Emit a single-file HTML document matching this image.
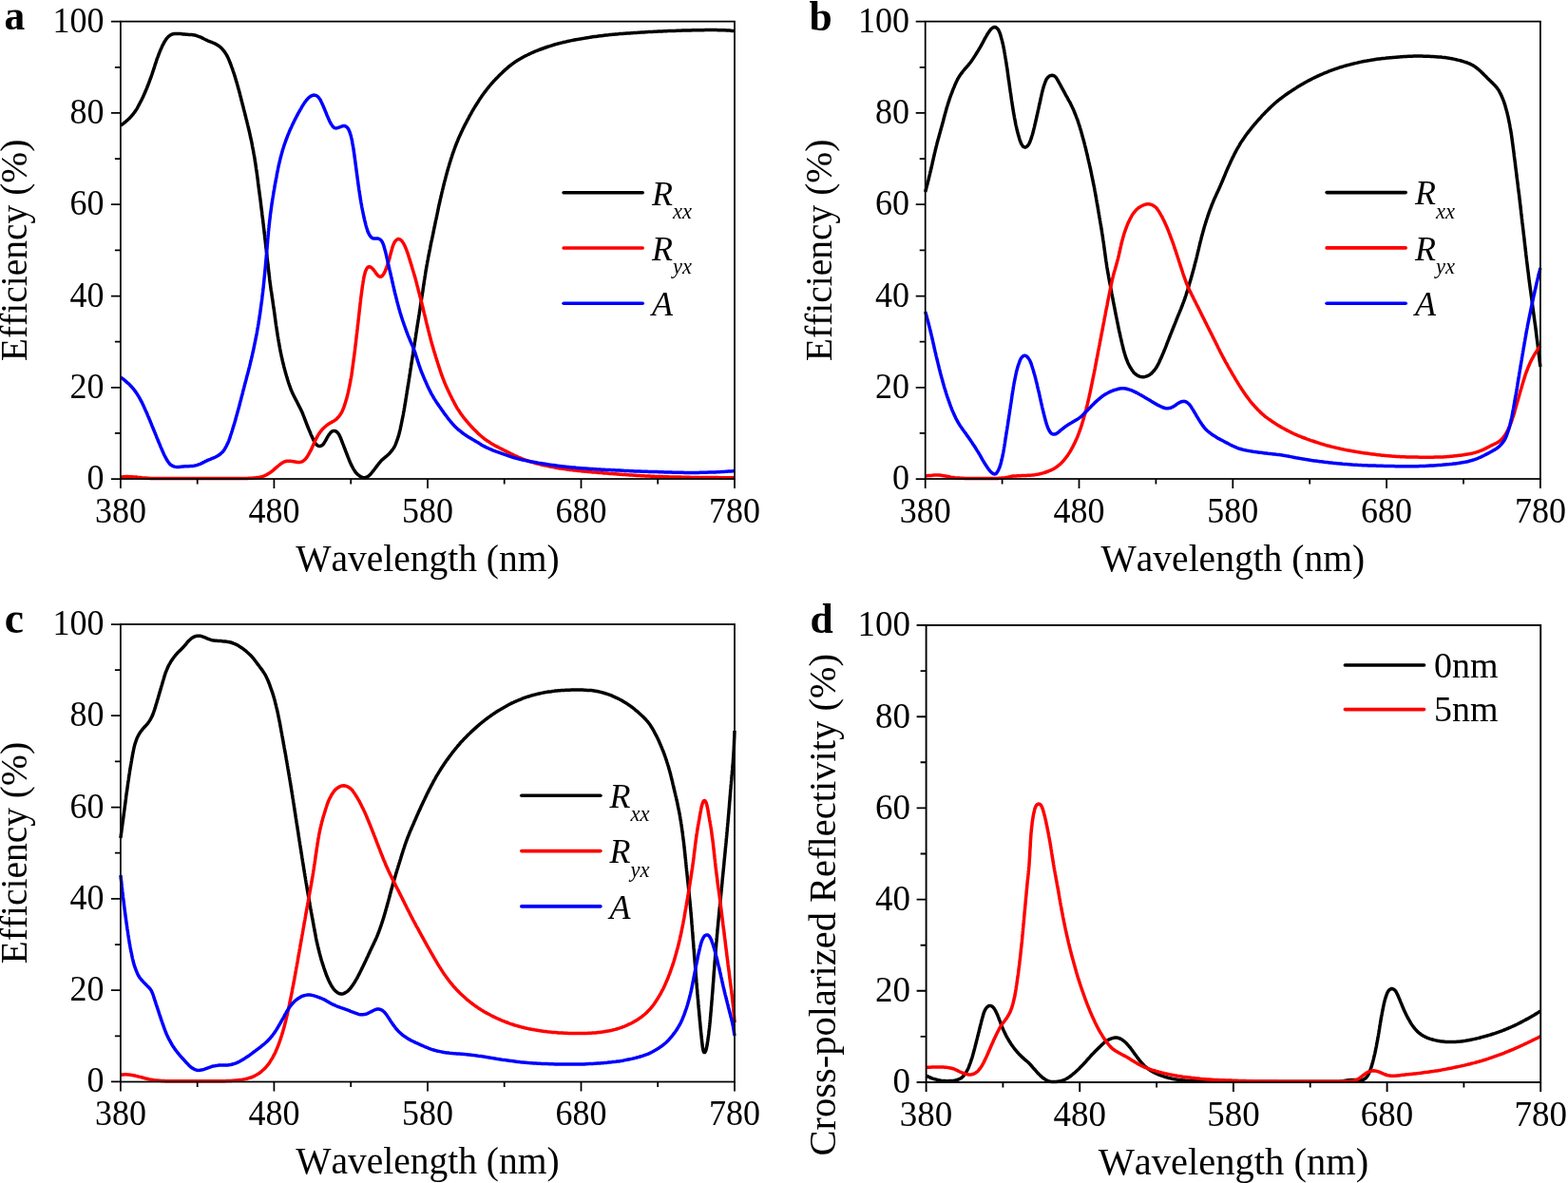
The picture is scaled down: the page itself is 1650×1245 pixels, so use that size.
<!DOCTYPE html>
<html lang="en">
<head>
<meta charset="utf-8">
<title>Efficiency and cross-polarized reflectivity spectra</title>
<style>
html,body{margin:0;padding:0;background:#fff;}
body{width:1650px;height:1245px;overflow:hidden;}
svg{display:block;}
svg text{font-kerning:none;}
</style>
</head>
<body>
<svg width="1650" height="1245" viewBox="0 0 1650 1245">
<rect width="1650" height="1245" fill="#fff"/>
<g class="panel-a">
<path d="M126.9 132.0 L128.2 131.2 L129.4 130.3 L130.6 129.4 L131.8 128.5 L132.9 127.5 L134.0 126.5 L135.1 125.5 L136.2 124.5 L137.2 123.4 L138.3 122.3 L139.2 121.1 L140.2 120.0 L141.1 118.8 L142.0 117.6 L142.8 116.3 L143.6 115.1 L144.4 113.8 L145.1 112.5 L145.8 111.2 L146.5 109.8 L147.2 108.5 L147.9 107.2 L148.6 105.8 L149.3 104.5 L149.9 103.1 L150.6 101.8 L151.2 100.4 L151.8 99.1 L152.4 97.7 L153.0 96.3 L153.6 94.9 L154.2 93.5 L154.7 92.2 L155.3 90.8 L155.8 89.4 L156.4 88.0 L156.9 86.6 L157.4 85.2 L157.9 83.7 L158.5 82.3 L159.0 80.9 L159.5 79.5 L160.0 78.1 L160.4 76.7 L160.9 75.3 L161.4 73.8 L161.9 72.4 L162.3 71.0 L162.8 69.5 L163.2 68.1 L163.7 66.7 L164.2 65.3 L164.6 63.8 L165.1 62.4 L165.6 61.0 L166.2 59.6 L166.7 58.2 L167.2 56.8 L167.8 55.4 L168.3 54.0 L168.9 52.6 L169.5 51.2 L170.1 49.9 L170.7 48.5 L171.4 47.2 L172.1 45.9 L172.8 44.5 L173.6 43.2 L174.4 42.0 L175.2 40.7 L176.2 39.6 L177.2 38.5 L178.4 37.6 L179.6 36.8 L180.9 36.1 L182.3 35.7 L183.8 35.5 L185.3 35.4 L186.8 35.4 L188.3 35.5 L189.8 35.6 L191.3 35.7 L192.8 35.9 L194.3 36.0 L195.8 36.2 L197.2 36.3 L198.7 36.4 L200.2 36.5 L201.7 36.6 L203.2 36.8 L204.7 37.0 L206.2 37.3 L207.6 37.8 L209.0 38.3 L210.4 38.8 L211.8 39.4 L213.1 40.1 L214.4 40.8 L215.8 41.5 L217.1 42.1 L218.5 42.8 L219.9 43.3 L221.2 43.9 L222.6 44.4 L224.0 45.0 L225.4 45.6 L226.8 46.2 L228.1 47.0 L229.3 47.8 L230.6 48.6 L231.8 49.5 L232.9 50.5 L233.9 51.6 L234.9 52.7 L235.8 53.9 L236.7 55.1 L237.5 56.3 L238.3 57.6 L239.0 58.9 L239.7 60.3 L240.3 61.6 L240.9 63.0 L241.5 64.4 L242.0 65.8 L242.6 67.2 L243.1 68.6 L243.6 70.0 L244.1 71.4 L244.7 72.8 L245.1 74.2 L245.6 75.7 L246.1 77.1 L246.6 78.5 L247.0 79.9 L247.5 81.4 L247.9 82.8 L248.3 84.3 L248.7 85.7 L249.2 87.1 L249.6 88.6 L250.0 90.0 L250.4 91.5 L250.8 92.9 L251.2 94.4 L251.6 95.8 L252.0 97.3 L252.4 98.7 L252.7 100.2 L253.1 101.6 L253.5 103.1 L253.8 104.5 L254.2 106.0 L254.6 107.4 L255.0 108.9 L255.3 110.3 L255.7 111.8 L256.1 113.2 L256.4 114.7 L256.8 116.1 L257.2 117.6 L257.6 119.0 L257.9 120.5 L258.3 122.0 L258.7 123.4 L259.0 124.9 L259.4 126.3 L259.8 127.8 L260.1 129.2 L260.5 130.7 L260.8 132.1 L261.2 133.6 L261.5 135.1 L261.9 136.5 L262.2 138.0 L262.6 139.4 L262.9 140.9 L263.2 142.4 L263.5 143.8 L263.8 145.3 L264.2 146.8 L264.5 148.2 L264.8 149.7 L265.1 151.2 L265.4 152.7 L265.6 154.1 L265.9 155.6 L266.2 157.1 L266.5 158.5 L266.8 160.0 L267.0 161.5 L267.3 163.0 L267.6 164.5 L267.8 165.9 L268.1 167.4 L268.3 168.9 L268.5 170.4 L268.8 171.9 L269.0 173.3 L269.2 174.8 L269.4 176.3 L269.6 177.8 L269.9 179.3 L270.1 180.8 L270.3 182.2 L270.5 183.7 L270.7 185.2 L270.9 186.7 L271.1 188.2 L271.3 189.7 L271.5 191.2 L271.6 192.7 L271.8 194.1 L272.0 195.6 L272.2 197.1 L272.4 198.6 L272.6 200.1 L272.8 201.6 L273.0 203.1 L273.2 204.6 L273.4 206.0 L273.6 207.5 L273.8 209.0 L274.0 210.5 L274.2 212.0 L274.4 213.5 L274.5 215.0 L274.7 216.5 L274.9 217.9 L275.1 219.4 L275.3 220.9 L275.5 222.4 L275.7 223.9 L275.8 225.4 L276.0 226.9 L276.2 228.4 L276.4 229.9 L276.6 231.3 L276.7 232.8 L276.9 234.3 L277.1 235.8 L277.3 237.3 L277.4 238.8 L277.6 240.3 L277.8 241.8 L278.0 243.3 L278.1 244.8 L278.3 246.2 L278.5 247.7 L278.6 249.2 L278.8 250.7 L279.0 252.2 L279.2 253.7 L279.3 255.2 L279.5 256.7 L279.7 258.2 L279.8 259.7 L280.0 261.2 L280.2 262.6 L280.3 264.1 L280.5 265.6 L280.7 267.1 L280.8 268.6 L281.0 270.1 L281.2 271.6 L281.3 273.1 L281.5 274.6 L281.7 276.1 L281.9 277.6 L282.0 279.0 L282.2 280.5 L282.4 282.0 L282.5 283.5 L282.7 285.0 L282.9 286.5 L283.0 288.0 L283.2 289.5 L283.4 291.0 L283.6 292.5 L283.7 293.9 L283.9 295.4 L284.1 296.9 L284.3 298.4 L284.5 299.9 L284.7 301.4 L284.9 302.9 L285.1 304.4 L285.3 305.8 L285.6 307.3 L285.8 308.8 L286.0 310.3 L286.2 311.8 L286.4 313.3 L286.6 314.7 L286.9 316.2 L287.1 317.7 L287.3 319.2 L287.5 320.7 L287.7 322.2 L287.9 323.7 L288.2 325.1 L288.4 326.6 L288.6 328.1 L288.8 329.6 L289.0 331.1 L289.2 332.6 L289.4 334.1 L289.6 335.5 L289.8 337.0 L290.0 338.5 L290.2 340.0 L290.4 341.5 L290.6 343.0 L290.9 344.4 L291.1 345.9 L291.3 347.4 L291.5 348.9 L291.8 350.4 L292.0 351.9 L292.2 353.3 L292.5 354.8 L292.7 356.3 L293.0 357.8 L293.2 359.3 L293.5 360.7 L293.7 362.2 L294.0 363.7 L294.3 365.2 L294.5 366.6 L294.8 368.1 L295.1 369.6 L295.4 371.1 L295.7 372.5 L296.0 374.0 L296.3 375.5 L296.7 376.9 L297.0 378.4 L297.3 379.9 L297.7 381.3 L298.0 382.8 L298.4 384.2 L298.7 385.7 L299.1 387.1 L299.5 388.6 L299.9 390.0 L300.3 391.5 L300.7 392.9 L301.1 394.4 L301.5 395.8 L302.0 397.2 L302.4 398.7 L302.8 400.1 L303.3 401.5 L303.7 403.0 L304.2 404.4 L304.7 405.8 L305.2 407.2 L305.7 408.6 L306.2 410.1 L306.8 411.4 L307.4 412.8 L308.0 414.2 L308.7 415.5 L309.3 416.9 L310.0 418.2 L310.7 419.5 L311.4 420.9 L312.1 422.2 L312.8 423.5 L313.4 424.9 L314.1 426.2 L314.8 427.5 L315.5 428.9 L316.2 430.2 L316.8 431.6 L317.5 432.9 L318.1 434.3 L318.7 435.7 L319.2 437.1 L319.8 438.5 L320.3 439.9 L320.8 441.3 L321.4 442.7 L321.9 444.1 L322.4 445.5 L323.0 446.9 L323.5 448.3 L324.1 449.7 L324.6 451.1 L325.2 452.4 L325.8 453.8 L326.4 455.2 L326.9 456.6 L327.5 458.0 L328.2 459.3 L328.8 460.7 L329.4 462.1 L330.0 463.4 L330.7 464.8 L331.5 466.0 L332.4 467.2 L333.4 468.3 L334.6 469.1 L335.9 469.5 L337.2 469.5 L338.5 468.9 L339.6 468.1 L340.6 467.0 L341.4 465.7 L342.2 464.4 L342.9 463.1 L343.6 461.8 L344.3 460.5 L345.1 459.2 L345.9 457.9 L346.8 456.7 L347.7 455.5 L348.7 454.5 L349.9 453.8 L351.3 453.4 L352.6 453.6 L353.9 454.2 L355.0 455.1 L355.9 456.2 L356.8 457.4 L357.4 458.8 L358.1 460.1 L358.6 461.5 L359.2 462.9 L359.7 464.3 L360.3 465.7 L360.8 467.1 L361.4 468.5 L361.9 469.9 L362.4 471.3 L363.0 472.7 L363.5 474.1 L364.0 475.5 L364.6 476.9 L365.1 478.3 L365.7 479.7 L366.2 481.1 L366.8 482.5 L367.3 483.9 L367.9 485.3 L368.5 486.7 L369.1 488.0 L369.7 489.4 L370.4 490.7 L371.1 492.0 L371.8 493.4 L372.6 494.6 L373.4 495.9 L374.3 497.1 L375.3 498.2 L376.4 499.3 L377.5 500.2 L378.7 501.1 L380.0 501.8 L381.4 502.4 L382.8 502.7 L384.2 502.7 L385.6 502.3 L386.9 501.6 L388.1 500.8 L389.2 499.8 L390.2 498.7 L391.2 497.5 L392.1 496.4 L393.1 495.2 L394.0 494.0 L394.9 492.8 L395.8 491.6 L396.7 490.4 L397.6 489.2 L398.5 488.0 L399.5 486.9 L400.4 485.7 L401.5 484.6 L402.5 483.6 L403.7 482.6 L404.8 481.7 L406.0 480.7 L407.1 479.7 L408.2 478.7 L409.3 477.7 L410.3 476.6 L411.3 475.4 L412.2 474.3 L413.2 473.1 L414.0 471.9 L414.8 470.6 L415.5 469.2 L416.1 467.9 L416.7 466.5 L417.2 465.1 L417.7 463.7 L418.2 462.3 L418.7 460.9 L419.2 459.4 L419.6 458.0 L420.0 456.5 L420.4 455.1 L420.7 453.6 L421.1 452.2 L421.4 450.7 L421.7 449.2 L422.0 447.8 L422.3 446.3 L422.6 444.8 L422.9 443.4 L423.2 441.9 L423.5 440.4 L423.8 439.0 L424.1 437.5 L424.4 436.0 L424.6 434.5 L424.9 433.1 L425.2 431.6 L425.4 430.1 L425.7 428.6 L425.9 427.1 L426.2 425.7 L426.4 424.2 L426.7 422.7 L426.9 421.2 L427.1 419.7 L427.4 418.3 L427.6 416.8 L427.8 415.3 L428.1 413.8 L428.3 412.3 L428.5 410.9 L428.8 409.4 L429.0 407.9 L429.3 406.4 L429.5 404.9 L429.7 403.4 L430.0 402.0 L430.2 400.5 L430.4 399.0 L430.7 397.5 L430.9 396.0 L431.1 394.6 L431.4 393.1 L431.6 391.6 L431.8 390.1 L432.0 388.6 L432.3 387.1 L432.5 385.7 L432.7 384.2 L433.0 382.7 L433.2 381.2 L433.4 379.7 L433.7 378.2 L433.9 376.8 L434.1 375.3 L434.3 373.8 L434.6 372.3 L434.8 370.8 L435.0 369.4 L435.3 367.9 L435.5 366.4 L435.7 364.9 L436.0 363.4 L436.2 361.9 L436.4 360.5 L436.7 359.0 L436.9 357.5 L437.1 356.0 L437.4 354.5 L437.6 353.1 L437.8 351.6 L438.0 350.1 L438.3 348.6 L438.5 347.1 L438.7 345.6 L439.0 344.2 L439.2 342.7 L439.4 341.2 L439.7 339.7 L439.9 338.2 L440.1 336.7 L440.4 335.3 L440.6 333.8 L440.8 332.3 L441.1 330.8 L441.3 329.3 L441.5 327.9 L441.8 326.4 L442.0 324.9 L442.2 323.4 L442.4 321.9 L442.7 320.4 L442.9 319.0 L443.1 317.5 L443.4 316.0 L443.6 314.5 L443.8 313.0 L444.1 311.6 L444.3 310.1 L444.5 308.6 L444.8 307.1 L445.0 305.6 L445.2 304.1 L445.4 302.7 L445.6 301.2 L445.9 299.7 L446.1 298.2 L446.3 296.7 L446.5 295.2 L446.8 293.8 L447.0 292.3 L447.2 290.8 L447.5 289.3 L447.7 287.8 L447.9 286.3 L448.2 284.9 L448.4 283.4 L448.7 281.9 L448.9 280.4 L449.2 278.9 L449.5 277.5 L449.7 276.0 L450.0 274.5 L450.3 273.0 L450.5 271.6 L450.8 270.1 L451.1 268.6 L451.4 267.2 L451.7 265.7 L452.0 264.2 L452.3 262.7 L452.6 261.3 L452.8 259.8 L453.1 258.3 L453.4 256.9 L453.7 255.4 L454.0 253.9 L454.4 252.4 L454.7 251.0 L455.0 249.5 L455.3 248.0 L455.6 246.6 L455.9 245.1 L456.2 243.6 L456.5 242.2 L456.8 240.7 L457.1 239.2 L457.4 237.8 L457.7 236.3 L458.0 234.8 L458.3 233.4 L458.6 231.9 L459.0 230.4 L459.3 228.9 L459.6 227.5 L459.9 226.0 L460.2 224.5 L460.5 223.1 L460.8 221.6 L461.1 220.1 L461.4 218.7 L461.7 217.2 L462.0 215.7 L462.4 214.3 L462.7 212.8 L463.0 211.3 L463.3 209.9 L463.7 208.4 L464.0 207.0 L464.4 205.5 L464.7 204.0 L465.0 202.6 L465.4 201.1 L465.7 199.7 L466.1 198.2 L466.4 196.7 L466.8 195.3 L467.2 193.8 L467.5 192.4 L467.9 190.9 L468.3 189.5 L468.7 188.0 L469.0 186.6 L469.4 185.1 L469.8 183.7 L470.2 182.2 L470.6 180.8 L471.0 179.3 L471.4 177.9 L471.8 176.4 L472.3 175.0 L472.7 173.6 L473.1 172.1 L473.5 170.7 L474.0 169.3 L474.4 167.8 L474.9 166.4 L475.4 165.0 L475.8 163.5 L476.3 162.1 L476.8 160.7 L477.3 159.3 L477.8 157.9 L478.3 156.5 L478.8 155.1 L479.3 153.7 L479.9 152.3 L480.4 150.9 L481.0 149.5 L481.6 148.1 L482.1 146.7 L482.7 145.3 L483.3 143.9 L483.9 142.6 L484.6 141.2 L485.2 139.8 L485.8 138.5 L486.5 137.1 L487.1 135.8 L487.8 134.4 L488.4 133.1 L489.1 131.7 L489.8 130.4 L490.5 129.1 L491.2 127.7 L491.9 126.4 L492.6 125.1 L493.3 123.8 L494.0 122.4 L494.7 121.1 L495.5 119.8 L496.2 118.5 L496.9 117.2 L497.7 115.9 L498.4 114.6 L499.2 113.3 L500.0 112.0 L500.8 110.8 L501.6 109.5 L502.4 108.2 L503.2 107.0 L504.0 105.7 L504.8 104.4 L505.6 103.2 L506.5 102.0 L507.3 100.7 L508.2 99.5 L509.1 98.3 L510.0 97.1 L510.9 95.9 L511.8 94.7 L512.7 93.5 L513.7 92.3 L514.6 91.2 L515.6 90.0 L516.5 88.9 L517.5 87.8 L518.5 86.6 L519.5 85.5 L520.5 84.4 L521.6 83.3 L522.6 82.2 L523.7 81.2 L524.7 80.1 L525.8 79.0 L526.8 78.0 L527.9 77.0 L529.0 75.9 L530.1 74.9 L531.2 73.9 L532.3 72.9 L533.5 71.9 L534.6 70.9 L535.7 69.9 L536.9 69.0 L538.1 68.1 L539.3 67.2 L540.5 66.3 L541.7 65.4 L543.0 64.6 L544.2 63.8 L545.5 63.0 L546.8 62.2 L548.1 61.5 L549.4 60.7 L550.7 60.0 L552.0 59.3 L553.4 58.6 L554.7 58.0 L556.1 57.3 L557.4 56.7 L558.8 56.0 L560.1 55.4 L561.5 54.8 L562.9 54.2 L564.3 53.7 L565.7 53.1 L567.1 52.5 L568.5 52.0 L569.9 51.5 L571.3 51.0 L572.7 50.5 L574.1 50.0 L575.5 49.5 L577.0 49.0 L578.4 48.6 L579.8 48.1 L581.3 47.7 L582.7 47.2 L584.1 46.8 L585.6 46.4 L587.0 46.0 L588.5 45.6 L589.9 45.2 L591.4 44.9 L592.8 44.5 L594.3 44.2 L595.8 43.9 L597.2 43.5 L598.7 43.2 L600.2 42.9 L601.6 42.6 L603.1 42.3 L604.6 42.0 L606.0 41.7 L607.5 41.4 L609.0 41.2 L610.5 40.9 L612.0 40.7 L613.4 40.4 L614.9 40.2 L616.4 39.9 L617.9 39.7 L619.4 39.5 L620.8 39.3 L622.3 39.0 L623.8 38.8 L625.3 38.6 L626.8 38.4 L628.3 38.2 L629.8 38.0 L631.2 37.8 L632.7 37.7 L634.2 37.5 L635.7 37.3 L637.2 37.1 L638.7 36.9 L640.2 36.8 L641.7 36.6 L643.2 36.5 L644.7 36.3 L646.1 36.2 L647.6 36.0 L649.1 35.9 L650.6 35.8 L652.1 35.6 L653.6 35.5 L655.1 35.4 L656.6 35.3 L658.1 35.2 L659.6 35.1 L661.1 35.0 L662.6 34.9 L664.1 34.8 L665.6 34.7 L667.1 34.6 L668.6 34.5 L670.1 34.4 L671.6 34.3 L673.1 34.2 L674.6 34.1 L676.1 34.0 L677.6 33.9 L679.1 33.8 L680.6 33.7 L682.1 33.6 L683.6 33.5 L685.1 33.5 L686.6 33.4 L688.1 33.3 L689.6 33.2 L691.1 33.2 L692.5 33.1 L694.0 33.0 L695.5 33.0 L697.0 32.9 L698.5 32.8 L700.0 32.8 L701.5 32.7 L703.0 32.6 L704.5 32.6 L706.0 32.5 L707.5 32.5 L709.0 32.4 L710.5 32.4 L712.0 32.3 L713.5 32.3 L715.0 32.2 L716.5 32.2 L718.0 32.1 L719.5 32.1 L721.0 32.0 L722.5 32.0 L724.0 31.9 L725.5 31.9 L727.0 31.9 L728.5 31.8 L730.0 31.8 L731.5 31.8 L733.0 31.8 L734.5 31.7 L736.0 31.7 L737.5 31.7 L739.0 31.7 L740.5 31.7 L742.0 31.6 L743.5 31.6 L745.0 31.6 L746.5 31.6 L748.0 31.6 L749.5 31.6 L751.0 31.6 L752.5 31.6 L754.0 31.6 L755.5 31.7 L757.0 31.7 L758.5 31.7 L760.0 31.8 L761.5 31.8 L763.0 31.8 L764.5 31.9 L766.0 32.0 L767.5 32.1 L769.0 32.2 L770.5 32.4 L772.0 32.5 L773.0 32.6" fill="none" stroke="#000" stroke-width="3.5" stroke-linejoin="round" stroke-linecap="butt"/>
<path d="M126.9 502.0 L128.4 501.9 L129.9 501.8 L131.4 501.7 L132.9 501.6 L134.4 501.6 L135.9 501.7 L137.4 501.7 L138.9 501.8 L140.4 501.9 L141.9 502.0 L143.4 502.1 L144.9 502.3 L146.4 502.4 L147.8 502.6 L149.3 502.8 L150.8 502.9 L152.3 503.0 L153.8 503.1 L155.3 503.2 L156.8 503.3 L158.3 503.4 L159.8 503.4 L161.3 503.4 L162.8 503.4 L164.3 503.4 L165.8 503.4 L167.3 503.4 L168.8 503.4 L170.3 503.4 L171.8 503.4 L173.3 503.4 L174.8 503.4 L176.3 503.4 L177.8 503.4 L179.3 503.4 L180.8 503.4 L182.3 503.4 L183.8 503.4 L185.3 503.4 L186.8 503.4 L188.3 503.4 L189.8 503.4 L191.3 503.4 L192.8 503.4 L194.3 503.4 L195.8 503.4 L197.3 503.4 L198.8 503.4 L200.3 503.4 L201.8 503.4 L203.3 503.4 L204.8 503.4 L206.3 503.4 L207.8 503.4 L209.3 503.4 L210.8 503.4 L212.3 503.4 L213.8 503.4 L215.3 503.4 L216.8 503.4 L218.3 503.4 L219.8 503.4 L221.3 503.4 L222.8 503.4 L224.3 503.4 L225.8 503.4 L227.3 503.4 L228.8 503.4 L230.3 503.4 L231.8 503.4 L233.3 503.4 L234.8 503.4 L236.3 503.4 L237.8 503.4 L239.3 503.4 L240.8 503.4 L242.3 503.4 L243.8 503.4 L245.3 503.4 L246.8 503.4 L248.3 503.4 L249.8 503.4 L251.3 503.4 L252.8 503.4 L254.3 503.4 L255.8 503.4 L257.3 503.4 L258.8 503.4 L260.3 503.4 L261.8 503.3 L263.3 503.3 L264.8 503.2 L266.3 503.1 L267.8 503.0 L269.3 502.8 L270.8 502.6 L272.3 502.4 L273.7 502.1 L275.2 501.8 L276.6 501.3 L278.0 500.8 L279.4 500.2 L280.7 499.6 L282.0 498.8 L283.3 498.0 L284.5 497.2 L285.7 496.3 L286.9 495.4 L288.1 494.4 L289.2 493.4 L290.3 492.4 L291.5 491.4 L292.6 490.5 L293.8 489.5 L294.9 488.6 L296.1 487.7 L297.4 486.9 L298.7 486.2 L300.1 485.7 L301.5 485.3 L303.0 485.2 L304.5 485.2 L306.0 485.3 L307.4 485.6 L308.9 485.8 L310.4 486.0 L311.9 486.2 L313.4 486.4 L314.9 486.4 L316.3 486.3 L317.7 485.9 L319.0 485.2 L320.1 484.3 L321.2 483.2 L322.2 482.1 L323.1 480.9 L323.9 479.6 L324.6 478.3 L325.4 477.0 L326.1 475.7 L326.8 474.4 L327.5 473.1 L328.1 471.7 L328.7 470.3 L329.3 469.0 L329.9 467.6 L330.5 466.2 L331.1 464.8 L331.8 463.5 L332.4 462.1 L333.1 460.8 L333.9 459.5 L334.6 458.2 L335.4 456.9 L336.2 455.7 L337.1 454.4 L338.0 453.3 L339.0 452.1 L340.0 451.0 L341.1 450.0 L342.2 449.0 L343.4 448.0 L344.5 447.1 L345.7 446.2 L347.0 445.4 L348.3 444.7 L349.6 443.9 L350.9 443.2 L352.2 442.4 L353.4 441.6 L354.5 440.6 L355.5 439.5 L356.5 438.4 L357.4 437.2 L358.3 435.9 L359.1 434.7 L359.8 433.4 L360.5 432.0 L361.0 430.6 L361.6 429.2 L362.1 427.8 L362.6 426.4 L363.0 425.0 L363.5 423.6 L363.9 422.1 L364.4 420.7 L364.8 419.2 L365.2 417.8 L365.6 416.3 L365.9 414.9 L366.3 413.4 L366.6 412.0 L366.9 410.5 L367.2 409.0 L367.5 407.6 L367.8 406.1 L368.1 404.6 L368.4 403.2 L368.7 401.7 L368.9 400.2 L369.2 398.7 L369.5 397.3 L369.7 395.8 L370.0 394.3 L370.2 392.8 L370.4 391.3 L370.6 389.8 L370.8 388.4 L371.0 386.9 L371.2 385.4 L371.4 383.9 L371.6 382.4 L371.8 380.9 L372.0 379.4 L372.2 377.9 L372.4 376.5 L372.6 375.0 L372.8 373.5 L373.0 372.0 L373.2 370.5 L373.4 369.0 L373.6 367.5 L373.7 366.0 L373.9 364.6 L374.1 363.1 L374.3 361.6 L374.5 360.1 L374.6 358.6 L374.8 357.1 L375.0 355.6 L375.1 354.1 L375.3 352.6 L375.5 351.1 L375.7 349.7 L375.8 348.2 L376.0 346.7 L376.2 345.2 L376.3 343.7 L376.5 342.2 L376.7 340.7 L376.9 339.2 L377.0 337.7 L377.2 336.2 L377.4 334.8 L377.5 333.3 L377.7 331.8 L377.9 330.3 L378.0 328.8 L378.2 327.3 L378.4 325.8 L378.5 324.3 L378.7 322.8 L378.9 321.3 L379.0 319.8 L379.2 318.4 L379.4 316.9 L379.5 315.4 L379.7 313.9 L379.9 312.4 L380.1 310.9 L380.3 309.4 L380.5 307.9 L380.7 306.4 L380.9 305.0 L381.1 303.5 L381.3 302.0 L381.5 300.5 L381.8 299.0 L382.0 297.5 L382.2 296.1 L382.5 294.6 L382.7 293.1 L383.0 291.6 L383.3 290.2 L383.7 288.7 L384.1 287.3 L384.5 285.8 L385.1 284.4 L385.7 283.1 L386.4 281.9 L387.4 281.0 L388.5 280.7 L389.8 280.9 L391.0 281.7 L392.0 282.7 L393.0 283.8 L393.9 285.0 L394.8 286.2 L395.6 287.5 L396.6 288.6 L397.5 289.8 L398.6 290.7 L399.7 291.3 L400.9 291.2 L402.0 290.5 L402.9 289.5 L403.8 288.2 L404.5 286.9 L405.2 285.6 L405.7 284.2 L406.3 282.8 L406.8 281.4 L407.3 280.0 L407.8 278.6 L408.3 277.1 L408.7 275.7 L409.1 274.3 L409.6 272.8 L410.0 271.4 L410.3 269.9 L410.7 268.5 L411.1 267.0 L411.5 265.6 L411.9 264.1 L412.3 262.7 L412.7 261.2 L413.1 259.8 L413.6 258.4 L414.2 257.0 L414.8 255.6 L415.5 254.4 L416.4 253.2 L417.5 252.2 L418.7 251.6 L419.9 251.6 L421.2 252.1 L422.3 253.0 L423.3 254.1 L424.1 255.4 L424.9 256.6 L425.6 258.0 L426.2 259.3 L426.8 260.7 L427.4 262.1 L427.9 263.5 L428.4 264.9 L428.9 266.3 L429.4 267.7 L429.9 269.2 L430.3 270.6 L430.8 272.0 L431.2 273.5 L431.6 274.9 L432.1 276.3 L432.5 277.8 L432.9 279.2 L433.4 280.6 L433.8 282.1 L434.2 283.5 L434.7 284.9 L435.1 286.4 L435.5 287.8 L436.0 289.3 L436.4 290.7 L436.8 292.1 L437.2 293.6 L437.6 295.0 L438.0 296.5 L438.4 297.9 L438.7 299.4 L439.1 300.8 L439.5 302.3 L439.9 303.7 L440.2 305.2 L440.6 306.6 L441.0 308.1 L441.4 309.5 L441.7 311.0 L442.1 312.4 L442.5 313.9 L442.9 315.4 L443.2 316.8 L443.6 318.3 L444.0 319.7 L444.3 321.2 L444.7 322.6 L445.0 324.1 L445.4 325.5 L445.7 327.0 L446.1 328.5 L446.4 329.9 L446.8 331.4 L447.2 332.8 L447.5 334.3 L447.9 335.8 L448.2 337.2 L448.6 338.7 L448.9 340.1 L449.3 341.6 L449.6 343.0 L450.0 344.5 L450.4 345.9 L450.7 347.4 L451.1 348.9 L451.5 350.3 L451.8 351.8 L452.2 353.2 L452.6 354.7 L453.0 356.1 L453.3 357.6 L453.7 359.0 L454.1 360.5 L454.5 361.9 L454.9 363.4 L455.4 364.8 L455.8 366.2 L456.2 367.7 L456.6 369.1 L457.1 370.6 L457.5 372.0 L457.9 373.4 L458.4 374.9 L458.8 376.3 L459.3 377.7 L459.7 379.1 L460.2 380.6 L460.6 382.0 L461.1 383.4 L461.5 384.9 L462.0 386.3 L462.5 387.7 L462.9 389.2 L463.4 390.6 L463.9 392.0 L464.3 393.4 L464.8 394.8 L465.4 396.2 L465.9 397.6 L466.4 399.0 L467.0 400.4 L467.5 401.8 L468.1 403.2 L468.7 404.6 L469.3 406.0 L469.9 407.3 L470.5 408.7 L471.2 410.1 L471.8 411.4 L472.4 412.8 L473.1 414.1 L473.7 415.5 L474.4 416.8 L475.1 418.2 L475.7 419.5 L476.4 420.9 L477.1 422.2 L477.8 423.5 L478.5 424.9 L479.2 426.2 L479.9 427.5 L480.7 428.8 L481.4 430.1 L482.2 431.3 L483.1 432.6 L483.9 433.8 L484.7 435.1 L485.6 436.3 L486.5 437.5 L487.4 438.7 L488.3 439.9 L489.3 441.1 L490.2 442.2 L491.2 443.4 L492.1 444.5 L493.1 445.6 L494.1 446.8 L495.1 447.9 L496.1 449.0 L497.2 450.1 L498.2 451.2 L499.3 452.2 L500.3 453.3 L501.4 454.3 L502.5 455.4 L503.5 456.4 L504.6 457.5 L505.8 458.5 L506.9 459.5 L508.0 460.4 L509.2 461.4 L510.4 462.3 L511.6 463.1 L512.8 464.0 L514.1 464.8 L515.4 465.6 L516.6 466.4 L517.9 467.2 L519.2 467.9 L520.5 468.7 L521.8 469.4 L523.2 470.1 L524.5 470.8 L525.8 471.5 L527.2 472.2 L528.5 472.8 L529.8 473.5 L531.2 474.2 L532.5 474.9 L533.8 475.6 L535.2 476.2 L536.5 476.9 L537.9 477.6 L539.2 478.2 L540.6 478.9 L541.9 479.5 L543.3 480.1 L544.7 480.8 L546.0 481.4 L547.4 481.9 L548.8 482.5 L550.2 483.1 L551.6 483.6 L553.0 484.1 L554.4 484.6 L555.8 485.1 L557.3 485.6 L558.7 486.0 L560.1 486.4 L561.6 486.9 L563.0 487.3 L564.5 487.7 L565.9 488.1 L567.4 488.4 L568.8 488.8 L570.3 489.2 L571.7 489.5 L573.2 489.8 L574.7 490.1 L576.1 490.4 L577.6 490.7 L579.1 491.0 L580.5 491.3 L582.0 491.6 L583.5 491.9 L585.0 492.2 L586.4 492.4 L587.9 492.7 L589.4 492.9 L590.9 493.1 L592.4 493.4 L593.9 493.6 L595.3 493.8 L596.8 494.0 L598.3 494.2 L599.8 494.4 L601.3 494.6 L602.8 494.8 L604.3 495.0 L605.8 495.1 L607.2 495.3 L608.7 495.5 L610.2 495.6 L611.7 495.8 L613.2 495.9 L614.7 496.1 L616.2 496.2 L617.7 496.3 L619.2 496.5 L620.7 496.6 L622.2 496.7 L623.7 496.9 L625.2 497.0 L626.7 497.1 L628.2 497.2 L629.7 497.4 L631.1 497.5 L632.6 497.6 L634.1 497.7 L635.6 497.9 L637.1 498.0 L638.6 498.1 L640.1 498.2 L641.6 498.4 L643.1 498.5 L644.6 498.6 L646.1 498.7 L647.6 498.8 L649.1 498.9 L650.6 499.0 L652.1 499.2 L653.6 499.3 L655.1 499.4 L656.6 499.5 L658.1 499.6 L659.6 499.7 L661.1 499.8 L662.6 499.9 L664.1 500.0 L665.5 500.1 L667.0 500.2 L668.5 500.3 L670.0 500.4 L671.5 500.5 L673.0 500.6 L674.5 500.7 L676.0 500.7 L677.5 500.8 L679.0 500.9 L680.5 501.0 L682.0 501.1 L683.5 501.1 L685.0 501.2 L686.5 501.3 L688.0 501.3 L689.5 501.4 L691.0 501.4 L692.5 501.5 L694.0 501.5 L695.5 501.6 L697.0 501.6 L698.5 501.7 L700.0 501.7 L701.5 501.8 L703.0 501.8 L704.5 501.9 L706.0 501.9 L707.5 501.9 L709.0 502.0 L710.5 502.0 L712.0 502.0 L713.5 502.1 L715.0 502.1 L716.5 502.1 L718.0 502.2 L719.5 502.2 L721.0 502.2 L722.5 502.3 L724.0 502.3 L725.5 502.3 L727.0 502.4 L728.5 502.4 L730.0 502.4 L731.5 502.4 L733.0 502.4 L734.5 502.5 L736.0 502.5 L737.5 502.5 L739.0 502.5 L740.5 502.5 L742.0 502.5 L743.5 502.5 L745.0 502.6 L746.5 502.6 L748.0 502.6 L749.5 502.6 L751.0 502.6 L752.5 502.6 L754.0 502.6 L755.5 502.6 L757.0 502.7 L758.5 502.7 L760.0 502.7 L761.5 502.7 L763.0 502.7 L764.5 502.7 L766.0 502.7 L767.5 502.8 L769.0 502.8 L770.5 502.8 L772.0 502.8 L773.0 502.8" fill="none" stroke="#ff0000" stroke-width="3.5" stroke-linejoin="round" stroke-linecap="butt"/>
<path d="M126.9 397.0 L128.1 397.9 L129.3 398.7 L130.5 399.7 L131.7 400.6 L132.8 401.6 L133.9 402.6 L135.1 403.6 L136.1 404.6 L137.2 405.7 L138.2 406.8 L139.2 407.9 L140.2 409.1 L141.1 410.2 L142.0 411.4 L142.9 412.6 L143.8 413.9 L144.6 415.1 L145.3 416.4 L146.1 417.7 L146.9 419.0 L147.6 420.3 L148.3 421.6 L149.0 422.9 L149.7 424.3 L150.3 425.6 L151.0 427.0 L151.6 428.4 L152.2 429.7 L152.8 431.1 L153.4 432.5 L154.1 433.8 L154.7 435.2 L155.2 436.6 L155.8 438.0 L156.4 439.3 L157.0 440.7 L157.6 442.1 L158.1 443.5 L158.7 444.9 L159.3 446.3 L159.8 447.7 L160.4 449.1 L161.0 450.5 L161.5 451.8 L162.1 453.2 L162.7 454.6 L163.2 456.0 L163.8 457.4 L164.4 458.8 L164.9 460.2 L165.5 461.6 L166.1 463.0 L166.6 464.3 L167.2 465.7 L167.8 467.1 L168.4 468.5 L168.9 469.9 L169.5 471.3 L170.1 472.6 L170.7 474.0 L171.3 475.4 L171.9 476.8 L172.5 478.1 L173.2 479.5 L173.9 480.8 L174.6 482.2 L175.3 483.5 L176.1 484.7 L176.9 486.0 L177.8 487.2 L178.7 488.3 L179.9 489.3 L181.1 490.1 L182.4 490.7 L183.9 491.1 L185.3 491.4 L186.8 491.4 L188.3 491.4 L189.8 491.2 L191.3 491.1 L192.7 490.9 L194.2 490.8 L195.7 490.8 L197.2 490.7 L198.7 490.7 L200.2 490.6 L201.7 490.6 L203.2 490.4 L204.7 490.1 L206.1 489.8 L207.6 489.4 L209.0 488.9 L210.4 488.4 L211.8 487.8 L213.1 487.1 L214.5 486.4 L215.8 485.7 L217.1 485.1 L218.5 484.4 L219.9 483.8 L221.3 483.3 L222.7 482.7 L224.1 482.2 L225.4 481.6 L226.8 481.0 L228.1 480.3 L229.4 479.5 L230.6 478.7 L231.9 477.8 L233.0 476.8 L234.1 475.8 L235.0 474.7 L235.9 473.4 L236.7 472.2 L237.4 470.9 L238.2 469.6 L238.8 468.2 L239.5 466.9 L240.1 465.5 L240.7 464.1 L241.2 462.7 L241.7 461.3 L242.2 459.9 L242.6 458.4 L243.1 457.0 L243.6 455.6 L244.0 454.2 L244.5 452.7 L244.9 451.3 L245.3 449.9 L245.8 448.4 L246.2 447.0 L246.7 445.6 L247.1 444.1 L247.5 442.7 L247.9 441.2 L248.3 439.8 L248.7 438.3 L249.1 436.9 L249.5 435.5 L249.9 434.0 L250.3 432.6 L250.7 431.1 L251.1 429.7 L251.5 428.2 L251.9 426.8 L252.3 425.3 L252.6 423.9 L253.0 422.4 L253.4 421.0 L253.8 419.5 L254.1 418.1 L254.5 416.6 L254.9 415.2 L255.3 413.7 L255.6 412.3 L256.0 410.8 L256.4 409.3 L256.8 407.9 L257.1 406.4 L257.5 405.0 L257.9 403.5 L258.3 402.1 L258.7 400.6 L259.1 399.2 L259.4 397.7 L259.8 396.3 L260.2 394.8 L260.6 393.4 L261.0 391.9 L261.4 390.5 L261.7 389.0 L262.1 387.6 L262.5 386.1 L262.8 384.7 L263.2 383.2 L263.5 381.8 L263.9 380.3 L264.2 378.8 L264.6 377.4 L264.9 375.9 L265.3 374.5 L265.6 373.0 L265.9 371.5 L266.3 370.1 L266.6 368.6 L266.9 367.1 L267.2 365.7 L267.5 364.2 L267.8 362.7 L268.1 361.3 L268.4 359.8 L268.7 358.3 L269.0 356.9 L269.3 355.4 L269.6 353.9 L269.9 352.4 L270.2 351.0 L270.4 349.5 L270.7 348.0 L270.9 346.5 L271.2 345.1 L271.5 343.6 L271.7 342.1 L272.0 340.6 L272.2 339.1 L272.4 337.7 L272.7 336.2 L272.9 334.7 L273.1 333.2 L273.4 331.7 L273.6 330.2 L273.8 328.8 L274.0 327.3 L274.2 325.8 L274.4 324.3 L274.6 322.8 L274.8 321.3 L275.0 319.8 L275.2 318.4 L275.4 316.9 L275.6 315.4 L275.8 313.9 L275.9 312.4 L276.1 310.9 L276.3 309.4 L276.5 307.9 L276.7 306.4 L276.8 305.0 L277.0 303.5 L277.2 302.0 L277.3 300.5 L277.5 299.0 L277.6 297.5 L277.8 296.0 L277.9 294.5 L278.1 293.0 L278.2 291.5 L278.4 290.0 L278.5 288.5 L278.7 287.1 L278.8 285.6 L279.0 284.1 L279.1 282.6 L279.3 281.1 L279.4 279.6 L279.5 278.1 L279.7 276.6 L279.8 275.1 L279.9 273.6 L280.1 272.1 L280.2 270.6 L280.3 269.1 L280.5 267.6 L280.6 266.1 L280.7 264.6 L280.8 263.1 L281.0 261.7 L281.1 260.2 L281.2 258.7 L281.3 257.2 L281.5 255.7 L281.6 254.2 L281.7 252.7 L281.8 251.2 L282.0 249.7 L282.1 248.2 L282.3 246.7 L282.4 245.2 L282.5 243.7 L282.7 242.2 L282.8 240.7 L283.0 239.2 L283.1 237.8 L283.3 236.3 L283.5 234.8 L283.6 233.3 L283.8 231.8 L284.0 230.3 L284.2 228.8 L284.3 227.3 L284.5 225.8 L284.7 224.3 L284.9 222.9 L285.1 221.4 L285.3 219.9 L285.5 218.4 L285.7 216.9 L285.9 215.4 L286.2 213.9 L286.4 212.5 L286.6 211.0 L286.8 209.5 L287.1 208.0 L287.3 206.5 L287.6 205.1 L287.8 203.6 L288.0 202.1 L288.3 200.6 L288.6 199.1 L288.8 197.7 L289.1 196.2 L289.3 194.7 L289.6 193.2 L289.9 191.7 L290.1 190.3 L290.4 188.8 L290.7 187.3 L291.0 185.8 L291.2 184.4 L291.5 182.9 L291.8 181.4 L292.1 180.0 L292.4 178.5 L292.7 177.0 L293.0 175.5 L293.3 174.1 L293.6 172.6 L294.0 171.2 L294.3 169.7 L294.7 168.2 L295.0 166.8 L295.4 165.3 L295.8 163.9 L296.2 162.4 L296.6 161.0 L297.0 159.5 L297.4 158.1 L297.8 156.7 L298.3 155.2 L298.7 153.8 L299.2 152.4 L299.7 151.0 L300.2 149.6 L300.7 148.1 L301.2 146.7 L301.8 145.3 L302.3 143.9 L302.8 142.5 L303.4 141.1 L304.0 139.7 L304.5 138.4 L305.1 137.0 L305.7 135.6 L306.4 134.2 L307.0 132.9 L307.6 131.5 L308.3 130.2 L308.9 128.8 L309.6 127.5 L310.2 126.1 L310.9 124.8 L311.6 123.5 L312.3 122.1 L313.0 120.8 L313.7 119.5 L314.5 118.2 L315.2 116.9 L315.9 115.6 L316.7 114.3 L317.4 113.0 L318.2 111.7 L319.0 110.4 L319.8 109.1 L320.6 107.9 L321.5 106.7 L322.4 105.5 L323.4 104.4 L324.4 103.3 L325.5 102.3 L326.7 101.4 L328.0 100.7 L329.4 100.3 L330.8 100.1 L332.2 100.4 L333.5 101.0 L334.6 101.9 L335.6 103.0 L336.5 104.2 L337.3 105.5 L337.9 106.8 L338.6 108.2 L339.2 109.5 L339.8 110.9 L340.4 112.3 L341.0 113.7 L341.6 115.1 L342.1 116.5 L342.7 117.8 L343.3 119.2 L343.8 120.6 L344.4 122.0 L345.0 123.4 L345.6 124.8 L346.2 126.1 L346.8 127.5 L347.5 128.8 L348.2 130.2 L349.0 131.4 L349.8 132.6 L350.8 133.7 L351.9 134.6 L353.2 134.9 L354.5 134.8 L355.9 134.4 L357.3 133.8 L358.7 133.3 L360.1 132.8 L361.5 132.5 L362.9 132.6 L364.1 133.1 L365.2 134.0 L366.2 135.1 L366.9 136.4 L367.5 137.8 L368.1 139.2 L368.5 140.6 L369.0 142.0 L369.4 143.5 L369.7 144.9 L370.1 146.4 L370.4 147.8 L370.7 149.3 L370.9 150.8 L371.2 152.3 L371.4 153.7 L371.7 155.2 L371.9 156.7 L372.2 158.2 L372.4 159.7 L372.6 161.2 L372.8 162.6 L373.0 164.1 L373.2 165.6 L373.4 167.1 L373.6 168.6 L373.8 170.1 L374.0 171.6 L374.2 173.0 L374.4 174.5 L374.6 176.0 L374.8 177.5 L375.0 179.0 L375.2 180.5 L375.4 182.0 L375.6 183.5 L375.8 184.9 L376.0 186.4 L376.2 187.9 L376.4 189.4 L376.6 190.9 L376.8 192.4 L377.0 193.9 L377.2 195.3 L377.4 196.8 L377.6 198.3 L377.8 199.8 L378.1 201.3 L378.3 202.8 L378.5 204.3 L378.7 205.7 L379.0 207.2 L379.2 208.7 L379.4 210.2 L379.7 211.7 L379.9 213.1 L380.2 214.6 L380.5 216.1 L380.7 217.6 L381.0 219.0 L381.3 220.5 L381.6 222.0 L381.9 223.5 L382.2 224.9 L382.5 226.4 L382.8 227.9 L383.1 229.3 L383.5 230.8 L383.8 232.2 L384.2 233.7 L384.6 235.2 L384.9 236.6 L385.3 238.1 L385.7 239.5 L386.2 240.9 L386.6 242.4 L387.1 243.8 L387.7 245.2 L388.4 246.5 L389.1 247.8 L390.0 249.0 L391.0 250.0 L392.2 250.7 L393.6 251.0 L395.1 251.0 L396.5 251.0 L398.0 251.1 L399.3 251.6 L400.5 252.4 L401.4 253.4 L402.2 254.7 L402.9 256.0 L403.4 257.4 L403.9 258.8 L404.3 260.3 L404.7 261.7 L405.1 263.2 L405.5 264.6 L405.9 266.1 L406.2 267.5 L406.6 269.0 L406.9 270.5 L407.2 271.9 L407.6 273.4 L407.9 274.8 L408.2 276.3 L408.5 277.8 L408.9 279.2 L409.2 280.7 L409.6 282.2 L409.9 283.6 L410.3 285.1 L410.6 286.5 L410.9 288.0 L411.3 289.5 L411.6 290.9 L412.0 292.4 L412.3 293.8 L412.6 295.3 L412.9 296.8 L413.3 298.2 L413.6 299.7 L413.9 301.2 L414.3 302.6 L414.6 304.1 L414.9 305.5 L415.3 307.0 L415.6 308.5 L416.0 309.9 L416.4 311.4 L416.7 312.8 L417.1 314.3 L417.5 315.7 L417.8 317.2 L418.2 318.6 L418.6 320.1 L419.0 321.5 L419.4 323.0 L419.8 324.4 L420.2 325.9 L420.6 327.3 L421.0 328.8 L421.5 330.2 L421.9 331.6 L422.3 333.1 L422.8 334.5 L423.3 335.9 L423.7 337.3 L424.2 338.8 L424.7 340.2 L425.2 341.6 L425.7 343.0 L426.2 344.4 L426.7 345.8 L427.2 347.2 L427.7 348.7 L428.3 350.1 L428.8 351.5 L429.3 352.9 L429.9 354.3 L430.5 355.6 L431.0 357.0 L431.6 358.4 L432.2 359.8 L432.8 361.2 L433.4 362.5 L434.0 363.9 L434.6 365.3 L435.1 366.7 L435.6 368.1 L436.2 369.5 L436.7 370.9 L437.2 372.3 L437.6 373.8 L438.1 375.2 L438.5 376.6 L439.0 378.1 L439.4 379.5 L439.9 380.9 L440.4 382.3 L440.8 383.8 L441.3 385.2 L441.8 386.6 L442.3 388.0 L442.8 389.4 L443.3 390.8 L443.9 392.2 L444.5 393.6 L445.0 395.0 L445.6 396.4 L446.2 397.8 L446.8 399.2 L447.4 400.5 L448.0 401.9 L448.6 403.3 L449.2 404.6 L449.8 406.0 L450.5 407.4 L451.1 408.7 L451.8 410.1 L452.4 411.4 L453.1 412.7 L453.8 414.1 L454.5 415.4 L455.3 416.7 L456.0 418.0 L456.8 419.3 L457.6 420.6 L458.4 421.8 L459.2 423.1 L460.0 424.3 L460.9 425.6 L461.7 426.8 L462.6 428.0 L463.5 429.2 L464.3 430.5 L465.2 431.7 L466.1 432.9 L466.9 434.2 L467.8 435.4 L468.7 436.6 L469.6 437.8 L470.5 439.0 L471.4 440.2 L472.3 441.4 L473.2 442.5 L474.2 443.7 L475.2 444.8 L476.2 446.0 L477.2 447.1 L478.2 448.2 L479.2 449.2 L480.3 450.3 L481.4 451.3 L482.6 452.3 L483.7 453.2 L484.9 454.2 L486.0 455.1 L487.2 456.0 L488.4 456.9 L489.7 457.8 L490.9 458.6 L492.2 459.4 L493.5 460.2 L494.8 460.9 L496.1 461.7 L497.4 462.5 L498.7 463.2 L499.9 464.0 L501.2 464.8 L502.5 465.5 L503.8 466.3 L505.0 467.1 L506.3 467.9 L507.6 468.7 L508.9 469.4 L510.3 470.1 L511.6 470.8 L513.0 471.4 L514.3 472.0 L515.7 472.6 L517.1 473.2 L518.5 473.8 L519.9 474.3 L521.3 474.9 L522.7 475.4 L524.1 475.9 L525.5 476.4 L526.9 476.9 L528.3 477.4 L529.7 477.9 L531.1 478.4 L532.6 478.9 L534.0 479.4 L535.4 479.9 L536.8 480.4 L538.2 480.8 L539.7 481.3 L541.1 481.7 L542.6 482.1 L544.0 482.5 L545.4 482.9 L546.9 483.3 L548.4 483.6 L549.8 484.0 L551.3 484.3 L552.8 484.6 L554.2 484.9 L555.7 485.2 L557.2 485.5 L558.6 485.8 L560.1 486.1 L561.6 486.3 L563.1 486.6 L564.5 486.8 L566.0 487.1 L567.5 487.4 L569.0 487.6 L570.5 487.8 L571.9 488.1 L573.4 488.3 L574.9 488.5 L576.4 488.8 L577.9 489.0 L579.4 489.2 L580.8 489.4 L582.3 489.6 L583.8 489.8 L585.3 490.0 L586.8 490.2 L588.3 490.4 L589.8 490.6 L591.3 490.7 L592.7 490.9 L594.2 491.1 L595.7 491.2 L597.2 491.4 L598.7 491.6 L600.2 491.7 L601.7 491.9 L603.2 492.0 L604.7 492.1 L606.2 492.3 L607.7 492.4 L609.2 492.5 L610.7 492.7 L612.2 492.8 L613.7 492.9 L615.1 493.0 L616.6 493.1 L618.1 493.2 L619.6 493.3 L621.1 493.4 L622.6 493.5 L624.1 493.6 L625.6 493.7 L627.1 493.8 L628.6 493.9 L630.1 494.0 L631.6 494.1 L633.1 494.2 L634.6 494.2 L636.1 494.3 L637.6 494.4 L639.1 494.5 L640.6 494.5 L642.1 494.6 L643.6 494.7 L645.1 494.8 L646.6 494.8 L648.1 494.9 L649.6 495.0 L651.1 495.1 L652.6 495.1 L654.1 495.2 L655.6 495.3 L657.1 495.4 L658.6 495.5 L660.1 495.5 L661.6 495.6 L663.1 495.7 L664.6 495.8 L666.1 495.8 L667.6 495.9 L669.1 496.0 L670.6 496.0 L672.1 496.1 L673.6 496.1 L675.1 496.2 L676.6 496.2 L678.1 496.3 L679.6 496.3 L681.1 496.3 L682.6 496.4 L684.1 496.4 L685.6 496.5 L687.1 496.5 L688.6 496.6 L690.1 496.6 L691.6 496.6 L693.1 496.7 L694.6 496.7 L696.1 496.8 L697.6 496.8 L699.1 496.9 L700.6 496.9 L702.1 497.0 L703.6 497.0 L705.1 497.1 L706.5 497.1 L708.0 497.2 L709.5 497.2 L711.0 497.2 L712.5 497.2 L714.0 497.3 L715.5 497.3 L717.0 497.3 L718.5 497.3 L720.0 497.4 L721.5 497.4 L723.0 497.4 L724.5 497.4 L726.0 497.4 L727.5 497.4 L729.0 497.4 L730.5 497.4 L732.0 497.4 L733.5 497.4 L735.0 497.4 L736.5 497.3 L738.0 497.3 L739.5 497.3 L741.0 497.2 L742.5 497.2 L744.0 497.2 L745.5 497.1 L747.0 497.1 L748.5 497.0 L750.0 497.0 L751.5 496.9 L753.0 496.9 L754.5 496.8 L756.0 496.7 L757.5 496.7 L759.0 496.6 L760.5 496.5 L762.0 496.4 L763.5 496.3 L765.0 496.2 L766.5 496.1 L768.0 496.0 L769.5 495.9 L771.0 495.8 L772.5 495.6 L773.0 495.6" fill="none" stroke="#0000ff" stroke-width="3.5" stroke-linejoin="round" stroke-linecap="butt"/>
<rect x="126.9" y="22.6" width="646.1" height="481.4" fill="none" stroke="#000" stroke-width="1.75"/>
<path d="M126.9 504.1h-10.0M126.9 455.9h-6.0M126.9 407.8h-10.0M126.9 359.6h-6.0M126.9 311.5h-10.0M126.9 263.4h-6.0M126.9 215.2h-10.0M126.9 167.1h-6.0M126.9 118.9h-10.0M126.9 70.8h-6.0M126.9 22.7h-10.0M126.9 504.1v10.0M207.7 504.1v5.5M288.4 504.1v10.0M369.2 504.1v5.5M450.0 504.1v10.0M530.7 504.1v5.5M611.5 504.1v10.0M692.2 504.1v5.5M773.0 504.1v10.0" stroke="#000" stroke-width="1.75" fill="none"/>
<g font-family="'Liberation Serif', 'Times New Roman', serif" font-size="36" fill="#000">
<text transform="translate(109.5 515.0) scale(1 1.035)" text-anchor="end">0</text>
<text transform="translate(109.5 418.8) scale(1 1.035)" text-anchor="end">20</text>
<text transform="translate(109.5 322.5) scale(1 1.035)" text-anchor="end">40</text>
<text transform="translate(109.5 226.2) scale(1 1.035)" text-anchor="end">60</text>
<text transform="translate(109.5 129.9) scale(1 1.035)" text-anchor="end">80</text>
<text transform="translate(109.5 33.7) scale(1 1.035)" text-anchor="end">100</text>
<text transform="translate(126.9 549.6) scale(1 1.035)" text-anchor="middle">380</text>
<text transform="translate(288.4 549.6) scale(1 1.035)" text-anchor="middle">480</text>
<text transform="translate(450.0 549.6) scale(1 1.035)" text-anchor="middle">580</text>
<text transform="translate(611.5 549.6) scale(1 1.035)" text-anchor="middle">680</text>
<text transform="translate(773.0 549.6) scale(1 1.035)" text-anchor="middle">780</text>
</g>
<g font-family="'Liberation Serif', 'Times New Roman', serif" font-size="39.5" fill="#000">
<text x="449.9" y="600.8" text-anchor="middle">Wavelength (nm)</text>
<text transform="translate(28.3 263.4) rotate(-90)" text-anchor="middle">Efficiency (%)</text>
</g>
<text x="4.5" y="30.7" font-family="'Liberation Serif', 'Times New Roman', serif" font-weight="bold" font-size="43.5" fill="#000">a</text>
<path d="M593.1 202.7H676.2" stroke="#000" stroke-width="3.6" stroke-linecap="round" fill="none"/>
<text x="685.9" y="215.5" font-family="'Liberation Serif', 'Times New Roman', serif" font-style="italic" font-size="36" fill="#000">R<tspan font-size="22.5" dy="14.1">xx</tspan></text>
<path d="M593.1 261.0H676.2" stroke="#ff0000" stroke-width="3.6" stroke-linecap="round" fill="none"/>
<text x="685.9" y="273.8" font-family="'Liberation Serif', 'Times New Roman', serif" font-style="italic" font-size="36" fill="#000">R<tspan font-size="22.5" dy="14.1">yx</tspan></text>
<path d="M593.1 319.3H676.2" stroke="#0000ff" stroke-width="3.6" stroke-linecap="round" fill="none"/>
<text x="685.9" y="332.1" font-family="'Liberation Serif', 'Times New Roman', serif" font-style="italic" font-size="36" fill="#000">A</text>
</g>
<g class="panel-b">
<path d="M973.7 202.0 L974.1 200.5 L974.5 199.1 L974.8 197.6 L975.2 196.2 L975.6 194.7 L976.0 193.3 L976.3 191.8 L976.7 190.4 L977.1 188.9 L977.4 187.5 L977.8 186.0 L978.1 184.6 L978.5 183.1 L978.8 181.6 L979.2 180.2 L979.5 178.7 L979.9 177.3 L980.2 175.8 L980.5 174.3 L980.9 172.9 L981.2 171.4 L981.5 169.9 L981.9 168.5 L982.2 167.0 L982.5 165.5 L982.9 164.1 L983.2 162.6 L983.5 161.2 L983.9 159.7 L984.2 158.2 L984.6 156.8 L984.9 155.3 L985.3 153.9 L985.7 152.4 L986.0 151.0 L986.4 149.5 L986.8 148.1 L987.2 146.6 L987.6 145.2 L988.0 143.7 L988.4 142.3 L988.8 140.8 L989.2 139.4 L989.6 137.9 L990.0 136.5 L990.4 135.1 L990.8 133.6 L991.2 132.2 L991.6 130.7 L992.0 129.3 L992.4 127.8 L992.8 126.4 L993.1 124.9 L993.5 123.5 L993.9 122.0 L994.3 120.6 L994.7 119.1 L995.1 117.7 L995.5 116.2 L995.9 114.8 L996.3 113.3 L996.7 111.9 L997.2 110.5 L997.6 109.0 L998.1 107.6 L998.6 106.2 L999.0 104.8 L999.5 103.3 L1000.0 101.9 L1000.5 100.5 L1001.0 99.1 L1001.6 97.7 L1002.1 96.3 L1002.6 94.9 L1003.2 93.5 L1003.8 92.1 L1004.4 90.7 L1004.9 89.4 L1005.5 88.0 L1006.1 86.6 L1006.8 85.2 L1007.4 83.9 L1008.1 82.6 L1008.9 81.3 L1009.7 80.0 L1010.5 78.8 L1011.4 77.6 L1012.3 76.4 L1013.2 75.2 L1014.2 74.0 L1015.1 72.9 L1016.1 71.7 L1017.1 70.6 L1018.1 69.5 L1019.1 68.3 L1020.0 67.2 L1021.0 66.0 L1021.9 64.8 L1022.7 63.6 L1023.6 62.3 L1024.4 61.1 L1025.2 59.8 L1026.0 58.6 L1026.8 57.3 L1027.6 56.0 L1028.4 54.7 L1029.2 53.5 L1030.0 52.2 L1030.7 50.9 L1031.5 49.6 L1032.2 48.3 L1033.0 47.0 L1033.7 45.7 L1034.4 44.4 L1035.1 43.0 L1035.8 41.7 L1036.5 40.4 L1037.2 39.1 L1038.0 37.8 L1038.7 36.5 L1039.5 35.2 L1040.4 33.9 L1041.2 32.7 L1042.1 31.5 L1043.1 30.4 L1044.2 29.5 L1045.5 28.8 L1046.8 28.5 L1048.0 28.8 L1049.1 29.6 L1050.1 30.7 L1050.9 32.0 L1051.5 33.3 L1052.1 34.7 L1052.6 36.1 L1053.0 37.5 L1053.4 39.0 L1053.8 40.4 L1054.2 41.9 L1054.6 43.3 L1054.9 44.8 L1055.3 46.2 L1055.6 47.7 L1055.9 49.2 L1056.2 50.6 L1056.5 52.1 L1056.8 53.6 L1057.0 55.1 L1057.3 56.5 L1057.5 58.0 L1057.8 59.5 L1058.0 61.0 L1058.3 62.5 L1058.5 63.9 L1058.7 65.4 L1059.0 66.9 L1059.2 68.4 L1059.4 69.9 L1059.7 71.4 L1059.9 72.8 L1060.1 74.3 L1060.3 75.8 L1060.5 77.3 L1060.7 78.8 L1060.9 80.3 L1061.1 81.7 L1061.3 83.2 L1061.5 84.7 L1061.8 86.2 L1062.0 87.7 L1062.2 89.2 L1062.4 90.7 L1062.6 92.2 L1062.8 93.6 L1063.0 95.1 L1063.2 96.6 L1063.5 98.1 L1063.7 99.6 L1063.9 101.1 L1064.1 102.5 L1064.3 104.0 L1064.5 105.5 L1064.8 107.0 L1065.0 108.5 L1065.2 110.0 L1065.4 111.4 L1065.7 112.9 L1065.9 114.4 L1066.1 115.9 L1066.4 117.4 L1066.6 118.9 L1066.9 120.3 L1067.2 121.8 L1067.4 123.3 L1067.7 124.8 L1068.0 126.2 L1068.3 127.7 L1068.5 129.2 L1068.8 130.6 L1069.1 132.1 L1069.5 133.6 L1069.8 135.0 L1070.1 136.5 L1070.5 138.0 L1070.9 139.4 L1071.2 140.9 L1071.7 142.3 L1072.1 143.8 L1072.5 145.2 L1072.9 146.6 L1073.4 148.1 L1073.9 149.5 L1074.5 150.8 L1075.2 152.1 L1076.0 153.4 L1077.0 154.4 L1078.1 154.9 L1079.3 154.9 L1080.5 154.3 L1081.5 153.3 L1082.4 152.1 L1083.1 150.8 L1083.8 149.4 L1084.3 148.0 L1084.8 146.6 L1085.3 145.2 L1085.7 143.8 L1086.2 142.3 L1086.6 140.9 L1087.0 139.5 L1087.4 138.0 L1087.7 136.6 L1088.1 135.1 L1088.5 133.6 L1088.8 132.2 L1089.1 130.7 L1089.5 129.3 L1089.8 127.8 L1090.2 126.3 L1090.5 124.9 L1090.8 123.4 L1091.1 121.9 L1091.5 120.5 L1091.8 119.0 L1092.1 117.6 L1092.4 116.1 L1092.8 114.6 L1093.1 113.2 L1093.4 111.7 L1093.7 110.2 L1094.1 108.8 L1094.4 107.3 L1094.7 105.8 L1095.0 104.4 L1095.3 102.9 L1095.7 101.4 L1096.0 100.0 L1096.3 98.5 L1096.7 97.0 L1097.0 95.6 L1097.4 94.1 L1097.8 92.7 L1098.2 91.3 L1098.7 89.8 L1099.2 88.4 L1099.7 87.0 L1100.2 85.6 L1100.8 84.2 L1101.5 82.9 L1102.4 81.8 L1103.5 80.7 L1104.6 79.9 L1106.0 79.4 L1107.4 79.3 L1108.7 79.6 L1109.9 80.3 L1111.0 81.3 L1111.9 82.5 L1112.7 83.8 L1113.4 85.1 L1114.1 86.4 L1114.8 87.7 L1115.6 89.0 L1116.3 90.3 L1117.0 91.6 L1117.7 93.0 L1118.5 94.3 L1119.2 95.6 L1119.9 96.9 L1120.6 98.2 L1121.3 99.6 L1122.0 100.9 L1122.8 102.2 L1123.5 103.5 L1124.2 104.8 L1124.9 106.1 L1125.7 107.4 L1126.4 108.8 L1127.0 110.1 L1127.7 111.5 L1128.3 112.8 L1129.0 114.2 L1129.6 115.5 L1130.2 116.9 L1130.7 118.3 L1131.3 119.7 L1131.9 121.1 L1132.4 122.5 L1132.9 123.9 L1133.5 125.3 L1134.0 126.7 L1134.5 128.1 L1134.9 129.5 L1135.4 131.0 L1135.9 132.4 L1136.3 133.8 L1136.7 135.3 L1137.2 136.7 L1137.6 138.1 L1138.0 139.6 L1138.4 141.0 L1138.8 142.5 L1139.2 143.9 L1139.6 145.4 L1140.0 146.8 L1140.4 148.3 L1140.8 149.7 L1141.2 151.2 L1141.5 152.6 L1141.9 154.1 L1142.3 155.5 L1142.6 157.0 L1143.0 158.4 L1143.3 159.9 L1143.7 161.4 L1144.0 162.8 L1144.4 164.3 L1144.7 165.7 L1145.0 167.2 L1145.4 168.7 L1145.7 170.1 L1146.1 171.6 L1146.4 173.1 L1146.7 174.5 L1147.0 176.0 L1147.4 177.4 L1147.7 178.9 L1148.0 180.4 L1148.3 181.8 L1148.6 183.3 L1148.9 184.8 L1149.2 186.3 L1149.5 187.7 L1149.8 189.2 L1150.1 190.7 L1150.4 192.1 L1150.7 193.6 L1151.0 195.1 L1151.3 196.5 L1151.6 198.0 L1151.9 199.5 L1152.1 201.0 L1152.4 202.4 L1152.7 203.9 L1152.9 205.4 L1153.2 206.9 L1153.5 208.4 L1153.7 209.8 L1154.0 211.3 L1154.2 212.8 L1154.5 214.3 L1154.7 215.7 L1155.0 217.2 L1155.3 218.7 L1155.5 220.2 L1155.8 221.7 L1156.0 223.1 L1156.3 224.6 L1156.5 226.1 L1156.8 227.6 L1157.0 229.1 L1157.3 230.5 L1157.5 232.0 L1157.8 233.5 L1158.0 235.0 L1158.3 236.4 L1158.5 237.9 L1158.8 239.4 L1159.0 240.9 L1159.3 242.4 L1159.5 243.9 L1159.7 245.3 L1160.0 246.8 L1160.2 248.3 L1160.4 249.8 L1160.6 251.3 L1160.8 252.8 L1161.1 254.2 L1161.3 255.7 L1161.5 257.2 L1161.7 258.7 L1161.9 260.2 L1162.1 261.7 L1162.3 263.2 L1162.5 264.6 L1162.7 266.1 L1162.9 267.6 L1163.1 269.1 L1163.3 270.6 L1163.5 272.1 L1163.7 273.6 L1163.9 275.0 L1164.2 276.5 L1164.4 278.0 L1164.6 279.5 L1164.8 281.0 L1165.1 282.5 L1165.3 283.9 L1165.6 285.4 L1165.8 286.9 L1166.1 288.4 L1166.4 289.8 L1166.6 291.3 L1166.9 292.8 L1167.2 294.3 L1167.4 295.7 L1167.7 297.2 L1168.0 298.7 L1168.3 300.2 L1168.6 301.6 L1168.8 303.1 L1169.1 304.6 L1169.4 306.1 L1169.7 307.5 L1169.9 309.0 L1170.2 310.5 L1170.5 312.0 L1170.8 313.4 L1171.1 314.9 L1171.3 316.4 L1171.6 317.9 L1171.9 319.3 L1172.2 320.8 L1172.5 322.3 L1172.8 323.8 L1173.1 325.2 L1173.3 326.7 L1173.6 328.2 L1173.9 329.6 L1174.2 331.1 L1174.5 332.6 L1174.8 334.1 L1175.1 335.5 L1175.4 337.0 L1175.7 338.5 L1176.0 339.9 L1176.3 341.4 L1176.6 342.9 L1176.9 344.3 L1177.2 345.8 L1177.5 347.3 L1177.8 348.7 L1178.2 350.2 L1178.5 351.7 L1178.8 353.1 L1179.1 354.6 L1179.5 356.1 L1179.8 357.5 L1180.1 359.0 L1180.5 360.5 L1180.8 361.9 L1181.2 363.4 L1181.5 364.8 L1181.9 366.3 L1182.2 367.8 L1182.6 369.2 L1183.0 370.6 L1183.4 372.1 L1183.9 373.5 L1184.3 374.9 L1184.8 376.4 L1185.3 377.8 L1185.9 379.2 L1186.4 380.6 L1187.0 382.0 L1187.6 383.3 L1188.3 384.7 L1189.0 386.0 L1189.8 387.3 L1190.6 388.5 L1191.4 389.8 L1192.3 391.0 L1193.2 392.2 L1194.3 393.2 L1195.4 394.1 L1196.7 394.9 L1198.0 395.7 L1199.3 396.2 L1200.8 396.6 L1202.2 396.8 L1203.7 396.7 L1205.1 396.4 L1206.6 396.0 L1207.9 395.4 L1209.3 394.7 L1210.5 393.9 L1211.7 393.0 L1212.7 391.9 L1213.7 390.8 L1214.7 389.7 L1215.6 388.5 L1216.5 387.2 L1217.3 386.0 L1218.0 384.7 L1218.7 383.4 L1219.4 382.0 L1220.0 380.7 L1220.6 379.3 L1221.3 377.9 L1221.9 376.6 L1222.5 375.2 L1223.1 373.8 L1223.7 372.4 L1224.3 371.0 L1224.8 369.7 L1225.4 368.3 L1226.0 366.9 L1226.5 365.5 L1227.1 364.1 L1227.6 362.7 L1228.1 361.3 L1228.7 359.9 L1229.2 358.5 L1229.8 357.1 L1230.3 355.7 L1230.9 354.3 L1231.4 352.9 L1232.0 351.5 L1232.6 350.1 L1233.1 348.7 L1233.7 347.3 L1234.2 345.9 L1234.8 344.6 L1235.3 343.2 L1235.9 341.8 L1236.5 340.4 L1237.0 339.0 L1237.6 337.6 L1238.1 336.2 L1238.7 334.8 L1239.2 333.4 L1239.8 332.0 L1240.4 330.6 L1241.0 329.2 L1241.5 327.9 L1242.1 326.5 L1242.7 325.1 L1243.2 323.7 L1243.8 322.3 L1244.3 320.9 L1244.8 319.5 L1245.4 318.1 L1245.9 316.7 L1246.4 315.3 L1246.9 313.9 L1247.4 312.4 L1247.9 311.0 L1248.3 309.6 L1248.8 308.2 L1249.2 306.7 L1249.7 305.3 L1250.1 303.9 L1250.5 302.4 L1251.0 301.0 L1251.4 299.6 L1251.8 298.1 L1252.2 296.7 L1252.6 295.2 L1253.1 293.8 L1253.5 292.3 L1253.9 290.9 L1254.3 289.5 L1254.7 288.0 L1255.1 286.6 L1255.5 285.1 L1255.9 283.7 L1256.3 282.2 L1256.7 280.8 L1257.1 279.3 L1257.4 277.9 L1257.8 276.4 L1258.2 275.0 L1258.6 273.5 L1258.9 272.1 L1259.3 270.6 L1259.6 269.2 L1260.0 267.7 L1260.3 266.2 L1260.7 264.8 L1261.0 263.3 L1261.4 261.9 L1261.7 260.4 L1262.1 258.9 L1262.4 257.5 L1262.8 256.0 L1263.1 254.6 L1263.5 253.1 L1263.9 251.7 L1264.2 250.2 L1264.6 248.7 L1265.0 247.3 L1265.4 245.9 L1265.8 244.4 L1266.2 243.0 L1266.6 241.5 L1267.0 240.1 L1267.4 238.6 L1267.8 237.2 L1268.3 235.8 L1268.7 234.3 L1269.2 232.9 L1269.6 231.5 L1270.1 230.0 L1270.6 228.6 L1271.0 227.2 L1271.5 225.8 L1272.0 224.4 L1272.5 222.9 L1273.0 221.5 L1273.5 220.1 L1274.1 218.7 L1274.6 217.3 L1275.1 215.9 L1275.7 214.5 L1276.3 213.1 L1276.8 211.8 L1277.4 210.4 L1278.0 209.0 L1278.6 207.6 L1279.3 206.3 L1279.9 204.9 L1280.5 203.5 L1281.1 202.2 L1281.8 200.8 L1282.4 199.5 L1283.0 198.1 L1283.6 196.7 L1284.2 195.4 L1284.8 194.0 L1285.4 192.6 L1286.0 191.2 L1286.6 189.8 L1287.2 188.5 L1287.7 187.1 L1288.3 185.7 L1288.9 184.3 L1289.5 182.9 L1290.0 181.5 L1290.6 180.1 L1291.2 178.8 L1291.8 177.4 L1292.4 176.0 L1293.0 174.7 L1293.7 173.3 L1294.3 171.9 L1294.9 170.6 L1295.5 169.2 L1296.2 167.8 L1296.8 166.5 L1297.5 165.1 L1298.2 163.8 L1298.8 162.5 L1299.5 161.1 L1300.2 159.8 L1300.9 158.5 L1301.6 157.2 L1302.4 155.9 L1303.1 154.6 L1303.9 153.3 L1304.6 152.0 L1305.4 150.7 L1306.2 149.4 L1307.0 148.2 L1307.9 146.9 L1308.7 145.7 L1309.6 144.5 L1310.4 143.2 L1311.3 142.0 L1312.2 140.8 L1313.1 139.6 L1314.0 138.4 L1314.9 137.3 L1315.9 136.1 L1316.8 134.9 L1317.8 133.7 L1318.7 132.6 L1319.7 131.4 L1320.7 130.3 L1321.6 129.2 L1322.6 128.0 L1323.6 126.9 L1324.6 125.8 L1325.6 124.7 L1326.6 123.6 L1327.6 122.4 L1328.6 121.3 L1329.7 120.3 L1330.7 119.2 L1331.7 118.1 L1332.8 117.0 L1333.9 116.0 L1334.9 114.9 L1336.0 113.9 L1337.1 112.8 L1338.2 111.8 L1339.3 110.8 L1340.4 109.8 L1341.5 108.8 L1342.6 107.8 L1343.7 106.8 L1344.9 105.8 L1346.1 104.9 L1347.3 104.0 L1348.5 103.1 L1349.7 102.2 L1350.9 101.3 L1352.1 100.4 L1353.3 99.5 L1354.5 98.7 L1355.8 97.8 L1357.0 97.0 L1358.3 96.2 L1359.5 95.3 L1360.8 94.5 L1362.0 93.7 L1363.3 92.9 L1364.5 92.1 L1365.8 91.3 L1367.1 90.5 L1368.4 89.7 L1369.7 88.9 L1371.0 88.2 L1372.3 87.4 L1373.6 86.7 L1374.9 86.0 L1376.2 85.3 L1377.5 84.6 L1378.9 83.9 L1380.2 83.2 L1381.5 82.5 L1382.9 81.9 L1384.2 81.2 L1385.6 80.6 L1387.0 79.9 L1388.3 79.3 L1389.7 78.7 L1391.1 78.1 L1392.4 77.5 L1393.8 76.9 L1395.2 76.3 L1396.6 75.8 L1398.0 75.2 L1399.4 74.7 L1400.8 74.1 L1402.2 73.6 L1403.6 73.1 L1405.0 72.6 L1406.4 72.1 L1407.9 71.7 L1409.3 71.2 L1410.7 70.7 L1412.2 70.3 L1413.6 69.9 L1415.0 69.4 L1416.5 69.0 L1417.9 68.6 L1419.4 68.2 L1420.8 67.9 L1422.3 67.5 L1423.7 67.1 L1425.2 66.8 L1426.6 66.4 L1428.1 66.1 L1429.6 65.7 L1431.0 65.4 L1432.5 65.1 L1434.0 64.8 L1435.4 64.5 L1436.9 64.2 L1438.4 64.0 L1439.9 63.7 L1441.4 63.5 L1442.8 63.2 L1444.3 63.0 L1445.8 62.8 L1447.3 62.5 L1448.8 62.3 L1450.3 62.1 L1451.7 62.0 L1453.2 61.8 L1454.7 61.6 L1456.2 61.4 L1457.7 61.3 L1459.2 61.1 L1460.7 61.0 L1462.2 60.8 L1463.7 60.7 L1465.2 60.5 L1466.7 60.4 L1468.2 60.3 L1469.7 60.2 L1471.2 60.0 L1472.6 59.9 L1474.1 59.8 L1475.6 59.7 L1477.1 59.6 L1478.6 59.5 L1480.1 59.4 L1481.6 59.3 L1483.1 59.3 L1484.6 59.2 L1486.1 59.2 L1487.6 59.1 L1489.1 59.1 L1490.6 59.1 L1492.1 59.1 L1493.6 59.1 L1495.1 59.1 L1496.6 59.1 L1498.1 59.2 L1499.6 59.2 L1501.1 59.2 L1502.6 59.3 L1504.1 59.3 L1505.6 59.4 L1507.1 59.5 L1508.6 59.6 L1510.1 59.7 L1511.6 59.8 L1513.1 59.9 L1514.6 60.0 L1516.1 60.1 L1517.6 60.3 L1519.1 60.4 L1520.6 60.6 L1522.1 60.8 L1523.5 61.1 L1525.0 61.3 L1526.5 61.6 L1528.0 61.8 L1529.5 62.1 L1530.9 62.4 L1532.4 62.7 L1533.8 63.1 L1535.3 63.4 L1536.8 63.8 L1538.2 64.2 L1539.6 64.6 L1541.1 65.1 L1542.5 65.5 L1543.9 66.0 L1545.3 66.6 L1546.7 67.2 L1548.0 67.8 L1549.4 68.5 L1550.7 69.3 L1551.9 70.1 L1553.2 70.9 L1554.3 71.8 L1555.5 72.8 L1556.6 73.8 L1557.7 74.8 L1558.8 75.8 L1559.9 76.9 L1561.0 77.9 L1562.0 79.0 L1563.1 80.0 L1564.2 81.1 L1565.2 82.2 L1566.3 83.2 L1567.3 84.3 L1568.4 85.3 L1569.5 86.4 L1570.6 87.4 L1571.6 88.5 L1572.7 89.5 L1573.7 90.6 L1574.7 91.8 L1575.6 92.9 L1576.5 94.2 L1577.3 95.4 L1578.0 96.8 L1578.7 98.1 L1579.3 99.4 L1580.0 100.8 L1580.6 102.2 L1581.2 103.5 L1581.7 104.9 L1582.3 106.3 L1582.8 107.7 L1583.2 109.2 L1583.7 110.6 L1584.1 112.0 L1584.5 113.5 L1584.9 114.9 L1585.3 116.4 L1585.7 117.8 L1586.1 119.3 L1586.4 120.7 L1586.8 122.2 L1587.1 123.7 L1587.4 125.1 L1587.7 126.6 L1588.0 128.1 L1588.3 129.5 L1588.6 131.0 L1588.9 132.5 L1589.1 134.0 L1589.4 135.4 L1589.6 136.9 L1589.9 138.4 L1590.1 139.9 L1590.4 141.4 L1590.6 142.8 L1590.8 144.3 L1591.0 145.8 L1591.2 147.3 L1591.4 148.8 L1591.6 150.3 L1591.8 151.8 L1592.0 153.2 L1592.2 154.7 L1592.4 156.2 L1592.6 157.7 L1592.8 159.2 L1593.0 160.7 L1593.2 162.2 L1593.3 163.7 L1593.5 165.2 L1593.7 166.6 L1593.9 168.1 L1594.1 169.6 L1594.3 171.1 L1594.5 172.6 L1594.6 174.1 L1594.8 175.6 L1595.0 177.1 L1595.2 178.6 L1595.4 180.0 L1595.6 181.5 L1595.8 183.0 L1595.9 184.5 L1596.1 186.0 L1596.3 187.5 L1596.5 189.0 L1596.7 190.5 L1596.9 191.9 L1597.1 193.4 L1597.3 194.9 L1597.4 196.4 L1597.6 197.9 L1597.8 199.4 L1598.0 200.9 L1598.2 202.4 L1598.4 203.9 L1598.6 205.3 L1598.7 206.8 L1598.9 208.3 L1599.1 209.8 L1599.3 211.3 L1599.4 212.8 L1599.6 214.3 L1599.8 215.8 L1600.0 217.3 L1600.1 218.8 L1600.3 220.2 L1600.5 221.7 L1600.6 223.2 L1600.8 224.7 L1601.0 226.2 L1601.2 227.7 L1601.3 229.2 L1601.5 230.7 L1601.7 232.2 L1601.8 233.7 L1602.0 235.2 L1602.2 236.6 L1602.4 238.1 L1602.5 239.6 L1602.7 241.1 L1602.9 242.6 L1603.1 244.1 L1603.2 245.6 L1603.4 247.1 L1603.6 248.6 L1603.8 250.1 L1603.9 251.5 L1604.1 253.0 L1604.3 254.5 L1604.4 256.0 L1604.6 257.5 L1604.8 259.0 L1605.0 260.5 L1605.1 262.0 L1605.3 263.5 L1605.5 265.0 L1605.7 266.4 L1605.8 267.9 L1606.0 269.4 L1606.2 270.9 L1606.4 272.4 L1606.5 273.9 L1606.7 275.4 L1606.9 276.9 L1607.1 278.4 L1607.3 279.9 L1607.4 281.3 L1607.6 282.8 L1607.8 284.3 L1608.0 285.8 L1608.2 287.3 L1608.4 288.8 L1608.5 290.3 L1608.7 291.8 L1608.9 293.3 L1609.1 294.7 L1609.3 296.2 L1609.5 297.7 L1609.7 299.2 L1609.9 300.7 L1610.1 302.2 L1610.3 303.7 L1610.5 305.2 L1610.7 306.6 L1610.9 308.1 L1611.1 309.6 L1611.3 311.1 L1611.5 312.6 L1611.7 314.1 L1611.9 315.6 L1612.1 317.1 L1612.3 318.5 L1612.5 320.0 L1612.7 321.5 L1612.9 323.0 L1613.1 324.5 L1613.3 326.0 L1613.5 327.5 L1613.7 328.9 L1613.9 330.4 L1614.1 331.9 L1614.3 333.4 L1614.5 334.9 L1614.7 336.4 L1614.9 337.9 L1615.1 339.4 L1615.3 340.8 L1615.5 342.3 L1615.7 343.8 L1615.9 345.3 L1616.1 346.8 L1616.3 348.3 L1616.5 349.8 L1616.6 351.3 L1616.8 352.7 L1617.0 354.2 L1617.2 355.7 L1617.4 357.2 L1617.6 358.7 L1617.8 360.2 L1618.0 361.7 L1618.2 363.2 L1618.3 364.6 L1618.5 366.1 L1618.7 367.6 L1618.9 369.1 L1619.1 370.6 L1619.2 372.1 L1619.4 373.6 L1619.6 375.1 L1619.8 376.6 L1620.0 378.1 L1620.1 379.5 L1620.3 381.0 L1620.5 382.5 L1620.7 384.0 L1620.8 385.5 L1620.9 386.0" fill="none" stroke="#000" stroke-width="3.5" stroke-linejoin="round" stroke-linecap="butt"/>
<path d="M973.7 501.0 L975.2 500.8 L976.7 500.6 L978.2 500.5 L979.7 500.4 L981.2 500.2 L982.7 500.1 L984.2 500.1 L985.7 500.0 L987.2 500.1 L988.6 500.1 L990.1 500.3 L991.6 500.5 L993.1 500.7 L994.6 500.9 L996.1 501.2 L997.5 501.5 L999.0 501.8 L1000.5 502.2 L1001.9 502.4 L1003.4 502.6 L1004.9 502.8 L1006.4 502.9 L1007.9 503.0 L1009.4 503.1 L1010.9 503.2 L1012.4 503.3 L1013.9 503.3 L1015.4 503.4 L1016.9 503.4 L1018.4 503.4 L1019.9 503.4 L1021.4 503.4 L1022.9 503.4 L1024.4 503.4 L1025.9 503.4 L1027.4 503.4 L1028.9 503.4 L1030.4 503.4 L1031.9 503.4 L1033.4 503.4 L1034.9 503.4 L1036.4 503.4 L1037.9 503.4 L1039.4 503.4 L1040.9 503.4 L1042.4 503.4 L1043.9 503.4 L1045.4 503.4 L1046.9 503.4 L1048.4 503.4 L1049.9 503.4 L1051.4 503.3 L1052.9 503.3 L1054.4 503.1 L1055.9 502.9 L1057.3 502.7 L1058.8 502.4 L1060.3 502.2 L1061.8 501.9 L1063.2 501.6 L1064.7 501.3 L1066.2 501.1 L1067.7 501.0 L1069.2 500.9 L1070.7 500.8 L1072.2 500.7 L1073.7 500.7 L1075.2 500.6 L1076.7 500.5 L1078.2 500.5 L1079.7 500.4 L1081.2 500.3 L1082.7 500.2 L1084.2 500.2 L1085.7 500.1 L1087.2 499.9 L1088.7 499.8 L1090.1 499.6 L1091.6 499.3 L1093.1 499.0 L1094.5 498.6 L1096.0 498.2 L1097.4 497.9 L1098.9 497.5 L1100.3 497.0 L1101.7 496.5 L1103.1 496.0 L1104.5 495.4 L1105.9 494.8 L1107.3 494.2 L1108.6 493.5 L1109.9 492.8 L1111.1 491.9 L1112.3 491.1 L1113.5 490.1 L1114.7 489.2 L1115.8 488.2 L1116.9 487.2 L1118.0 486.1 L1119.0 485.0 L1119.9 483.9 L1120.9 482.7 L1121.8 481.5 L1122.7 480.3 L1123.6 479.1 L1124.4 477.9 L1125.2 476.6 L1126.0 475.3 L1126.8 474.0 L1127.5 472.7 L1128.2 471.4 L1128.9 470.1 L1129.6 468.7 L1130.3 467.4 L1130.9 466.1 L1131.6 464.7 L1132.2 463.3 L1132.8 462.0 L1133.4 460.6 L1134.0 459.2 L1134.5 457.8 L1135.1 456.4 L1135.6 455.0 L1136.1 453.6 L1136.6 452.2 L1137.1 450.8 L1137.6 449.3 L1138.1 447.9 L1138.5 446.5 L1138.9 445.0 L1139.4 443.6 L1139.8 442.2 L1140.2 440.7 L1140.6 439.3 L1141.0 437.8 L1141.4 436.4 L1141.8 435.0 L1142.2 433.5 L1142.6 432.1 L1143.0 430.6 L1143.3 429.1 L1143.7 427.7 L1144.1 426.2 L1144.4 424.8 L1144.8 423.3 L1145.1 421.9 L1145.4 420.4 L1145.8 418.9 L1146.1 417.5 L1146.4 416.0 L1146.8 414.5 L1147.1 413.1 L1147.4 411.6 L1147.7 410.1 L1148.0 408.7 L1148.3 407.2 L1148.6 405.7 L1148.9 404.3 L1149.2 402.8 L1149.5 401.3 L1149.8 399.9 L1150.1 398.4 L1150.4 396.9 L1150.7 395.4 L1151.0 394.0 L1151.3 392.5 L1151.6 391.0 L1151.9 389.6 L1152.2 388.1 L1152.4 386.6 L1152.7 385.1 L1153.0 383.7 L1153.3 382.2 L1153.6 380.7 L1153.9 379.2 L1154.1 377.8 L1154.4 376.3 L1154.7 374.8 L1155.0 373.4 L1155.3 371.9 L1155.5 370.4 L1155.8 368.9 L1156.1 367.5 L1156.4 366.0 L1156.7 364.5 L1157.0 363.0 L1157.2 361.6 L1157.5 360.1 L1157.8 358.6 L1158.1 357.1 L1158.4 355.7 L1158.7 354.2 L1158.9 352.7 L1159.2 351.3 L1159.5 349.8 L1159.8 348.3 L1160.1 346.8 L1160.4 345.4 L1160.6 343.9 L1160.9 342.4 L1161.2 340.9 L1161.5 339.5 L1161.8 338.0 L1162.0 336.5 L1162.3 335.0 L1162.6 333.6 L1162.9 332.1 L1163.2 330.6 L1163.4 329.2 L1163.7 327.7 L1164.0 326.2 L1164.3 324.7 L1164.6 323.3 L1164.9 321.8 L1165.2 320.3 L1165.4 318.8 L1165.7 317.4 L1166.0 315.9 L1166.3 314.4 L1166.6 313.0 L1166.9 311.5 L1167.2 310.0 L1167.5 308.5 L1167.8 307.1 L1168.1 305.6 L1168.4 304.1 L1168.7 302.7 L1169.0 301.2 L1169.3 299.7 L1169.6 298.3 L1169.9 296.8 L1170.2 295.3 L1170.6 293.9 L1170.9 292.4 L1171.3 290.9 L1171.6 289.5 L1172.0 288.0 L1172.4 286.6 L1172.8 285.2 L1173.3 283.7 L1173.7 282.3 L1174.1 280.8 L1174.5 279.4 L1174.9 278.0 L1175.3 276.5 L1175.7 275.1 L1176.1 273.6 L1176.5 272.1 L1176.8 270.7 L1177.2 269.2 L1177.5 267.8 L1177.8 266.3 L1178.2 264.8 L1178.5 263.4 L1178.8 261.9 L1179.2 260.5 L1179.5 259.0 L1179.8 257.5 L1180.2 256.1 L1180.5 254.6 L1180.9 253.2 L1181.3 251.7 L1181.7 250.3 L1182.1 248.8 L1182.5 247.4 L1182.9 245.9 L1183.4 244.5 L1183.9 243.1 L1184.4 241.7 L1184.9 240.3 L1185.4 238.9 L1186.0 237.5 L1186.5 236.1 L1187.1 234.7 L1187.8 233.4 L1188.4 232.0 L1189.1 230.7 L1189.8 229.3 L1190.5 228.0 L1191.2 226.7 L1192.0 225.4 L1192.9 224.2 L1193.8 223.1 L1194.8 221.9 L1195.8 220.8 L1196.9 219.8 L1198.0 218.8 L1199.3 218.0 L1200.5 217.2 L1201.9 216.5 L1203.3 215.9 L1204.7 215.4 L1206.1 215.0 L1207.6 214.8 L1209.0 214.8 L1210.5 215.1 L1211.9 215.5 L1213.2 216.1 L1214.5 216.9 L1215.7 217.8 L1216.8 218.8 L1217.7 219.9 L1218.6 221.2 L1219.4 222.4 L1220.2 223.7 L1221.0 225.0 L1221.7 226.3 L1222.5 227.6 L1223.2 228.9 L1223.8 230.2 L1224.5 231.6 L1225.1 232.9 L1225.8 234.3 L1226.4 235.7 L1227.0 237.0 L1227.6 238.4 L1228.2 239.8 L1228.8 241.2 L1229.4 242.6 L1229.9 244.0 L1230.4 245.4 L1231.0 246.8 L1231.5 248.2 L1232.0 249.6 L1232.5 251.0 L1233.1 252.4 L1233.6 253.8 L1234.1 255.2 L1234.6 256.6 L1235.1 258.0 L1235.6 259.5 L1236.0 260.9 L1236.5 262.3 L1237.0 263.7 L1237.5 265.1 L1237.9 266.6 L1238.4 268.0 L1238.9 269.4 L1239.3 270.8 L1239.8 272.3 L1240.3 273.7 L1240.7 275.1 L1241.2 276.5 L1241.7 278.0 L1242.1 279.4 L1242.6 280.8 L1243.1 282.3 L1243.5 283.7 L1244.0 285.1 L1244.5 286.5 L1244.9 288.0 L1245.4 289.4 L1245.9 290.8 L1246.4 292.2 L1246.9 293.6 L1247.4 295.0 L1247.9 296.4 L1248.4 297.8 L1249.0 299.2 L1249.6 300.6 L1250.2 302.0 L1250.8 303.3 L1251.4 304.7 L1252.0 306.1 L1252.7 307.4 L1253.4 308.8 L1254.0 310.1 L1254.7 311.4 L1255.4 312.8 L1256.0 314.1 L1256.7 315.5 L1257.4 316.8 L1258.1 318.1 L1258.7 319.5 L1259.4 320.8 L1260.1 322.2 L1260.8 323.5 L1261.4 324.8 L1262.1 326.2 L1262.8 327.5 L1263.4 328.9 L1264.1 330.2 L1264.8 331.6 L1265.4 332.9 L1266.1 334.2 L1266.8 335.6 L1267.5 336.9 L1268.1 338.3 L1268.8 339.6 L1269.5 340.9 L1270.1 342.3 L1270.8 343.6 L1271.5 345.0 L1272.2 346.3 L1272.8 347.7 L1273.5 349.0 L1274.2 350.3 L1274.8 351.7 L1275.5 353.0 L1276.2 354.4 L1276.8 355.7 L1277.5 357.0 L1278.2 358.4 L1278.9 359.7 L1279.5 361.1 L1280.2 362.4 L1280.9 363.8 L1281.5 365.1 L1282.2 366.5 L1282.9 367.8 L1283.5 369.1 L1284.2 370.5 L1284.9 371.8 L1285.6 373.1 L1286.3 374.5 L1287.0 375.8 L1287.7 377.1 L1288.4 378.4 L1289.1 379.8 L1289.8 381.1 L1290.6 382.4 L1291.3 383.7 L1292.0 385.0 L1292.7 386.3 L1293.5 387.6 L1294.2 388.9 L1295.0 390.2 L1295.7 391.5 L1296.5 392.8 L1297.2 394.1 L1298.0 395.4 L1298.8 396.7 L1299.5 398.0 L1300.3 399.3 L1301.1 400.6 L1301.9 401.8 L1302.6 403.1 L1303.4 404.4 L1304.2 405.7 L1305.0 406.9 L1305.8 408.2 L1306.6 409.5 L1307.5 410.7 L1308.3 412.0 L1309.1 413.2 L1310.0 414.5 L1310.8 415.7 L1311.7 416.9 L1312.6 418.1 L1313.5 419.3 L1314.4 420.5 L1315.3 421.7 L1316.2 422.9 L1317.1 424.0 L1318.1 425.2 L1319.1 426.3 L1320.1 427.4 L1321.1 428.6 L1322.1 429.6 L1323.2 430.7 L1324.2 431.8 L1325.3 432.8 L1326.3 433.9 L1327.4 434.9 L1328.5 435.9 L1329.7 436.9 L1330.8 437.8 L1332.0 438.8 L1333.2 439.7 L1334.4 440.6 L1335.6 441.4 L1336.9 442.3 L1338.1 443.1 L1339.3 444.0 L1340.6 444.8 L1341.8 445.6 L1343.1 446.5 L1344.4 447.3 L1345.6 448.0 L1346.9 448.8 L1348.2 449.6 L1349.5 450.3 L1350.9 451.0 L1352.2 451.7 L1353.5 452.4 L1354.8 453.1 L1356.2 453.8 L1357.5 454.5 L1358.8 455.2 L1360.2 455.8 L1361.5 456.5 L1362.9 457.1 L1364.3 457.7 L1365.7 458.3 L1367.0 458.8 L1368.4 459.4 L1369.8 460.0 L1371.2 460.5 L1372.6 461.0 L1374.0 461.5 L1375.5 462.1 L1376.9 462.6 L1378.3 463.1 L1379.7 463.6 L1381.1 464.0 L1382.5 464.5 L1384.0 465.0 L1385.4 465.5 L1386.8 465.9 L1388.2 466.4 L1389.7 466.9 L1391.1 467.3 L1392.5 467.7 L1394.0 468.2 L1395.4 468.6 L1396.9 469.0 L1398.3 469.3 L1399.8 469.7 L1401.2 470.1 L1402.7 470.4 L1404.1 470.8 L1405.6 471.1 L1407.1 471.5 L1408.5 471.8 L1410.0 472.1 L1411.4 472.5 L1412.9 472.8 L1414.4 473.1 L1415.9 473.4 L1417.3 473.7 L1418.8 473.9 L1420.3 474.2 L1421.8 474.5 L1423.2 474.8 L1424.7 475.0 L1426.2 475.3 L1427.7 475.5 L1429.1 475.8 L1430.6 476.0 L1432.1 476.3 L1433.6 476.5 L1435.1 476.7 L1436.5 476.9 L1438.0 477.1 L1439.5 477.3 L1441.0 477.5 L1442.5 477.7 L1444.0 477.9 L1445.5 478.1 L1447.0 478.3 L1448.4 478.5 L1449.9 478.7 L1451.4 478.8 L1452.9 479.0 L1454.4 479.2 L1455.9 479.3 L1457.4 479.4 L1458.9 479.6 L1460.4 479.7 L1461.9 479.8 L1463.4 479.9 L1464.9 480.1 L1466.4 480.2 L1467.9 480.3 L1469.4 480.4 L1470.9 480.5 L1472.4 480.6 L1473.9 480.7 L1475.4 480.7 L1476.8 480.8 L1478.3 480.8 L1479.8 480.9 L1481.3 480.9 L1482.8 481.0 L1484.3 481.0 L1485.8 481.0 L1487.3 481.1 L1488.8 481.1 L1490.3 481.1 L1491.8 481.1 L1493.3 481.2 L1494.8 481.2 L1496.3 481.2 L1497.8 481.2 L1499.3 481.2 L1500.8 481.2 L1502.3 481.2 L1503.8 481.2 L1505.3 481.2 L1506.8 481.2 L1508.3 481.2 L1509.8 481.1 L1511.3 481.1 L1512.8 481.1 L1514.3 481.1 L1515.8 481.0 L1517.3 481.0 L1518.8 480.9 L1520.3 480.8 L1521.8 480.7 L1523.3 480.6 L1524.8 480.5 L1526.3 480.3 L1527.8 480.2 L1529.3 480.0 L1530.8 479.8 L1532.3 479.7 L1533.8 479.5 L1535.3 479.3 L1536.8 479.2 L1538.2 479.0 L1539.7 478.8 L1541.2 478.5 L1542.7 478.3 L1544.2 478.1 L1545.7 477.8 L1547.1 477.6 L1548.6 477.2 L1550.1 476.9 L1551.5 476.5 L1552.9 476.1 L1554.4 475.6 L1555.8 475.2 L1557.2 474.7 L1558.6 474.1 L1560.0 473.6 L1561.4 472.9 L1562.7 472.3 L1564.0 471.6 L1565.4 470.9 L1566.7 470.2 L1568.0 469.5 L1569.4 468.8 L1570.7 468.2 L1572.1 467.5 L1573.4 466.9 L1574.8 466.2 L1576.1 465.5 L1577.3 464.7 L1578.5 463.8 L1579.6 462.8 L1580.7 461.7 L1581.7 460.6 L1582.6 459.4 L1583.5 458.2 L1584.3 457.0 L1585.1 455.7 L1585.8 454.4 L1586.5 453.0 L1587.2 451.7 L1587.8 450.3 L1588.4 449.0 L1589.0 447.6 L1589.5 446.2 L1590.1 444.8 L1590.6 443.4 L1591.1 442.0 L1591.5 440.5 L1592.0 439.1 L1592.5 437.7 L1592.9 436.2 L1593.4 434.8 L1593.8 433.4 L1594.2 431.9 L1594.6 430.5 L1595.0 429.1 L1595.4 427.6 L1595.8 426.2 L1596.2 424.7 L1596.6 423.3 L1597.1 421.8 L1597.5 420.4 L1597.9 418.9 L1598.3 417.5 L1598.7 416.1 L1599.1 414.6 L1599.5 413.2 L1599.9 411.7 L1600.3 410.3 L1600.8 408.8 L1601.2 407.4 L1601.6 406.0 L1602.0 404.5 L1602.5 403.1 L1602.9 401.7 L1603.3 400.2 L1603.8 398.8 L1604.2 397.4 L1604.7 395.9 L1605.1 394.5 L1605.6 393.1 L1606.1 391.7 L1606.7 390.3 L1607.2 388.9 L1607.7 387.5 L1608.3 386.1 L1608.9 384.7 L1609.5 383.3 L1610.1 381.9 L1610.7 380.6 L1611.4 379.2 L1612.1 377.9 L1612.8 376.6 L1613.5 375.3 L1614.2 374.0 L1615.0 372.7 L1615.8 371.4 L1616.6 370.1 L1617.4 368.9 L1618.2 367.6 L1619.1 366.4 L1620.0 365.2 L1620.9 364.0" fill="none" stroke="#ff0000" stroke-width="3.5" stroke-linejoin="round" stroke-linecap="butt"/>
<path d="M973.7 328.0 L974.1 329.4 L974.5 330.9 L974.9 332.3 L975.3 333.8 L975.7 335.2 L976.1 336.7 L976.5 338.1 L976.9 339.6 L977.2 341.0 L977.6 342.5 L978.0 343.9 L978.3 345.4 L978.7 346.8 L979.1 348.3 L979.4 349.8 L979.8 351.2 L980.1 352.7 L980.5 354.1 L980.8 355.6 L981.1 357.1 L981.5 358.5 L981.8 360.0 L982.1 361.5 L982.5 362.9 L982.8 364.4 L983.1 365.8 L983.4 367.3 L983.8 368.8 L984.1 370.2 L984.5 371.7 L984.8 373.2 L985.1 374.6 L985.5 376.1 L985.8 377.5 L986.2 379.0 L986.6 380.4 L986.9 381.9 L987.3 383.4 L987.6 384.8 L988.0 386.3 L988.3 387.7 L988.7 389.2 L989.1 390.6 L989.4 392.1 L989.8 393.5 L990.2 395.0 L990.6 396.4 L991.0 397.9 L991.4 399.3 L991.8 400.8 L992.2 402.2 L992.6 403.7 L993.0 405.1 L993.4 406.6 L993.8 408.0 L994.3 409.4 L994.7 410.9 L995.2 412.3 L995.6 413.7 L996.1 415.2 L996.5 416.6 L997.0 418.0 L997.5 419.4 L998.0 420.8 L998.5 422.3 L999.0 423.7 L999.5 425.1 L1000.0 426.5 L1000.5 427.9 L1001.1 429.3 L1001.6 430.7 L1002.2 432.1 L1002.8 433.5 L1003.4 434.8 L1004.0 436.2 L1004.6 437.6 L1005.3 438.9 L1005.9 440.3 L1006.6 441.6 L1007.3 442.9 L1008.0 444.3 L1008.8 445.5 L1009.6 446.8 L1010.4 448.1 L1011.2 449.3 L1012.1 450.5 L1012.9 451.8 L1013.8 453.0 L1014.7 454.2 L1015.6 455.4 L1016.5 456.6 L1017.3 457.9 L1018.2 459.1 L1019.1 460.3 L1019.9 461.5 L1020.8 462.8 L1021.6 464.0 L1022.5 465.2 L1023.3 466.5 L1024.1 467.7 L1025.0 469.0 L1025.8 470.3 L1026.6 471.5 L1027.4 472.8 L1028.2 474.1 L1029.0 475.3 L1029.8 476.6 L1030.5 477.9 L1031.3 479.2 L1032.0 480.5 L1032.8 481.8 L1033.5 483.1 L1034.2 484.4 L1035.0 485.7 L1035.8 487.0 L1036.6 488.3 L1037.4 489.5 L1038.2 490.8 L1039.1 492.0 L1039.9 493.2 L1040.8 494.4 L1041.8 495.6 L1042.8 496.7 L1043.9 497.7 L1045.1 498.5 L1046.3 498.9 L1047.5 498.8 L1048.6 498.0 L1049.4 496.9 L1050.2 495.6 L1050.8 494.3 L1051.4 492.9 L1052.0 491.5 L1052.4 490.1 L1052.9 488.6 L1053.3 487.2 L1053.6 485.7 L1054.0 484.3 L1054.3 482.8 L1054.7 481.4 L1055.0 479.9 L1055.3 478.4 L1055.6 477.0 L1055.9 475.5 L1056.1 474.0 L1056.4 472.5 L1056.6 471.0 L1056.9 469.6 L1057.1 468.1 L1057.4 466.6 L1057.6 465.1 L1057.8 463.6 L1058.0 462.2 L1058.3 460.7 L1058.5 459.2 L1058.7 457.7 L1059.0 456.2 L1059.2 454.7 L1059.4 453.3 L1059.7 451.8 L1059.9 450.3 L1060.1 448.8 L1060.4 447.3 L1060.6 445.9 L1060.8 444.4 L1061.0 442.9 L1061.3 441.4 L1061.5 439.9 L1061.7 438.4 L1061.9 437.0 L1062.2 435.5 L1062.4 434.0 L1062.6 432.5 L1062.8 431.0 L1063.1 429.5 L1063.3 428.1 L1063.5 426.6 L1063.7 425.1 L1064.0 423.6 L1064.2 422.1 L1064.4 420.6 L1064.6 419.2 L1064.8 417.7 L1065.0 416.2 L1065.3 414.7 L1065.5 413.2 L1065.7 411.7 L1066.0 410.3 L1066.2 408.8 L1066.4 407.3 L1066.7 405.8 L1066.9 404.3 L1067.2 402.9 L1067.5 401.4 L1067.8 399.9 L1068.1 398.4 L1068.4 397.0 L1068.7 395.5 L1069.0 394.0 L1069.3 392.6 L1069.6 391.1 L1070.0 389.7 L1070.4 388.2 L1070.8 386.8 L1071.2 385.3 L1071.7 383.9 L1072.2 382.5 L1072.7 381.1 L1073.2 379.7 L1073.8 378.3 L1074.5 377.0 L1075.4 375.8 L1076.5 374.9 L1077.7 374.3 L1078.9 374.2 L1080.1 374.8 L1081.2 375.7 L1082.1 376.9 L1082.9 378.1 L1083.7 379.4 L1084.3 380.8 L1084.9 382.2 L1085.4 383.6 L1085.8 385.0 L1086.3 386.4 L1086.7 387.8 L1087.2 389.3 L1087.6 390.7 L1088.0 392.2 L1088.4 393.6 L1088.9 395.0 L1089.2 396.5 L1089.6 397.9 L1090.0 399.4 L1090.3 400.9 L1090.7 402.3 L1091.1 403.8 L1091.4 405.2 L1091.7 406.7 L1092.1 408.2 L1092.4 409.6 L1092.8 411.1 L1093.1 412.5 L1093.5 414.0 L1093.8 415.5 L1094.1 416.9 L1094.4 418.4 L1094.8 419.9 L1095.1 421.3 L1095.4 422.8 L1095.7 424.2 L1096.1 425.7 L1096.4 427.2 L1096.7 428.6 L1097.1 430.1 L1097.4 431.6 L1097.8 433.0 L1098.1 434.5 L1098.5 435.9 L1098.9 437.4 L1099.2 438.8 L1099.6 440.3 L1100.0 441.7 L1100.4 443.2 L1100.8 444.6 L1101.2 446.1 L1101.7 447.5 L1102.2 448.9 L1102.7 450.3 L1103.4 451.7 L1104.0 453.0 L1104.8 454.3 L1105.6 455.5 L1106.7 456.4 L1108.0 457.0 L1109.3 457.1 L1110.7 456.8 L1112.0 456.2 L1113.2 455.3 L1114.4 454.4 L1115.5 453.4 L1116.7 452.4 L1117.8 451.5 L1119.0 450.6 L1120.2 449.6 L1121.4 448.8 L1122.7 447.9 L1123.9 447.1 L1125.2 446.3 L1126.5 445.5 L1127.8 444.8 L1129.0 444.0 L1130.3 443.2 L1131.6 442.4 L1132.9 441.7 L1134.2 440.9 L1135.4 440.1 L1136.6 439.2 L1137.8 438.3 L1138.9 437.3 L1140.0 436.2 L1141.1 435.1 L1142.1 434.1 L1143.1 433.0 L1144.2 431.9 L1145.2 430.8 L1146.2 429.7 L1147.3 428.7 L1148.3 427.6 L1149.4 426.5 L1150.5 425.5 L1151.5 424.4 L1152.6 423.4 L1153.7 422.4 L1154.8 421.4 L1156.0 420.4 L1157.1 419.4 L1158.3 418.4 L1159.4 417.5 L1160.6 416.6 L1161.9 415.8 L1163.1 415.0 L1164.4 414.2 L1165.8 413.5 L1167.1 412.8 L1168.4 412.2 L1169.8 411.6 L1171.2 411.0 L1172.6 410.5 L1174.1 410.1 L1175.5 409.7 L1177.0 409.3 L1178.4 409.0 L1179.9 408.8 L1181.4 408.7 L1182.9 408.8 L1184.4 409.0 L1185.8 409.3 L1187.2 409.7 L1188.7 410.2 L1190.1 410.7 L1191.5 411.2 L1192.9 411.8 L1194.2 412.4 L1195.6 413.1 L1196.9 413.8 L1198.2 414.5 L1199.5 415.2 L1200.9 415.9 L1202.2 416.7 L1203.5 417.4 L1204.7 418.2 L1206.0 419.0 L1207.3 419.8 L1208.6 420.5 L1209.9 421.3 L1211.2 422.1 L1212.4 422.9 L1213.7 423.6 L1215.0 424.4 L1216.3 425.1 L1217.6 425.9 L1219.0 426.6 L1220.3 427.2 L1221.7 427.9 L1223.0 428.5 L1224.4 429.0 L1225.8 429.5 L1227.3 429.7 L1228.8 429.8 L1230.2 429.6 L1231.7 429.3 L1233.1 428.7 L1234.4 428.1 L1235.7 427.3 L1236.9 426.5 L1238.1 425.6 L1239.3 424.7 L1240.6 423.9 L1241.9 423.3 L1243.3 422.7 L1244.7 422.4 L1246.2 422.3 L1247.5 422.7 L1248.8 423.3 L1250.0 424.2 L1251.1 425.2 L1252.1 426.4 L1253.0 427.5 L1253.8 428.8 L1254.6 430.1 L1255.4 431.3 L1256.2 432.6 L1256.9 433.9 L1257.7 435.2 L1258.5 436.5 L1259.2 437.8 L1260.0 439.1 L1260.8 440.4 L1261.5 441.6 L1262.3 442.9 L1263.1 444.2 L1264.0 445.4 L1264.8 446.7 L1265.7 447.9 L1266.6 449.1 L1267.5 450.3 L1268.5 451.4 L1269.6 452.5 L1270.6 453.5 L1271.8 454.5 L1273.0 455.4 L1274.2 456.3 L1275.4 457.2 L1276.6 458.0 L1277.9 458.8 L1279.1 459.6 L1280.4 460.4 L1281.7 461.2 L1283.0 461.9 L1284.3 462.6 L1285.7 463.3 L1287.0 464.0 L1288.3 464.7 L1289.6 465.4 L1291.0 466.1 L1292.3 466.8 L1293.6 467.5 L1295.0 468.2 L1296.3 468.9 L1297.7 469.5 L1299.0 470.1 L1300.4 470.7 L1301.8 471.3 L1303.2 471.8 L1304.6 472.3 L1306.1 472.7 L1307.5 473.1 L1309.0 473.5 L1310.4 473.8 L1311.9 474.1 L1313.4 474.4 L1314.8 474.6 L1316.3 474.9 L1317.8 475.1 L1319.3 475.4 L1320.8 475.6 L1322.3 475.8 L1323.7 476.0 L1325.2 476.2 L1326.7 476.3 L1328.2 476.5 L1329.7 476.7 L1331.2 476.9 L1332.7 477.1 L1334.2 477.3 L1335.7 477.4 L1337.1 477.6 L1338.6 477.8 L1340.1 478.0 L1341.6 478.1 L1343.1 478.3 L1344.6 478.4 L1346.1 478.6 L1347.6 478.8 L1349.1 479.0 L1350.5 479.3 L1352.0 479.5 L1353.5 479.8 L1355.0 480.0 L1356.4 480.3 L1357.9 480.6 L1359.4 480.9 L1360.9 481.2 L1362.3 481.5 L1363.8 481.8 L1365.3 482.0 L1366.8 482.3 L1368.2 482.6 L1369.7 482.8 L1371.2 483.1 L1372.7 483.3 L1374.2 483.6 L1375.6 483.8 L1377.1 484.0 L1378.6 484.2 L1380.1 484.5 L1381.6 484.7 L1383.1 484.9 L1384.5 485.1 L1386.0 485.3 L1387.5 485.5 L1389.0 485.7 L1390.5 485.8 L1392.0 486.0 L1393.5 486.2 L1395.0 486.4 L1396.5 486.5 L1397.9 486.7 L1399.4 486.9 L1400.9 487.0 L1402.4 487.2 L1403.9 487.4 L1405.4 487.5 L1406.9 487.7 L1408.4 487.8 L1409.9 488.0 L1411.4 488.1 L1412.9 488.3 L1414.4 488.4 L1415.9 488.5 L1417.4 488.6 L1418.8 488.7 L1420.3 488.8 L1421.8 488.9 L1423.3 489.1 L1424.8 489.2 L1426.3 489.2 L1427.8 489.3 L1429.3 489.4 L1430.8 489.5 L1432.3 489.6 L1433.8 489.7 L1435.3 489.7 L1436.8 489.8 L1438.3 489.8 L1439.8 489.9 L1441.3 490.0 L1442.8 490.0 L1444.3 490.1 L1445.8 490.1 L1447.3 490.1 L1448.8 490.2 L1450.3 490.2 L1451.8 490.3 L1453.3 490.3 L1454.8 490.3 L1456.3 490.4 L1457.8 490.4 L1459.3 490.5 L1460.8 490.5 L1462.3 490.5 L1463.8 490.6 L1465.3 490.6 L1466.8 490.6 L1468.3 490.7 L1469.8 490.7 L1471.3 490.7 L1472.8 490.7 L1474.3 490.8 L1475.8 490.8 L1477.3 490.8 L1478.8 490.8 L1480.3 490.8 L1481.8 490.8 L1483.3 490.8 L1484.8 490.8 L1486.3 490.8 L1487.8 490.8 L1489.3 490.8 L1490.8 490.7 L1492.3 490.7 L1493.8 490.6 L1495.3 490.6 L1496.8 490.5 L1498.3 490.4 L1499.8 490.4 L1501.3 490.3 L1502.8 490.2 L1504.3 490.1 L1505.8 490.1 L1507.3 490.0 L1508.8 489.9 L1510.3 489.8 L1511.8 489.7 L1513.3 489.6 L1514.8 489.5 L1516.3 489.4 L1517.8 489.2 L1519.3 489.1 L1520.8 489.0 L1522.2 488.8 L1523.7 488.7 L1525.2 488.6 L1526.7 488.4 L1528.2 488.3 L1529.7 488.1 L1531.2 487.9 L1532.7 487.7 L1534.2 487.5 L1535.7 487.3 L1537.1 487.0 L1538.6 486.8 L1540.1 486.5 L1541.6 486.3 L1543.0 486.0 L1544.5 485.7 L1546.0 485.3 L1547.4 484.9 L1548.9 484.5 L1550.3 484.0 L1551.7 483.6 L1553.1 483.1 L1554.5 482.6 L1555.9 482.0 L1557.3 481.4 L1558.7 480.8 L1560.0 480.1 L1561.4 479.5 L1562.7 478.8 L1564.0 478.1 L1565.4 477.4 L1566.7 476.7 L1568.0 476.0 L1569.3 475.3 L1570.6 474.6 L1571.9 473.8 L1573.2 473.1 L1574.5 472.3 L1575.7 471.4 L1576.9 470.5 L1578.0 469.5 L1579.0 468.4 L1580.1 467.3 L1581.0 466.1 L1581.9 464.9 L1582.8 463.7 L1583.5 462.4 L1584.2 461.1 L1584.8 459.7 L1585.4 458.3 L1585.9 456.9 L1586.4 455.5 L1586.9 454.1 L1587.4 452.7 L1587.8 451.2 L1588.3 449.8 L1588.6 448.4 L1589.0 446.9 L1589.3 445.4 L1589.7 444.0 L1590.0 442.5 L1590.3 441.1 L1590.7 439.6 L1591.0 438.1 L1591.3 436.6 L1591.6 435.2 L1591.9 433.7 L1592.1 432.2 L1592.4 430.8 L1592.7 429.3 L1592.9 427.8 L1593.2 426.3 L1593.5 424.9 L1593.7 423.4 L1594.0 421.9 L1594.2 420.4 L1594.5 418.9 L1594.7 417.5 L1595.0 416.0 L1595.3 414.5 L1595.5 413.0 L1595.8 411.5 L1596.0 410.1 L1596.3 408.6 L1596.5 407.1 L1596.8 405.6 L1597.0 404.1 L1597.2 402.7 L1597.5 401.2 L1597.7 399.7 L1598.0 398.2 L1598.2 396.7 L1598.5 395.3 L1598.7 393.8 L1598.9 392.3 L1599.2 390.8 L1599.4 389.3 L1599.7 387.9 L1599.9 386.4 L1600.2 384.9 L1600.4 383.4 L1600.7 381.9 L1600.9 380.5 L1601.2 379.0 L1601.4 377.5 L1601.6 376.0 L1601.9 374.5 L1602.1 373.1 L1602.4 371.6 L1602.6 370.1 L1602.9 368.6 L1603.1 367.2 L1603.4 365.7 L1603.7 364.2 L1603.9 362.7 L1604.2 361.2 L1604.4 359.8 L1604.7 358.3 L1604.9 356.8 L1605.2 355.3 L1605.5 353.9 L1605.7 352.4 L1606.0 350.9 L1606.2 349.4 L1606.5 347.9 L1606.8 346.5 L1607.1 345.0 L1607.3 343.5 L1607.6 342.0 L1607.9 340.6 L1608.2 339.1 L1608.5 337.6 L1608.8 336.2 L1609.1 334.7 L1609.4 333.2 L1609.7 331.7 L1610.0 330.3 L1610.3 328.8 L1610.6 327.3 L1610.9 325.9 L1611.2 324.4 L1611.5 322.9 L1611.8 321.5 L1612.1 320.0 L1612.5 318.5 L1612.8 317.1 L1613.1 315.6 L1613.4 314.1 L1613.7 312.7 L1614.0 311.2 L1614.4 309.7 L1614.7 308.3 L1615.0 306.8 L1615.3 305.3 L1615.7 303.9 L1616.0 302.4 L1616.3 301.0 L1616.7 299.5 L1617.0 298.0 L1617.3 296.6 L1617.7 295.1 L1618.0 293.7 L1618.4 292.2 L1618.7 290.7 L1619.1 289.3 L1619.4 287.8 L1619.8 286.4 L1620.2 284.9 L1620.5 283.5 L1620.9 282.0" fill="none" stroke="#0000ff" stroke-width="3.5" stroke-linejoin="round" stroke-linecap="butt"/>
<rect x="973.7" y="22.6" width="647.2" height="481.4" fill="none" stroke="#000" stroke-width="1.75"/>
<path d="M973.7 504.1h-10.0M973.7 455.9h-6.0M973.7 407.8h-10.0M973.7 359.6h-6.0M973.7 311.5h-10.0M973.7 263.4h-6.0M973.7 215.2h-10.0M973.7 167.1h-6.0M973.7 118.9h-10.0M973.7 70.8h-6.0M973.7 22.7h-10.0M973.7 504.1v10.0M1054.6 504.1v5.5M1135.5 504.1v10.0M1216.4 504.1v5.5M1297.3 504.1v10.0M1378.2 504.1v5.5M1459.1 504.1v10.0M1540.0 504.1v5.5M1620.9 504.1v10.0" stroke="#000" stroke-width="1.75" fill="none"/>
<g font-family="'Liberation Serif', 'Times New Roman', serif" font-size="36" fill="#000">
<text transform="translate(956.9 515.0) scale(1 1.035)" text-anchor="end">0</text>
<text transform="translate(956.9 418.8) scale(1 1.035)" text-anchor="end">20</text>
<text transform="translate(956.9 322.5) scale(1 1.035)" text-anchor="end">40</text>
<text transform="translate(956.9 226.2) scale(1 1.035)" text-anchor="end">60</text>
<text transform="translate(956.9 129.9) scale(1 1.035)" text-anchor="end">80</text>
<text transform="translate(956.9 33.7) scale(1 1.035)" text-anchor="end">100</text>
<text transform="translate(973.7 549.6) scale(1 1.035)" text-anchor="middle">380</text>
<text transform="translate(1135.5 549.6) scale(1 1.035)" text-anchor="middle">480</text>
<text transform="translate(1297.3 549.6) scale(1 1.035)" text-anchor="middle">580</text>
<text transform="translate(1459.1 549.6) scale(1 1.035)" text-anchor="middle">680</text>
<text transform="translate(1620.9 549.6) scale(1 1.035)" text-anchor="middle">780</text>
</g>
<g font-family="'Liberation Serif', 'Times New Roman', serif" font-size="39.5" fill="#000">
<text x="1297.3" y="600.8" text-anchor="middle">Wavelength (nm)</text>
<text transform="translate(875.1 263.4) rotate(-90)" text-anchor="middle">Efficiency (%)</text>
</g>
<text x="851.5" y="31.5" font-family="'Liberation Serif', 'Times New Roman', serif" font-weight="bold" font-size="43.5" fill="#000">b</text>
<path d="M1396.1 202.6H1479.2" stroke="#000" stroke-width="3.6" stroke-linecap="round" fill="none"/>
<text x="1488.9" y="215.4" font-family="'Liberation Serif', 'Times New Roman', serif" font-style="italic" font-size="36" fill="#000">R<tspan font-size="22.5" dy="14.1">xx</tspan></text>
<path d="M1396.1 260.9H1479.2" stroke="#ff0000" stroke-width="3.6" stroke-linecap="round" fill="none"/>
<text x="1488.9" y="273.7" font-family="'Liberation Serif', 'Times New Roman', serif" font-style="italic" font-size="36" fill="#000">R<tspan font-size="22.5" dy="14.1">yx</tspan></text>
<path d="M1396.1 319.2H1479.2" stroke="#0000ff" stroke-width="3.6" stroke-linecap="round" fill="none"/>
<text x="1488.9" y="332.0" font-family="'Liberation Serif', 'Times New Roman', serif" font-style="italic" font-size="36" fill="#000">A</text>
</g>
<g class="panel-c">
<path d="M126.9 882.0 L127.1 880.5 L127.3 879.0 L127.5 877.5 L127.7 876.1 L127.9 874.6 L128.1 873.1 L128.3 871.6 L128.5 870.1 L128.7 868.6 L128.9 867.1 L129.1 865.6 L129.3 864.2 L129.5 862.7 L129.7 861.2 L129.9 859.7 L130.1 858.2 L130.3 856.7 L130.5 855.2 L130.7 853.7 L130.9 852.3 L131.1 850.8 L131.3 849.3 L131.5 847.8 L131.7 846.3 L131.9 844.8 L132.1 843.3 L132.3 841.8 L132.5 840.4 L132.6 838.9 L132.8 837.4 L133.0 835.9 L133.2 834.4 L133.5 832.9 L133.7 831.4 L133.9 830.0 L134.1 828.5 L134.3 827.0 L134.5 825.5 L134.7 824.0 L134.9 822.5 L135.2 821.0 L135.4 819.6 L135.6 818.1 L135.8 816.6 L136.0 815.1 L136.3 813.6 L136.5 812.1 L136.7 810.7 L137.0 809.2 L137.2 807.7 L137.5 806.2 L137.7 804.7 L138.0 803.3 L138.2 801.8 L138.5 800.3 L138.7 798.8 L139.0 797.4 L139.3 795.9 L139.5 794.4 L139.8 792.9 L140.1 791.4 L140.4 790.0 L140.7 788.5 L141.0 787.0 L141.3 785.6 L141.7 784.1 L142.1 782.7 L142.6 781.3 L143.1 779.8 L143.6 778.4 L144.1 777.0 L144.7 775.7 L145.4 774.3 L146.1 773.0 L146.9 771.7 L147.7 770.5 L148.6 769.3 L149.5 768.1 L150.5 766.9 L151.5 765.8 L152.5 764.7 L153.5 763.6 L154.5 762.5 L155.5 761.3 L156.4 760.1 L157.2 758.9 L158.0 757.6 L158.7 756.3 L159.4 755.0 L160.1 753.7 L160.7 752.3 L161.2 750.9 L161.7 749.5 L162.2 748.1 L162.7 746.6 L163.1 745.2 L163.6 743.8 L164.0 742.3 L164.4 740.9 L164.9 739.5 L165.3 738.0 L165.7 736.6 L166.2 735.1 L166.6 733.7 L167.0 732.3 L167.4 730.8 L167.8 729.4 L168.3 727.9 L168.7 726.5 L169.1 725.1 L169.5 723.6 L169.9 722.2 L170.4 720.7 L170.8 719.3 L171.2 717.9 L171.6 716.4 L172.1 715.0 L172.5 713.6 L172.9 712.1 L173.4 710.7 L173.8 709.3 L174.3 707.8 L174.9 706.4 L175.4 705.0 L176.0 703.7 L176.6 702.3 L177.3 700.9 L177.9 699.6 L178.7 698.3 L179.4 697.0 L180.2 695.7 L181.0 694.5 L181.9 693.2 L182.8 692.0 L183.7 690.8 L184.6 689.7 L185.6 688.5 L186.6 687.4 L187.6 686.3 L188.7 685.3 L189.8 684.2 L190.8 683.2 L191.9 682.1 L192.9 681.0 L193.9 679.9 L194.9 678.8 L195.9 677.6 L196.8 676.4 L197.8 675.3 L198.8 674.2 L199.9 673.2 L201.0 672.2 L202.2 671.3 L203.5 670.6 L204.9 669.9 L206.3 669.5 L207.7 669.2 L209.2 669.2 L210.7 669.3 L212.1 669.6 L213.5 670.1 L214.9 670.6 L216.3 671.2 L217.7 671.8 L219.1 672.4 L220.5 672.9 L221.9 673.4 L223.3 673.8 L224.8 674.0 L226.3 674.2 L227.8 674.3 L229.3 674.4 L230.8 674.5 L232.3 674.6 L233.8 674.8 L235.3 674.9 L236.8 675.0 L238.2 675.2 L239.7 675.4 L241.2 675.7 L242.7 676.0 L244.1 676.5 L245.5 677.0 L246.9 677.6 L248.3 678.2 L249.6 678.8 L250.9 679.6 L252.2 680.4 L253.4 681.2 L254.6 682.0 L255.9 682.9 L257.1 683.8 L258.2 684.7 L259.4 685.7 L260.5 686.7 L261.6 687.7 L262.7 688.7 L263.8 689.8 L264.8 690.9 L265.8 692.0 L266.8 693.2 L267.7 694.3 L268.6 695.5 L269.5 696.7 L270.4 697.9 L271.3 699.1 L272.2 700.3 L273.1 701.5 L274.0 702.7 L274.9 703.9 L275.8 705.1 L276.7 706.4 L277.5 707.6 L278.3 708.9 L279.1 710.2 L279.8 711.5 L280.4 712.8 L281.1 714.2 L281.7 715.6 L282.3 716.9 L282.8 718.3 L283.4 719.7 L283.9 721.1 L284.4 722.6 L284.9 724.0 L285.4 725.4 L285.9 726.8 L286.4 728.2 L286.9 729.6 L287.3 731.1 L287.8 732.5 L288.2 733.9 L288.6 735.4 L289.0 736.8 L289.4 738.3 L289.7 739.7 L290.1 741.2 L290.5 742.6 L290.8 744.1 L291.2 745.6 L291.5 747.0 L291.9 748.5 L292.2 749.9 L292.5 751.4 L292.8 752.9 L293.1 754.3 L293.4 755.8 L293.7 757.3 L294.0 758.8 L294.3 760.2 L294.6 761.7 L294.8 763.2 L295.1 764.7 L295.4 766.1 L295.7 767.6 L295.9 769.1 L296.2 770.6 L296.5 772.0 L296.7 773.5 L297.0 775.0 L297.3 776.5 L297.5 777.9 L297.8 779.4 L298.1 780.9 L298.3 782.4 L298.6 783.8 L298.9 785.3 L299.1 786.8 L299.4 788.3 L299.7 789.8 L299.9 791.2 L300.2 792.7 L300.5 794.2 L300.7 795.7 L301.0 797.1 L301.2 798.6 L301.5 800.1 L301.8 801.6 L302.0 803.1 L302.3 804.5 L302.5 806.0 L302.8 807.5 L303.0 809.0 L303.3 810.4 L303.5 811.9 L303.8 813.4 L304.0 814.9 L304.3 816.4 L304.5 817.8 L304.8 819.3 L305.0 820.8 L305.3 822.3 L305.5 823.8 L305.7 825.2 L306.0 826.7 L306.2 828.2 L306.5 829.7 L306.7 831.2 L306.9 832.7 L307.2 834.1 L307.4 835.6 L307.7 837.1 L307.9 838.6 L308.1 840.1 L308.4 841.5 L308.6 843.0 L308.8 844.5 L309.1 846.0 L309.3 847.5 L309.5 849.0 L309.7 850.4 L310.0 851.9 L310.2 853.4 L310.4 854.9 L310.7 856.4 L310.9 857.9 L311.1 859.3 L311.3 860.8 L311.6 862.3 L311.8 863.8 L312.0 865.3 L312.3 866.7 L312.5 868.2 L312.7 869.7 L313.0 871.2 L313.2 872.7 L313.4 874.2 L313.7 875.6 L313.9 877.1 L314.1 878.6 L314.3 880.1 L314.6 881.6 L314.8 883.1 L315.0 884.5 L315.3 886.0 L315.5 887.5 L315.7 889.0 L316.0 890.5 L316.2 891.9 L316.4 893.4 L316.7 894.9 L316.9 896.4 L317.1 897.9 L317.4 899.4 L317.6 900.8 L317.8 902.3 L318.1 903.8 L318.3 905.3 L318.5 906.8 L318.8 908.2 L319.0 909.7 L319.2 911.2 L319.5 912.7 L319.7 914.2 L319.9 915.7 L320.2 917.1 L320.4 918.6 L320.7 920.1 L320.9 921.6 L321.2 923.1 L321.4 924.5 L321.6 926.0 L321.9 927.5 L322.1 929.0 L322.4 930.5 L322.6 931.9 L322.9 933.4 L323.1 934.9 L323.4 936.4 L323.6 937.9 L323.9 939.3 L324.1 940.8 L324.4 942.3 L324.7 943.8 L324.9 945.2 L325.2 946.7 L325.4 948.2 L325.7 949.7 L326.0 951.2 L326.2 952.6 L326.5 954.1 L326.7 955.6 L327.0 957.1 L327.3 958.5 L327.5 960.0 L327.8 961.5 L328.1 963.0 L328.3 964.4 L328.6 965.9 L328.9 967.4 L329.2 968.9 L329.4 970.4 L329.7 971.8 L330.0 973.3 L330.2 974.8 L330.5 976.3 L330.8 977.7 L331.0 979.2 L331.3 980.7 L331.6 982.2 L331.9 983.6 L332.2 985.1 L332.4 986.6 L332.7 988.0 L333.0 989.5 L333.3 991.0 L333.7 992.5 L334.0 993.9 L334.3 995.4 L334.7 996.8 L335.0 998.3 L335.4 999.8 L335.8 1001.2 L336.1 1002.7 L336.5 1004.1 L336.9 1005.6 L337.3 1007.0 L337.7 1008.5 L338.1 1009.9 L338.5 1011.3 L339.0 1012.8 L339.4 1014.2 L339.9 1015.6 L340.4 1017.1 L340.8 1018.5 L341.3 1019.9 L341.8 1021.3 L342.3 1022.7 L342.8 1024.1 L343.3 1025.6 L343.8 1027.0 L344.4 1028.3 L345.0 1029.7 L345.6 1031.1 L346.2 1032.5 L346.9 1033.8 L347.6 1035.1 L348.3 1036.5 L349.0 1037.8 L349.8 1039.0 L350.7 1040.3 L351.6 1041.4 L352.6 1042.5 L353.7 1043.5 L354.9 1044.4 L356.2 1045.2 L357.5 1045.8 L358.9 1046.1 L360.3 1046.0 L361.7 1045.6 L363.0 1044.9 L364.3 1044.2 L365.5 1043.3 L366.7 1042.3 L367.7 1041.3 L368.7 1040.1 L369.6 1038.9 L370.5 1037.7 L371.3 1036.5 L372.2 1035.2 L373.0 1034.0 L373.8 1032.7 L374.5 1031.4 L375.3 1030.1 L376.0 1028.8 L376.7 1027.5 L377.4 1026.1 L378.1 1024.8 L378.8 1023.5 L379.4 1022.1 L380.1 1020.8 L380.8 1019.4 L381.4 1018.1 L382.1 1016.7 L382.7 1015.4 L383.4 1014.0 L384.0 1012.7 L384.7 1011.3 L385.3 1010.0 L385.9 1008.6 L386.6 1007.2 L387.2 1005.9 L387.8 1004.5 L388.5 1003.2 L389.1 1001.8 L389.7 1000.4 L390.4 999.1 L391.0 997.7 L391.7 996.4 L392.3 995.0 L393.0 993.7 L393.6 992.3 L394.2 991.0 L394.9 989.6 L395.5 988.2 L396.1 986.9 L396.7 985.5 L397.3 984.1 L397.8 982.7 L398.4 981.3 L398.9 979.9 L399.4 978.5 L399.9 977.1 L400.4 975.7 L400.9 974.3 L401.4 972.8 L401.9 971.4 L402.3 970.0 L402.8 968.6 L403.2 967.1 L403.7 965.7 L404.1 964.3 L404.5 962.8 L405.0 961.4 L405.4 959.9 L405.8 958.5 L406.2 957.1 L406.6 955.6 L407.0 954.2 L407.4 952.7 L407.8 951.3 L408.2 949.8 L408.6 948.4 L409.0 946.9 L409.4 945.5 L409.8 944.0 L410.2 942.6 L410.5 941.1 L410.9 939.7 L411.3 938.2 L411.7 936.8 L412.1 935.3 L412.5 933.9 L412.9 932.5 L413.3 931.0 L413.7 929.6 L414.2 928.1 L414.6 926.7 L415.0 925.2 L415.4 923.8 L415.9 922.4 L416.3 920.9 L416.7 919.5 L417.1 918.1 L417.6 916.6 L418.0 915.2 L418.5 913.8 L418.9 912.3 L419.3 910.9 L419.8 909.5 L420.2 908.0 L420.7 906.6 L421.1 905.2 L421.6 903.7 L422.0 902.3 L422.4 900.9 L422.9 899.4 L423.3 898.0 L423.8 896.6 L424.2 895.1 L424.7 893.7 L425.2 892.3 L425.6 890.9 L426.1 889.4 L426.6 888.0 L427.1 886.6 L427.6 885.2 L428.1 883.8 L428.6 882.4 L429.2 881.0 L429.7 879.6 L430.3 878.2 L430.8 876.8 L431.4 875.4 L432.0 874.0 L432.6 872.7 L433.2 871.3 L433.8 869.9 L434.4 868.5 L435.0 867.2 L435.6 865.8 L436.2 864.4 L436.8 863.0 L437.4 861.7 L438.0 860.3 L438.6 858.9 L439.2 857.5 L439.8 856.2 L440.4 854.8 L441.1 853.4 L441.7 852.1 L442.3 850.7 L442.9 849.3 L443.5 848.0 L444.2 846.6 L444.8 845.2 L445.4 843.9 L446.1 842.5 L446.7 841.2 L447.4 839.8 L448.0 838.5 L448.7 837.1 L449.3 835.8 L450.0 834.4 L450.7 833.1 L451.3 831.7 L452.0 830.4 L452.7 829.1 L453.4 827.7 L454.1 826.4 L454.8 825.1 L455.5 823.8 L456.2 822.4 L456.9 821.1 L457.7 819.8 L458.4 818.5 L459.1 817.2 L459.9 815.9 L460.7 814.6 L461.4 813.3 L462.2 812.1 L463.0 810.8 L463.8 809.5 L464.6 808.3 L465.4 807.0 L466.3 805.7 L467.1 804.5 L467.9 803.3 L468.8 802.0 L469.6 800.8 L470.5 799.6 L471.4 798.4 L472.3 797.1 L473.2 795.9 L474.1 794.7 L475.0 793.5 L475.9 792.3 L476.8 791.2 L477.7 790.0 L478.7 788.8 L479.6 787.7 L480.6 786.5 L481.5 785.3 L482.5 784.2 L483.5 783.1 L484.4 781.9 L485.4 780.8 L486.5 779.7 L487.5 778.6 L488.5 777.5 L489.6 776.4 L490.6 775.4 L491.7 774.3 L492.7 773.2 L493.8 772.2 L494.9 771.2 L496.0 770.1 L497.1 769.1 L498.2 768.1 L499.3 767.1 L500.4 766.1 L501.5 765.1 L502.6 764.1 L503.8 763.1 L504.9 762.1 L506.1 761.2 L507.2 760.2 L508.4 759.3 L509.6 758.3 L510.8 757.4 L512.0 756.5 L513.2 755.6 L514.4 754.7 L515.6 753.9 L516.8 753.0 L518.1 752.1 L519.3 751.3 L520.5 750.5 L521.8 749.6 L523.1 748.8 L524.3 748.0 L525.6 747.2 L526.9 746.5 L528.2 745.7 L529.5 745.0 L530.8 744.2 L532.1 743.5 L533.4 742.7 L534.7 742.0 L536.0 741.3 L537.4 740.6 L538.7 739.9 L540.1 739.3 L541.4 738.7 L542.8 738.1 L544.2 737.5 L545.6 736.9 L546.9 736.3 L548.3 735.8 L549.7 735.2 L551.1 734.7 L552.5 734.2 L554.0 733.7 L555.4 733.2 L556.8 732.8 L558.3 732.3 L559.7 731.9 L561.1 731.5 L562.6 731.1 L564.0 730.8 L565.5 730.4 L567.0 730.0 L568.4 729.7 L569.9 729.4 L571.4 729.1 L572.8 728.8 L574.3 728.6 L575.8 728.3 L577.3 728.1 L578.8 727.9 L580.2 727.7 L581.7 727.4 L583.2 727.3 L584.7 727.1 L586.2 726.9 L587.7 726.8 L589.2 726.7 L590.7 726.6 L592.2 726.5 L593.7 726.4 L595.2 726.3 L596.7 726.3 L598.2 726.2 L599.7 726.2 L601.2 726.1 L602.7 726.1 L604.2 726.0 L605.7 726.0 L607.2 726.0 L608.7 726.0 L610.2 726.0 L611.7 726.1 L613.2 726.1 L614.7 726.2 L616.2 726.3 L617.7 726.4 L619.2 726.4 L620.7 726.5 L622.2 726.6 L623.7 726.8 L625.1 727.0 L626.6 727.2 L628.1 727.5 L629.6 727.8 L631.0 728.1 L632.5 728.5 L633.9 728.9 L635.4 729.3 L636.8 729.7 L638.3 730.1 L639.7 730.6 L641.1 731.1 L642.5 731.6 L643.9 732.2 L645.2 732.8 L646.6 733.4 L648.0 734.1 L649.3 734.7 L650.7 735.3 L652.0 736.0 L653.4 736.7 L654.7 737.4 L656.0 738.2 L657.2 739.0 L658.5 739.8 L659.8 740.6 L661.0 741.4 L662.3 742.2 L663.5 743.1 L664.7 744.0 L665.9 744.9 L667.1 745.8 L668.2 746.8 L669.4 747.8 L670.5 748.7 L671.7 749.7 L672.8 750.7 L673.9 751.7 L675.0 752.7 L676.1 753.7 L677.2 754.8 L678.2 755.9 L679.3 756.9 L680.3 758.1 L681.3 759.2 L682.2 760.3 L683.1 761.5 L684.0 762.7 L684.8 764.0 L685.6 765.3 L686.4 766.5 L687.2 767.8 L687.9 769.2 L688.6 770.5 L689.3 771.8 L690.0 773.1 L690.7 774.4 L691.4 775.8 L692.1 777.1 L692.7 778.5 L693.3 779.8 L693.9 781.2 L694.5 782.6 L695.1 784.0 L695.7 785.4 L696.3 786.7 L696.8 788.1 L697.4 789.5 L698.0 790.9 L698.5 792.3 L699.0 793.7 L699.5 795.1 L700.0 796.5 L700.5 798.0 L701.0 799.4 L701.5 800.8 L701.9 802.2 L702.4 803.7 L702.8 805.1 L703.3 806.5 L703.7 808.0 L704.1 809.4 L704.5 810.9 L704.9 812.3 L705.3 813.8 L705.7 815.2 L706.0 816.7 L706.4 818.1 L706.7 819.6 L707.1 821.0 L707.5 822.5 L707.8 824.0 L708.1 825.4 L708.5 826.9 L708.8 828.3 L709.2 829.8 L709.5 831.3 L709.9 832.7 L710.2 834.2 L710.6 835.6 L710.9 837.1 L711.3 838.6 L711.6 840.0 L711.9 841.5 L712.3 842.9 L712.6 844.4 L712.9 845.9 L713.2 847.3 L713.5 848.8 L713.8 850.3 L714.1 851.7 L714.4 853.2 L714.7 854.7 L715.0 856.2 L715.3 857.6 L715.5 859.1 L715.8 860.6 L716.0 862.1 L716.3 863.6 L716.5 865.0 L716.7 866.5 L717.0 868.0 L717.2 869.5 L717.4 871.0 L717.6 872.5 L717.8 873.9 L718.0 875.4 L718.3 876.9 L718.4 878.4 L718.6 879.9 L718.8 881.4 L719.0 882.9 L719.2 884.4 L719.4 885.8 L719.5 887.3 L719.7 888.8 L719.9 890.3 L720.0 891.8 L720.2 893.3 L720.4 894.8 L720.5 896.3 L720.7 897.8 L720.8 899.3 L721.0 900.8 L721.1 902.3 L721.3 903.7 L721.5 905.2 L721.6 906.7 L721.8 908.2 L721.9 909.7 L722.1 911.2 L722.2 912.7 L722.4 914.2 L722.5 915.7 L722.7 917.2 L722.9 918.7 L723.0 920.2 L723.2 921.7 L723.3 923.1 L723.5 924.6 L723.6 926.1 L723.8 927.6 L724.0 929.1 L724.1 930.6 L724.3 932.1 L724.4 933.6 L724.6 935.1 L724.7 936.6 L724.9 938.1 L725.0 939.6 L725.2 941.1 L725.3 942.5 L725.5 944.0 L725.6 945.5 L725.8 947.0 L725.9 948.5 L726.1 950.0 L726.2 951.5 L726.4 953.0 L726.5 954.5 L726.6 956.0 L726.8 957.5 L726.9 959.0 L727.0 960.5 L727.2 962.0 L727.3 963.5 L727.4 965.0 L727.6 966.4 L727.7 967.9 L727.8 969.4 L727.9 970.9 L728.0 972.4 L728.2 973.9 L728.3 975.4 L728.4 976.9 L728.5 978.4 L728.6 979.9 L728.8 981.4 L728.9 982.9 L729.0 984.4 L729.1 985.9 L729.2 987.4 L729.3 988.9 L729.5 990.4 L729.6 991.9 L729.7 993.4 L729.8 994.9 L729.9 996.4 L730.0 997.9 L730.2 999.3 L730.3 1000.8 L730.4 1002.3 L730.5 1003.8 L730.6 1005.3 L730.7 1006.8 L730.9 1008.3 L731.0 1009.8 L731.1 1011.3 L731.2 1012.8 L731.4 1014.3 L731.5 1015.8 L731.6 1017.3 L731.7 1018.8 L731.8 1020.3 L732.0 1021.8 L732.1 1023.3 L732.2 1024.8 L732.3 1026.3 L732.4 1027.8 L732.6 1029.3 L732.7 1030.8 L732.8 1032.2 L732.9 1033.7 L733.1 1035.2 L733.2 1036.7 L733.3 1038.2 L733.4 1039.7 L733.6 1041.2 L733.7 1042.7 L733.8 1044.2 L733.9 1045.7 L734.1 1047.2 L734.2 1048.7 L734.3 1050.2 L734.5 1051.7 L734.6 1053.2 L734.7 1054.7 L734.8 1056.2 L735.0 1057.7 L735.1 1059.2 L735.2 1060.7 L735.4 1062.1 L735.5 1063.6 L735.6 1065.1 L735.8 1066.6 L735.9 1068.1 L736.0 1069.6 L736.2 1071.1 L736.3 1072.6 L736.4 1074.1 L736.6 1075.6 L736.7 1077.1 L736.9 1078.6 L737.0 1080.1 L737.1 1081.6 L737.3 1083.1 L737.4 1084.6 L737.6 1086.0 L737.7 1087.5 L737.9 1089.0 L738.1 1090.5 L738.2 1092.0 L738.4 1093.5 L738.5 1095.0 L738.7 1096.5 L738.9 1098.0 L739.0 1099.5 L739.2 1101.0 L739.4 1102.4 L739.7 1103.9 L740.0 1105.4 L740.4 1106.7 L740.9 1107.5 L741.6 1107.6 L742.2 1106.8 L742.7 1105.6 L743.2 1104.1 L743.5 1102.7 L743.8 1101.2 L744.1 1099.7 L744.3 1098.3 L744.5 1096.8 L744.8 1095.3 L745.0 1093.8 L745.2 1092.3 L745.4 1090.8 L745.6 1089.4 L745.8 1087.9 L745.9 1086.4 L746.1 1084.9 L746.3 1083.4 L746.5 1081.9 L746.6 1080.4 L746.8 1078.9 L746.9 1077.4 L747.1 1075.9 L747.2 1074.4 L747.4 1072.9 L747.5 1071.5 L747.6 1070.0 L747.8 1068.5 L747.9 1067.0 L748.0 1065.5 L748.2 1064.0 L748.3 1062.5 L748.4 1061.0 L748.5 1059.5 L748.7 1058.0 L748.8 1056.5 L748.9 1055.0 L749.0 1053.5 L749.2 1052.0 L749.3 1050.5 L749.4 1049.0 L749.5 1047.5 L749.6 1046.0 L749.8 1044.5 L749.9 1043.0 L750.0 1041.6 L750.1 1040.1 L750.2 1038.6 L750.3 1037.1 L750.4 1035.6 L750.6 1034.1 L750.7 1032.6 L750.8 1031.1 L750.9 1029.6 L751.0 1028.1 L751.1 1026.6 L751.2 1025.1 L751.3 1023.6 L751.4 1022.1 L751.6 1020.6 L751.7 1019.1 L751.8 1017.6 L751.9 1016.1 L752.0 1014.6 L752.1 1013.1 L752.2 1011.6 L752.4 1010.1 L752.5 1008.6 L752.6 1007.1 L752.7 1005.6 L752.8 1004.2 L753.0 1002.7 L753.1 1001.2 L753.2 999.7 L753.3 998.2 L753.5 996.7 L753.6 995.2 L753.7 993.7 L753.8 992.2 L754.0 990.7 L754.1 989.2 L754.2 987.7 L754.4 986.2 L754.5 984.7 L754.6 983.2 L754.8 981.7 L754.9 980.2 L755.0 978.7 L755.2 977.3 L755.3 975.8 L755.5 974.3 L755.6 972.8 L755.7 971.3 L755.9 969.8 L756.0 968.3 L756.2 966.8 L756.3 965.3 L756.4 963.8 L756.6 962.3 L756.7 960.8 L756.9 959.3 L757.0 957.8 L757.2 956.3 L757.3 954.8 L757.5 953.4 L757.6 951.9 L757.8 950.4 L757.9 948.9 L758.0 947.4 L758.2 945.9 L758.4 944.4 L758.5 942.9 L758.7 941.4 L758.8 939.9 L759.0 938.4 L759.1 936.9 L759.3 935.4 L759.4 933.9 L759.6 932.5 L759.7 931.0 L759.9 929.5 L760.0 928.0 L760.1 926.5 L760.3 925.0 L760.4 923.5 L760.6 922.0 L760.7 920.5 L760.9 919.0 L761.0 917.5 L761.2 916.0 L761.3 914.5 L761.5 913.0 L761.6 911.6 L761.8 910.1 L761.9 908.6 L762.0 907.1 L762.2 905.6 L762.3 904.1 L762.5 902.6 L762.6 901.1 L762.8 899.6 L762.9 898.1 L763.1 896.6 L763.2 895.1 L763.3 893.6 L763.5 892.1 L763.6 890.6 L763.8 889.2 L763.9 887.7 L764.1 886.2 L764.2 884.7 L764.3 883.2 L764.5 881.7 L764.6 880.2 L764.8 878.7 L764.9 877.2 L765.0 875.7 L765.2 874.2 L765.3 872.7 L765.4 871.2 L765.6 869.7 L765.7 868.2 L765.8 866.7 L766.0 865.2 L766.1 863.8 L766.2 862.3 L766.4 860.8 L766.5 859.3 L766.6 857.8 L766.8 856.3 L766.9 854.8 L767.0 853.3 L767.1 851.8 L767.3 850.3 L767.4 848.8 L767.5 847.3 L767.6 845.8 L767.7 844.3 L767.9 842.8 L768.0 841.3 L768.1 839.8 L768.2 838.3 L768.4 836.8 L768.5 835.3 L768.6 833.9 L768.7 832.4 L768.8 830.9 L769.0 829.4 L769.1 827.9 L769.2 826.4 L769.4 824.9 L769.5 823.4 L769.6 821.9 L769.8 820.4 L769.9 818.9 L770.0 817.4 L770.1 815.9 L770.3 814.4 L770.4 812.9 L770.5 811.4 L770.7 809.9 L770.8 808.4 L770.9 806.9 L771.0 805.5 L771.2 804.0 L771.3 802.5 L771.4 801.0 L771.5 799.5 L771.6 798.0 L771.7 796.5 L771.8 795.0 L771.9 793.5 L772.0 792.0 L772.1 790.5 L772.2 789.0 L772.3 787.5 L772.3 786.0 L772.4 784.5 L772.5 783.0 L772.5 781.5 L772.6 780.0 L772.6 778.5 L772.7 777.0 L772.8 775.5 L772.8 774.0 L772.9 772.5 L772.9 771.0 L773.0 769.5 L773.0 769.0" fill="none" stroke="#000" stroke-width="3.5" stroke-linejoin="round" stroke-linecap="butt"/>
<path d="M126.9 1131.0 L128.4 1130.9 L129.9 1130.9 L131.4 1130.8 L132.9 1130.8 L134.4 1130.9 L135.9 1131.0 L137.4 1131.2 L138.9 1131.4 L140.3 1131.7 L141.8 1132.0 L143.3 1132.4 L144.7 1132.7 L146.2 1133.1 L147.6 1133.4 L149.1 1133.8 L150.5 1134.2 L152.0 1134.6 L153.4 1135.0 L154.9 1135.3 L156.4 1135.7 L157.8 1136.0 L159.3 1136.2 L160.8 1136.5 L162.3 1136.8 L163.7 1137.0 L165.2 1137.1 L166.7 1137.2 L168.2 1137.3 L169.7 1137.4 L171.2 1137.5 L172.7 1137.6 L174.2 1137.7 L175.7 1137.7 L177.2 1137.8 L178.7 1137.8 L180.2 1137.8 L181.7 1137.8 L183.2 1137.8 L184.7 1137.8 L186.2 1137.8 L187.7 1137.8 L189.2 1137.8 L190.7 1137.8 L192.2 1137.8 L193.7 1137.8 L195.2 1137.8 L196.7 1137.8 L198.2 1137.8 L199.7 1137.8 L201.2 1137.8 L202.7 1137.8 L204.2 1137.8 L205.7 1137.8 L207.2 1137.8 L208.7 1137.8 L210.2 1137.8 L211.7 1137.8 L213.2 1137.8 L214.7 1137.8 L216.2 1137.8 L217.7 1137.8 L219.2 1137.8 L220.7 1137.8 L222.2 1137.8 L223.7 1137.8 L225.2 1137.8 L226.7 1137.8 L228.2 1137.8 L229.7 1137.8 L231.2 1137.8 L232.7 1137.8 L234.2 1137.8 L235.7 1137.7 L237.2 1137.7 L238.7 1137.6 L240.2 1137.6 L241.7 1137.5 L243.2 1137.4 L244.7 1137.3 L246.2 1137.2 L247.7 1137.1 L249.2 1137.0 L250.7 1136.8 L252.2 1136.6 L253.7 1136.4 L255.2 1136.2 L256.6 1135.9 L258.1 1135.6 L259.6 1135.2 L261.0 1134.9 L262.4 1134.4 L263.9 1134.0 L265.3 1133.5 L266.7 1132.9 L268.0 1132.2 L269.3 1131.5 L270.6 1130.8 L271.9 1130.0 L273.1 1129.2 L274.4 1128.3 L275.5 1127.3 L276.6 1126.3 L277.7 1125.3 L278.8 1124.2 L279.8 1123.1 L280.8 1122.0 L281.7 1120.9 L282.6 1119.7 L283.5 1118.4 L284.3 1117.2 L285.1 1115.9 L285.9 1114.6 L286.7 1113.3 L287.4 1112.0 L288.1 1110.7 L288.8 1109.4 L289.5 1108.0 L290.1 1106.7 L290.7 1105.3 L291.3 1103.9 L291.9 1102.5 L292.4 1101.1 L293.0 1099.7 L293.5 1098.3 L294.0 1096.9 L294.5 1095.5 L295.0 1094.1 L295.5 1092.7 L295.9 1091.2 L296.4 1089.8 L296.8 1088.4 L297.3 1086.9 L297.7 1085.5 L298.1 1084.1 L298.5 1082.6 L298.9 1081.2 L299.3 1079.7 L299.7 1078.3 L300.0 1076.8 L300.4 1075.4 L300.8 1073.9 L301.1 1072.5 L301.5 1071.0 L301.8 1069.5 L302.2 1068.1 L302.5 1066.6 L302.8 1065.1 L303.1 1063.7 L303.5 1062.2 L303.8 1060.7 L304.1 1059.3 L304.4 1057.8 L304.7 1056.3 L305.0 1054.9 L305.3 1053.4 L305.6 1051.9 L305.9 1050.5 L306.2 1049.0 L306.5 1047.5 L306.8 1046.0 L307.1 1044.6 L307.4 1043.1 L307.6 1041.6 L307.9 1040.2 L308.2 1038.7 L308.5 1037.2 L308.8 1035.7 L309.0 1034.3 L309.3 1032.8 L309.6 1031.3 L309.9 1029.8 L310.1 1028.3 L310.4 1026.9 L310.7 1025.4 L310.9 1023.9 L311.2 1022.4 L311.5 1021.0 L311.7 1019.5 L312.0 1018.0 L312.3 1016.5 L312.5 1015.1 L312.8 1013.6 L313.1 1012.1 L313.3 1010.6 L313.6 1009.2 L313.8 1007.7 L314.1 1006.2 L314.4 1004.7 L314.6 1003.2 L314.9 1001.8 L315.1 1000.3 L315.4 998.8 L315.7 997.3 L315.9 995.9 L316.2 994.4 L316.4 992.9 L316.7 991.4 L317.0 989.9 L317.2 988.5 L317.5 987.0 L317.7 985.5 L318.0 984.0 L318.3 982.6 L318.5 981.1 L318.8 979.6 L319.0 978.1 L319.3 976.6 L319.6 975.2 L319.8 973.7 L320.1 972.2 L320.3 970.7 L320.6 969.3 L320.9 967.8 L321.1 966.3 L321.4 964.8 L321.6 963.3 L321.9 961.9 L322.2 960.4 L322.4 958.9 L322.7 957.4 L322.9 956.0 L323.2 954.5 L323.5 953.0 L323.7 951.5 L324.0 950.0 L324.3 948.6 L324.5 947.1 L324.8 945.6 L325.1 944.1 L325.3 942.7 L325.6 941.2 L325.9 939.7 L326.1 938.2 L326.4 936.8 L326.7 935.3 L326.9 933.8 L327.2 932.3 L327.5 930.8 L327.7 929.4 L328.0 927.9 L328.2 926.4 L328.5 924.9 L328.7 923.5 L329.0 922.0 L329.2 920.5 L329.5 919.0 L329.7 917.5 L329.9 916.1 L330.2 914.6 L330.4 913.1 L330.6 911.6 L330.8 910.1 L331.1 908.6 L331.3 907.1 L331.5 905.7 L331.7 904.2 L331.9 902.7 L332.1 901.2 L332.3 899.7 L332.6 898.2 L332.8 896.8 L333.0 895.3 L333.2 893.8 L333.4 892.3 L333.7 890.8 L333.9 889.3 L334.1 887.9 L334.4 886.4 L334.6 884.9 L334.8 883.4 L335.1 881.9 L335.4 880.5 L335.6 879.0 L335.9 877.5 L336.2 876.0 L336.5 874.6 L336.8 873.1 L337.1 871.6 L337.5 870.2 L337.8 868.7 L338.2 867.2 L338.5 865.8 L338.9 864.3 L339.3 862.9 L339.7 861.4 L340.1 860.0 L340.5 858.6 L341.0 857.1 L341.4 855.7 L341.9 854.3 L342.3 852.8 L342.7 851.4 L343.2 850.0 L343.7 848.5 L344.1 847.1 L344.6 845.7 L345.2 844.3 L345.7 842.9 L346.3 841.5 L347.0 840.2 L347.7 838.8 L348.4 837.5 L349.1 836.2 L349.9 835.0 L350.8 833.7 L351.6 832.5 L352.6 831.4 L353.7 830.4 L354.9 829.5 L356.1 828.6 L357.4 827.9 L358.8 827.3 L360.2 826.9 L361.7 826.8 L363.1 827.0 L364.5 827.4 L365.9 827.9 L367.2 828.7 L368.4 829.5 L369.5 830.5 L370.6 831.6 L371.5 832.8 L372.3 834.0 L373.2 835.2 L374.0 836.5 L374.8 837.7 L375.6 839.0 L376.4 840.3 L377.1 841.6 L377.9 842.9 L378.6 844.2 L379.3 845.6 L380.0 846.9 L380.6 848.2 L381.3 849.6 L382.0 850.9 L382.6 852.3 L383.2 853.6 L383.9 855.0 L384.5 856.4 L385.1 857.8 L385.7 859.1 L386.2 860.5 L386.8 861.9 L387.4 863.3 L388.0 864.7 L388.5 866.1 L389.1 867.4 L389.7 868.8 L390.2 870.2 L390.8 871.6 L391.3 873.0 L391.9 874.4 L392.4 875.8 L393.0 877.2 L393.5 878.6 L394.1 880.0 L394.6 881.4 L395.2 882.8 L395.7 884.2 L396.2 885.6 L396.8 887.0 L397.3 888.4 L397.9 889.8 L398.4 891.2 L399.0 892.6 L399.5 894.0 L400.0 895.4 L400.6 896.8 L401.1 898.2 L401.7 899.6 L402.2 901.0 L402.8 902.4 L403.3 903.8 L403.9 905.2 L404.5 906.5 L405.1 907.9 L405.6 909.3 L406.2 910.7 L406.8 912.1 L407.4 913.4 L408.1 914.8 L408.7 916.2 L409.3 917.5 L410.0 918.9 L410.6 920.2 L411.3 921.6 L411.9 922.9 L412.6 924.3 L413.3 925.6 L413.9 927.0 L414.6 928.3 L415.3 929.6 L416.0 931.0 L416.6 932.3 L417.3 933.6 L418.0 935.0 L418.7 936.3 L419.3 937.7 L420.0 939.0 L420.7 940.4 L421.3 941.7 L422.0 943.0 L422.7 944.4 L423.4 945.7 L424.0 947.1 L424.7 948.4 L425.4 949.8 L426.0 951.1 L426.7 952.4 L427.4 953.8 L428.0 955.1 L428.7 956.5 L429.4 957.8 L430.1 959.1 L430.8 960.5 L431.4 961.8 L432.1 963.1 L432.8 964.5 L433.5 965.8 L434.2 967.1 L434.9 968.5 L435.6 969.8 L436.3 971.1 L437.0 972.4 L437.7 973.8 L438.4 975.1 L439.2 976.4 L439.9 977.7 L440.6 979.0 L441.3 980.4 L442.0 981.7 L442.7 983.0 L443.5 984.3 L444.2 985.6 L444.9 986.9 L445.6 988.2 L446.4 989.6 L447.1 990.9 L447.8 992.2 L448.5 993.5 L449.3 994.8 L450.0 996.1 L450.7 997.4 L451.5 998.7 L452.2 1000.0 L453.0 1001.3 L453.7 1002.6 L454.5 1003.9 L455.2 1005.2 L456.0 1006.5 L456.7 1007.8 L457.5 1009.1 L458.2 1010.4 L459.0 1011.7 L459.8 1013.0 L460.5 1014.3 L461.3 1015.6 L462.1 1016.9 L462.9 1018.1 L463.7 1019.4 L464.5 1020.7 L465.3 1021.9 L466.1 1023.2 L466.9 1024.4 L467.8 1025.7 L468.7 1026.9 L469.5 1028.1 L470.4 1029.3 L471.3 1030.5 L472.2 1031.7 L473.1 1032.9 L474.1 1034.1 L475.0 1035.3 L476.0 1036.4 L476.9 1037.6 L477.9 1038.7 L478.9 1039.8 L479.9 1040.9 L481.0 1042.0 L482.0 1043.1 L483.1 1044.1 L484.1 1045.2 L485.2 1046.3 L486.3 1047.3 L487.4 1048.3 L488.5 1049.3 L489.6 1050.3 L490.7 1051.3 L491.9 1052.3 L493.1 1053.2 L494.2 1054.2 L495.4 1055.1 L496.6 1056.0 L497.8 1056.9 L499.0 1057.8 L500.2 1058.7 L501.5 1059.5 L502.7 1060.4 L503.9 1061.2 L505.2 1062.0 L506.5 1062.9 L507.7 1063.6 L509.0 1064.4 L510.3 1065.2 L511.6 1065.9 L512.9 1066.6 L514.3 1067.3 L515.6 1068.0 L516.9 1068.7 L518.3 1069.4 L519.6 1070.1 L521.0 1070.7 L522.3 1071.4 L523.7 1072.0 L525.1 1072.6 L526.4 1073.2 L527.8 1073.8 L529.2 1074.3 L530.6 1074.9 L532.0 1075.5 L533.4 1076.0 L534.8 1076.5 L536.2 1077.1 L537.6 1077.6 L539.0 1078.0 L540.4 1078.5 L541.9 1079.0 L543.3 1079.4 L544.8 1079.8 L546.2 1080.2 L547.7 1080.6 L549.1 1081.0 L550.6 1081.3 L552.0 1081.7 L553.5 1082.0 L554.9 1082.4 L556.4 1082.7 L557.9 1083.0 L559.4 1083.3 L560.8 1083.5 L562.3 1083.8 L563.8 1084.1 L565.3 1084.3 L566.7 1084.6 L568.2 1084.8 L569.7 1085.0 L571.2 1085.2 L572.7 1085.4 L574.2 1085.6 L575.7 1085.8 L577.2 1085.9 L578.6 1086.1 L580.1 1086.2 L581.6 1086.4 L583.1 1086.5 L584.6 1086.6 L586.1 1086.7 L587.6 1086.9 L589.1 1086.9 L590.6 1087.0 L592.1 1087.1 L593.6 1087.2 L595.1 1087.2 L596.6 1087.3 L598.1 1087.4 L599.6 1087.4 L601.1 1087.5 L602.6 1087.5 L604.1 1087.6 L605.6 1087.6 L607.1 1087.6 L608.6 1087.6 L610.1 1087.6 L611.6 1087.6 L613.1 1087.5 L614.6 1087.5 L616.1 1087.4 L617.6 1087.4 L619.1 1087.3 L620.6 1087.3 L622.1 1087.2 L623.6 1087.1 L625.1 1087.0 L626.6 1086.9 L628.1 1086.7 L629.6 1086.5 L631.1 1086.4 L632.5 1086.2 L634.0 1086.0 L635.5 1085.8 L637.0 1085.5 L638.5 1085.3 L640.0 1085.1 L641.4 1084.8 L642.9 1084.5 L644.4 1084.1 L645.8 1083.7 L647.3 1083.4 L648.7 1083.0 L650.2 1082.5 L651.6 1082.1 L653.0 1081.6 L654.4 1081.2 L655.8 1080.6 L657.2 1080.1 L658.6 1079.5 L660.0 1078.9 L661.3 1078.2 L662.7 1077.6 L664.1 1077.0 L665.4 1076.3 L666.7 1075.6 L668.0 1074.8 L669.3 1074.1 L670.6 1073.3 L671.8 1072.4 L673.1 1071.6 L674.3 1070.7 L675.5 1069.9 L676.7 1068.9 L677.8 1068.0 L679.0 1067.0 L680.1 1065.9 L681.1 1064.9 L682.2 1063.8 L683.2 1062.8 L684.3 1061.7 L685.2 1060.5 L686.2 1059.4 L687.1 1058.2 L688.0 1057.0 L688.9 1055.7 L689.7 1054.5 L690.5 1053.3 L691.3 1052.0 L692.2 1050.7 L692.9 1049.5 L693.7 1048.2 L694.5 1046.9 L695.2 1045.6 L695.9 1044.2 L696.6 1042.9 L697.3 1041.6 L698.0 1040.2 L698.6 1038.9 L699.3 1037.5 L699.9 1036.2 L700.5 1034.8 L701.1 1033.4 L701.7 1032.1 L702.3 1030.7 L702.9 1029.3 L703.4 1027.9 L703.9 1026.5 L704.5 1025.1 L705.0 1023.7 L705.5 1022.3 L706.0 1020.8 L706.5 1019.4 L707.0 1018.0 L707.5 1016.6 L708.0 1015.2 L708.4 1013.7 L708.9 1012.3 L709.3 1010.9 L709.8 1009.4 L710.2 1008.0 L710.6 1006.6 L711.0 1005.1 L711.4 1003.7 L711.8 1002.2 L712.2 1000.8 L712.6 999.3 L713.0 997.9 L713.4 996.4 L713.8 995.0 L714.1 993.5 L714.5 992.1 L714.8 990.6 L715.2 989.1 L715.5 987.7 L715.8 986.2 L716.2 984.8 L716.5 983.3 L716.8 981.8 L717.1 980.4 L717.4 978.9 L717.7 977.4 L718.0 975.9 L718.3 974.5 L718.6 973.0 L718.9 971.5 L719.1 970.1 L719.4 968.6 L719.7 967.1 L720.0 965.6 L720.2 964.2 L720.5 962.7 L720.7 961.2 L721.0 959.7 L721.3 958.2 L721.5 956.8 L721.8 955.3 L722.0 953.8 L722.3 952.3 L722.5 950.8 L722.8 949.4 L723.1 947.9 L723.3 946.4 L723.6 944.9 L723.8 943.5 L724.0 942.0 L724.3 940.5 L724.5 939.0 L724.8 937.5 L725.0 936.0 L725.3 934.6 L725.5 933.1 L725.7 931.6 L726.0 930.1 L726.2 928.6 L726.4 927.2 L726.7 925.7 L726.9 924.2 L727.1 922.7 L727.4 921.2 L727.6 919.7 L727.8 918.3 L728.0 916.8 L728.2 915.3 L728.5 913.8 L728.7 912.3 L728.9 910.8 L729.1 909.3 L729.3 907.9 L729.5 906.4 L729.7 904.9 L729.9 903.4 L730.1 901.9 L730.2 900.4 L730.4 898.9 L730.6 897.4 L730.8 896.0 L731.0 894.5 L731.2 893.0 L731.4 891.5 L731.5 890.0 L731.7 888.5 L731.9 887.0 L732.1 885.5 L732.3 884.0 L732.5 882.6 L732.7 881.1 L732.9 879.6 L733.1 878.1 L733.4 876.6 L733.6 875.1 L733.8 873.7 L734.1 872.2 L734.3 870.7 L734.6 869.2 L734.8 867.7 L735.1 866.3 L735.3 864.8 L735.6 863.3 L735.9 861.8 L736.1 860.3 L736.4 858.9 L736.6 857.4 L736.9 855.9 L737.2 854.4 L737.5 853.0 L737.7 851.5 L738.0 850.0 L738.4 848.6 L738.7 847.1 L739.2 845.7 L739.7 844.3 L740.3 843.1 L741.1 842.5 L741.9 842.7 L742.6 843.7 L743.2 845.0 L743.6 846.4 L744.0 847.8 L744.3 849.3 L744.6 850.8 L744.9 852.2 L745.1 853.7 L745.4 855.2 L745.6 856.7 L745.9 858.2 L746.1 859.6 L746.4 861.1 L746.6 862.6 L746.9 864.1 L747.2 865.5 L747.4 867.0 L747.7 868.5 L747.9 870.0 L748.2 871.5 L748.4 872.9 L748.6 874.4 L748.8 875.9 L749.0 877.4 L749.2 878.9 L749.4 880.4 L749.6 881.9 L749.8 883.3 L750.0 884.8 L750.2 886.3 L750.4 887.8 L750.5 889.3 L750.7 890.8 L750.9 892.3 L751.0 893.8 L751.2 895.3 L751.4 896.8 L751.5 898.3 L751.7 899.7 L751.9 901.2 L752.0 902.7 L752.2 904.2 L752.4 905.7 L752.5 907.2 L752.7 908.7 L752.9 910.2 L753.0 911.7 L753.2 913.2 L753.4 914.7 L753.5 916.1 L753.7 917.6 L753.9 919.1 L754.1 920.6 L754.3 922.1 L754.5 923.6 L754.7 925.1 L754.8 926.6 L755.0 928.1 L755.2 929.5 L755.4 931.0 L755.6 932.5 L755.8 934.0 L756.1 935.5 L756.3 937.0 L756.5 938.5 L756.7 939.9 L756.9 941.4 L757.1 942.9 L757.3 944.4 L757.5 945.9 L757.7 947.4 L757.9 948.9 L758.0 950.4 L758.2 951.8 L758.4 953.3 L758.6 954.8 L758.8 956.3 L759.0 957.8 L759.2 959.3 L759.4 960.8 L759.5 962.3 L759.7 963.8 L759.9 965.2 L760.1 966.7 L760.3 968.2 L760.5 969.7 L760.7 971.2 L760.8 972.7 L761.0 974.2 L761.2 975.7 L761.4 977.2 L761.6 978.6 L761.8 980.1 L762.0 981.6 L762.1 983.1 L762.3 984.6 L762.5 986.1 L762.7 987.6 L762.9 989.1 L763.1 990.6 L763.3 992.0 L763.4 993.5 L763.6 995.0 L763.8 996.5 L764.0 998.0 L764.2 999.5 L764.4 1001.0 L764.6 1002.5 L764.7 1004.0 L764.9 1005.4 L765.1 1006.9 L765.3 1008.4 L765.5 1009.9 L765.7 1011.4 L765.9 1012.9 L766.0 1014.4 L766.2 1015.9 L766.4 1017.4 L766.6 1018.8 L766.8 1020.3 L767.0 1021.8 L767.2 1023.3 L767.4 1024.8 L767.5 1026.3 L767.7 1027.8 L767.9 1029.3 L768.1 1030.8 L768.3 1032.2 L768.5 1033.7 L768.7 1035.2 L768.9 1036.7 L769.1 1038.2 L769.3 1039.7 L769.5 1041.2 L769.7 1042.7 L769.8 1044.1 L770.0 1045.6 L770.2 1047.1 L770.4 1048.6 L770.6 1050.1 L770.7 1051.6 L770.9 1053.1 L771.0 1054.6 L771.2 1056.1 L771.4 1057.6 L771.5 1059.1 L771.7 1060.6 L771.8 1062.0 L771.9 1063.5 L772.1 1065.0 L772.2 1066.5 L772.3 1068.0 L772.5 1069.5 L772.6 1071.0 L772.7 1072.5 L772.8 1074.0 L773.0 1075.5 L773.0 1076.0" fill="none" stroke="#ff0000" stroke-width="3.5" stroke-linejoin="round" stroke-linecap="butt"/>
<path d="M126.9 921.0 L127.1 922.5 L127.2 924.0 L127.4 925.5 L127.6 927.0 L127.7 928.5 L127.9 929.9 L128.1 931.4 L128.2 932.9 L128.4 934.4 L128.6 935.9 L128.7 937.4 L128.9 938.9 L129.1 940.4 L129.3 941.9 L129.4 943.4 L129.6 944.9 L129.8 946.3 L130.0 947.8 L130.2 949.3 L130.4 950.8 L130.5 952.3 L130.7 953.8 L130.9 955.3 L131.1 956.8 L131.3 958.3 L131.5 959.7 L131.7 961.2 L131.9 962.7 L132.1 964.2 L132.3 965.7 L132.5 967.2 L132.7 968.7 L132.9 970.2 L133.1 971.6 L133.3 973.1 L133.5 974.6 L133.7 976.1 L133.9 977.6 L134.2 979.1 L134.4 980.6 L134.6 982.0 L134.8 983.5 L135.1 985.0 L135.3 986.5 L135.5 988.0 L135.8 989.5 L136.0 990.9 L136.2 992.4 L136.5 993.9 L136.8 995.4 L137.0 996.8 L137.3 998.3 L137.6 999.8 L137.9 1001.3 L138.2 1002.7 L138.5 1004.2 L138.8 1005.7 L139.1 1007.1 L139.4 1008.6 L139.8 1010.1 L140.1 1011.5 L140.5 1013.0 L140.9 1014.4 L141.3 1015.9 L141.8 1017.3 L142.3 1018.7 L142.8 1020.1 L143.3 1021.5 L143.9 1022.9 L144.5 1024.3 L145.1 1025.6 L145.8 1027.0 L146.6 1028.2 L147.5 1029.5 L148.4 1030.6 L149.4 1031.8 L150.4 1032.9 L151.4 1034.0 L152.5 1035.0 L153.5 1036.1 L154.6 1037.2 L155.7 1038.2 L156.7 1039.3 L157.7 1040.4 L158.6 1041.6 L159.4 1042.9 L160.0 1044.2 L160.6 1045.6 L161.1 1047.0 L161.6 1048.4 L162.0 1049.9 L162.5 1051.3 L162.9 1052.7 L163.4 1054.1 L163.9 1055.6 L164.3 1057.0 L164.8 1058.4 L165.3 1059.8 L165.8 1061.3 L166.2 1062.7 L166.7 1064.1 L167.2 1065.5 L167.6 1067.0 L168.1 1068.4 L168.6 1069.8 L169.1 1071.2 L169.5 1072.7 L170.0 1074.1 L170.5 1075.5 L171.0 1076.9 L171.5 1078.3 L172.0 1079.7 L172.5 1081.2 L173.0 1082.6 L173.5 1084.0 L174.1 1085.4 L174.6 1086.8 L175.2 1088.2 L175.8 1089.5 L176.4 1090.9 L177.1 1092.2 L177.8 1093.6 L178.5 1094.9 L179.2 1096.2 L179.9 1097.5 L180.7 1098.8 L181.4 1100.1 L182.2 1101.4 L183.1 1102.6 L183.9 1103.9 L184.8 1105.1 L185.7 1106.3 L186.6 1107.5 L187.6 1108.6 L188.5 1109.8 L189.5 1111.0 L190.5 1112.1 L191.5 1113.2 L192.5 1114.3 L193.5 1115.4 L194.5 1116.5 L195.5 1117.6 L196.5 1118.8 L197.6 1119.8 L198.6 1120.9 L199.7 1122.0 L200.8 1123.0 L202.0 1123.9 L203.3 1124.6 L204.6 1125.3 L206.0 1125.9 L207.4 1126.3 L208.8 1126.4 L210.3 1126.3 L211.8 1126.1 L213.2 1125.8 L214.7 1125.4 L216.1 1124.9 L217.5 1124.4 L218.9 1123.8 L220.3 1123.3 L221.7 1122.8 L223.1 1122.3 L224.6 1121.9 L226.1 1121.7 L227.5 1121.4 L229.0 1121.3 L230.5 1121.1 L232.0 1121.0 L233.5 1121.0 L235.0 1121.0 L236.5 1121.0 L238.0 1121.0 L239.5 1121.0 L241.0 1120.8 L242.5 1120.6 L243.9 1120.2 L245.4 1119.8 L246.8 1119.4 L248.2 1118.9 L249.6 1118.3 L251.0 1117.7 L252.3 1117.0 L253.6 1116.3 L254.9 1115.5 L256.2 1114.7 L257.5 1113.9 L258.7 1113.1 L260.0 1112.3 L261.2 1111.5 L262.5 1110.6 L263.7 1109.7 L264.9 1108.8 L266.1 1107.9 L267.3 1107.0 L268.5 1106.1 L269.7 1105.2 L270.9 1104.3 L272.1 1103.4 L273.3 1102.5 L274.5 1101.6 L275.6 1100.7 L276.8 1099.7 L278.0 1098.8 L279.1 1097.8 L280.2 1096.8 L281.3 1095.7 L282.3 1094.7 L283.4 1093.6 L284.4 1092.5 L285.3 1091.3 L286.3 1090.2 L287.2 1089.0 L288.1 1087.8 L289.0 1086.6 L289.8 1085.3 L290.6 1084.1 L291.4 1082.8 L292.2 1081.5 L293.0 1080.2 L293.7 1078.9 L294.5 1077.6 L295.2 1076.3 L296.0 1075.0 L296.7 1073.7 L297.5 1072.4 L298.2 1071.1 L298.9 1069.8 L299.6 1068.4 L300.3 1067.1 L301.1 1065.8 L301.8 1064.5 L302.6 1063.2 L303.4 1062.0 L304.2 1060.7 L305.1 1059.5 L306.0 1058.3 L306.9 1057.1 L307.9 1056.0 L308.9 1054.9 L310.0 1053.8 L311.1 1052.8 L312.3 1051.9 L313.5 1051.0 L314.7 1050.2 L316.0 1049.4 L317.3 1048.7 L318.7 1048.1 L320.1 1047.7 L321.6 1047.4 L323.0 1047.1 L324.5 1047.1 L326.0 1047.1 L327.5 1047.3 L329.0 1047.6 L330.4 1047.9 L331.9 1048.4 L333.3 1048.8 L334.7 1049.3 L336.1 1049.8 L337.5 1050.4 L338.9 1051.0 L340.3 1051.6 L341.6 1052.2 L342.9 1052.9 L344.2 1053.7 L345.5 1054.4 L346.8 1055.2 L348.1 1056.0 L349.4 1056.7 L350.8 1057.3 L352.2 1057.9 L353.5 1058.5 L354.9 1059.1 L356.3 1059.6 L357.7 1060.2 L359.1 1060.7 L360.5 1061.2 L362.0 1061.7 L363.4 1062.2 L364.8 1062.7 L366.2 1063.2 L367.6 1063.7 L369.0 1064.3 L370.4 1064.8 L371.8 1065.3 L373.2 1065.9 L374.6 1066.4 L376.0 1066.9 L377.4 1067.4 L378.9 1067.7 L380.4 1067.8 L381.9 1067.8 L383.3 1067.6 L384.8 1067.3 L386.2 1066.8 L387.6 1066.2 L388.9 1065.5 L390.3 1064.8 L391.6 1064.2 L392.9 1063.5 L394.3 1062.8 L395.7 1062.3 L397.1 1062.0 L398.5 1062.0 L400.0 1062.3 L401.3 1062.8 L402.6 1063.6 L403.7 1064.5 L404.8 1065.6 L405.7 1066.7 L406.7 1067.9 L407.5 1069.1 L408.4 1070.4 L409.2 1071.6 L410.0 1072.9 L410.8 1074.2 L411.6 1075.4 L412.5 1076.7 L413.3 1077.9 L414.2 1079.1 L415.1 1080.3 L416.0 1081.5 L416.9 1082.7 L417.9 1083.8 L418.9 1084.9 L420.0 1086.0 L421.1 1087.0 L422.2 1088.0 L423.3 1089.0 L424.5 1089.9 L425.7 1090.8 L427.0 1091.6 L428.3 1092.4 L429.5 1093.2 L430.8 1093.9 L432.1 1094.7 L433.5 1095.4 L434.8 1096.0 L436.2 1096.7 L437.5 1097.3 L438.9 1097.9 L440.3 1098.5 L441.6 1099.2 L443.0 1099.8 L444.4 1100.4 L445.8 1101.0 L447.1 1101.6 L448.5 1102.2 L449.9 1102.7 L451.3 1103.3 L452.7 1103.8 L454.1 1104.3 L455.6 1104.8 L457.0 1105.2 L458.4 1105.6 L459.9 1106.0 L461.3 1106.3 L462.8 1106.6 L464.3 1106.9 L465.8 1107.2 L467.2 1107.5 L468.7 1107.7 L470.2 1107.9 L471.7 1108.1 L473.2 1108.3 L474.7 1108.4 L476.2 1108.6 L477.7 1108.7 L479.2 1108.8 L480.7 1108.9 L482.2 1109.0 L483.6 1109.1 L485.1 1109.2 L486.6 1109.3 L488.1 1109.4 L489.6 1109.6 L491.1 1109.7 L492.6 1109.9 L494.1 1110.0 L495.6 1110.2 L497.1 1110.4 L498.6 1110.6 L500.1 1110.7 L501.6 1110.9 L503.0 1111.2 L504.5 1111.4 L506.0 1111.6 L507.5 1111.8 L509.0 1112.1 L510.5 1112.3 L511.9 1112.6 L513.4 1112.8 L514.9 1113.1 L516.4 1113.3 L517.9 1113.6 L519.3 1113.8 L520.8 1114.0 L522.3 1114.3 L523.8 1114.5 L525.3 1114.7 L526.8 1114.9 L528.2 1115.2 L529.7 1115.4 L531.2 1115.6 L532.7 1115.8 L534.2 1116.0 L535.7 1116.2 L537.2 1116.4 L538.6 1116.6 L540.1 1116.8 L541.6 1117.0 L543.1 1117.2 L544.6 1117.4 L546.1 1117.6 L547.6 1117.8 L549.1 1117.9 L550.6 1118.0 L552.1 1118.2 L553.6 1118.3 L555.0 1118.4 L556.5 1118.6 L558.0 1118.7 L559.5 1118.8 L561.0 1118.9 L562.5 1119.0 L564.0 1119.1 L565.5 1119.2 L567.0 1119.3 L568.5 1119.3 L570.0 1119.4 L571.5 1119.5 L573.0 1119.5 L574.5 1119.6 L576.0 1119.6 L577.5 1119.7 L579.0 1119.7 L580.5 1119.8 L582.0 1119.8 L583.5 1119.9 L585.0 1119.9 L586.5 1119.9 L588.0 1120.0 L589.5 1120.0 L591.0 1120.0 L592.5 1120.0 L594.0 1120.0 L595.5 1120.1 L597.0 1120.1 L598.5 1120.1 L600.0 1120.1 L601.5 1120.1 L603.0 1120.1 L604.5 1120.1 L606.0 1120.0 L607.5 1120.0 L609.0 1120.0 L610.5 1120.0 L612.0 1120.0 L613.5 1119.9 L615.0 1119.9 L616.5 1119.8 L618.0 1119.7 L619.5 1119.6 L621.0 1119.6 L622.5 1119.5 L624.0 1119.4 L625.5 1119.3 L627.0 1119.2 L628.5 1119.1 L630.0 1119.0 L631.5 1118.9 L633.0 1118.8 L634.5 1118.7 L636.0 1118.5 L637.5 1118.4 L639.0 1118.3 L640.5 1118.1 L642.0 1117.9 L643.5 1117.8 L644.9 1117.6 L646.4 1117.4 L647.9 1117.3 L649.4 1117.1 L650.9 1116.9 L652.4 1116.7 L653.9 1116.4 L655.4 1116.2 L656.8 1115.9 L658.3 1115.6 L659.8 1115.3 L661.2 1115.0 L662.7 1114.7 L664.2 1114.4 L665.6 1114.1 L667.1 1113.7 L668.6 1113.4 L670.0 1113.0 L671.5 1112.6 L672.9 1112.2 L674.4 1111.8 L675.8 1111.4 L677.2 1110.9 L678.6 1110.4 L680.1 1109.9 L681.5 1109.4 L682.8 1108.8 L684.2 1108.2 L685.5 1107.5 L686.8 1106.8 L688.2 1106.0 L689.5 1105.3 L690.8 1104.5 L692.0 1103.8 L693.3 1103.0 L694.5 1102.1 L695.8 1101.3 L697.0 1100.4 L698.2 1099.4 L699.3 1098.5 L700.5 1097.5 L701.6 1096.5 L702.6 1095.5 L703.7 1094.4 L704.7 1093.2 L705.6 1092.1 L706.6 1091.0 L707.6 1089.8 L708.5 1088.6 L709.4 1087.4 L710.3 1086.2 L711.2 1085.0 L712.0 1083.8 L712.8 1082.5 L713.6 1081.2 L714.4 1079.9 L715.1 1078.6 L715.8 1077.3 L716.5 1076.0 L717.1 1074.6 L717.8 1073.2 L718.3 1071.9 L718.9 1070.5 L719.4 1069.1 L720.0 1067.7 L720.5 1066.3 L721.0 1064.8 L721.5 1063.4 L722.0 1062.0 L722.5 1060.6 L722.9 1059.2 L723.4 1057.7 L723.8 1056.3 L724.2 1054.8 L724.6 1053.4 L725.0 1052.0 L725.4 1050.5 L725.8 1049.0 L726.1 1047.6 L726.5 1046.1 L726.8 1044.7 L727.2 1043.2 L727.5 1041.7 L727.8 1040.3 L728.1 1038.8 L728.4 1037.3 L728.7 1035.9 L729.0 1034.4 L729.3 1032.9 L729.6 1031.4 L729.8 1030.0 L730.1 1028.5 L730.4 1027.0 L730.7 1025.6 L731.0 1024.1 L731.3 1022.6 L731.6 1021.1 L731.8 1019.7 L732.1 1018.2 L732.4 1016.7 L732.7 1015.2 L733.0 1013.8 L733.3 1012.3 L733.6 1010.8 L733.9 1009.4 L734.2 1007.9 L734.5 1006.4 L734.8 1005.0 L735.1 1003.5 L735.5 1002.0 L735.8 1000.6 L736.1 999.1 L736.5 997.6 L736.8 996.2 L737.2 994.7 L737.6 993.3 L738.0 991.8 L738.5 990.4 L739.1 989.0 L739.7 987.7 L740.4 986.4 L741.2 985.2 L742.3 984.3 L743.5 983.9 L744.8 984.1 L745.9 984.8 L746.8 985.9 L747.5 987.2 L748.2 988.5 L748.8 989.9 L749.3 991.3 L749.8 992.7 L750.3 994.2 L750.7 995.6 L751.1 997.0 L751.6 998.5 L752.0 999.9 L752.4 1001.4 L752.8 1002.8 L753.2 1004.3 L753.5 1005.7 L753.9 1007.2 L754.3 1008.6 L754.6 1010.1 L755.0 1011.5 L755.3 1013.0 L755.7 1014.5 L756.0 1015.9 L756.4 1017.4 L756.7 1018.8 L757.1 1020.3 L757.4 1021.8 L757.7 1023.2 L758.1 1024.7 L758.4 1026.1 L758.7 1027.6 L759.1 1029.1 L759.4 1030.5 L759.7 1032.0 L760.0 1033.5 L760.4 1034.9 L760.7 1036.4 L761.0 1037.9 L761.4 1039.3 L761.7 1040.8 L762.1 1042.2 L762.4 1043.7 L762.8 1045.2 L763.1 1046.6 L763.5 1048.1 L763.9 1049.5 L764.2 1051.0 L764.6 1052.4 L765.0 1053.9 L765.3 1055.4 L765.7 1056.8 L766.1 1058.3 L766.4 1059.7 L766.8 1061.2 L767.2 1062.6 L767.5 1064.1 L767.9 1065.5 L768.3 1067.0 L768.7 1068.4 L769.0 1069.9 L769.4 1071.3 L769.8 1072.8 L770.1 1074.3 L770.5 1075.7 L770.8 1077.2 L771.1 1078.7 L771.4 1080.1 L771.7 1081.6 L771.9 1083.1 L772.2 1084.6 L772.4 1086.0 L772.6 1087.5 L772.9 1089.0 L773.0 1090.0" fill="none" stroke="#0000ff" stroke-width="3.5" stroke-linejoin="round" stroke-linecap="butt"/>
<rect x="126.9" y="657.0" width="646.1" height="481.5" fill="none" stroke="#000" stroke-width="1.75"/>
<path d="M126.9 1138.4h-10.0M126.9 1090.3h-6.0M126.9 1042.1h-10.0M126.9 994.0h-6.0M126.9 945.8h-10.0M126.9 897.7h-6.0M126.9 849.5h-10.0M126.9 801.4h-6.0M126.9 753.2h-10.0M126.9 705.1h-6.0M126.9 657.0h-10.0M126.9 1138.4v10.0M207.7 1138.4v5.5M288.4 1138.4v10.0M369.2 1138.4v5.5M450.0 1138.4v10.0M530.7 1138.4v5.5M611.5 1138.4v10.0M692.2 1138.4v5.5M773.0 1138.4v10.0" stroke="#000" stroke-width="1.75" fill="none"/>
<g font-family="'Liberation Serif', 'Times New Roman', serif" font-size="36" fill="#000">
<text transform="translate(109.5 1149.4) scale(1 1.035)" text-anchor="end">0</text>
<text transform="translate(109.5 1053.1) scale(1 1.035)" text-anchor="end">20</text>
<text transform="translate(109.5 956.8) scale(1 1.035)" text-anchor="end">40</text>
<text transform="translate(109.5 860.5) scale(1 1.035)" text-anchor="end">60</text>
<text transform="translate(109.5 764.2) scale(1 1.035)" text-anchor="end">80</text>
<text transform="translate(109.5 668.0) scale(1 1.035)" text-anchor="end">100</text>
<text transform="translate(126.9 1184.0) scale(1 1.035)" text-anchor="middle">380</text>
<text transform="translate(288.4 1184.0) scale(1 1.035)" text-anchor="middle">480</text>
<text transform="translate(450.0 1184.0) scale(1 1.035)" text-anchor="middle">580</text>
<text transform="translate(611.5 1184.0) scale(1 1.035)" text-anchor="middle">680</text>
<text transform="translate(773.0 1184.0) scale(1 1.035)" text-anchor="middle">780</text>
</g>
<g font-family="'Liberation Serif', 'Times New Roman', serif" font-size="39.5" fill="#000">
<text x="449.9" y="1235.1" text-anchor="middle">Wavelength (nm)</text>
<text transform="translate(28.3 897.7) rotate(-90)" text-anchor="middle">Efficiency (%)</text>
</g>
<text x="4.8" y="665.8" font-family="'Liberation Serif', 'Times New Roman', serif" font-weight="bold" font-size="45.5" fill="#000">c</text>
<path d="M548.8 837.3H631.9" stroke="#000" stroke-width="3.6" stroke-linecap="round" fill="none"/>
<text x="641.6" y="850.1" font-family="'Liberation Serif', 'Times New Roman', serif" font-style="italic" font-size="36" fill="#000">R<tspan font-size="22.5" dy="14.1">xx</tspan></text>
<path d="M548.8 895.6H631.9" stroke="#ff0000" stroke-width="3.6" stroke-linecap="round" fill="none"/>
<text x="641.6" y="908.4" font-family="'Liberation Serif', 'Times New Roman', serif" font-style="italic" font-size="36" fill="#000">R<tspan font-size="22.5" dy="14.1">yx</tspan></text>
<path d="M548.8 953.9H631.9" stroke="#0000ff" stroke-width="3.6" stroke-linecap="round" fill="none"/>
<text x="641.6" y="966.7" font-family="'Liberation Serif', 'Times New Roman', serif" font-style="italic" font-size="36" fill="#000">A</text>
</g>
<g class="panel-d">
<path d="M974.6 1132.0 L975.9 1132.7 L977.3 1133.3 L978.7 1134.0 L980.0 1134.5 L981.4 1135.1 L982.9 1135.5 L984.3 1135.9 L985.8 1136.3 L987.2 1136.6 L988.7 1136.9 L990.2 1137.2 L991.6 1137.4 L993.1 1137.6 L994.6 1137.6 L996.1 1137.7 L997.6 1137.7 L999.1 1137.6 L1000.6 1137.5 L1002.1 1137.4 L1003.6 1137.3 L1005.1 1137.0 L1006.5 1136.6 L1008.0 1136.2 L1009.3 1135.6 L1010.7 1135.0 L1011.9 1134.2 L1013.0 1133.2 L1014.0 1132.1 L1015.0 1130.9 L1015.8 1129.7 L1016.6 1128.5 L1017.4 1127.2 L1018.1 1125.9 L1018.8 1124.5 L1019.4 1123.1 L1019.9 1121.7 L1020.4 1120.3 L1021.0 1118.9 L1021.5 1117.5 L1021.9 1116.1 L1022.4 1114.7 L1022.9 1113.2 L1023.3 1111.8 L1023.7 1110.4 L1024.1 1108.9 L1024.5 1107.5 L1024.9 1106.0 L1025.3 1104.6 L1025.7 1103.1 L1026.0 1101.7 L1026.4 1100.2 L1026.8 1098.8 L1027.2 1097.3 L1027.5 1095.9 L1027.9 1094.4 L1028.3 1092.9 L1028.6 1091.5 L1029.0 1090.0 L1029.4 1088.6 L1029.7 1087.1 L1030.1 1085.7 L1030.4 1084.2 L1030.8 1082.8 L1031.2 1081.3 L1031.5 1079.8 L1031.9 1078.4 L1032.3 1076.9 L1032.6 1075.5 L1033.0 1074.0 L1033.4 1072.6 L1033.8 1071.1 L1034.2 1069.7 L1034.6 1068.2 L1035.0 1066.8 L1035.5 1065.4 L1036.1 1064.0 L1036.7 1062.7 L1037.5 1061.4 L1038.4 1060.2 L1039.5 1059.3 L1040.7 1058.6 L1042.1 1058.4 L1043.3 1058.8 L1044.5 1059.5 L1045.5 1060.6 L1046.4 1061.8 L1047.2 1063.1 L1047.9 1064.4 L1048.5 1065.7 L1049.2 1067.1 L1049.8 1068.5 L1050.3 1069.9 L1050.9 1071.3 L1051.4 1072.7 L1052.0 1074.1 L1052.5 1075.5 L1053.0 1076.9 L1053.5 1078.3 L1054.1 1079.7 L1054.6 1081.1 L1055.2 1082.4 L1055.8 1083.8 L1056.5 1085.2 L1057.1 1086.5 L1057.7 1087.9 L1058.4 1089.2 L1059.1 1090.6 L1059.8 1091.9 L1060.6 1093.2 L1061.3 1094.5 L1062.1 1095.8 L1062.9 1097.0 L1063.7 1098.3 L1064.5 1099.6 L1065.4 1100.8 L1066.3 1102.0 L1067.2 1103.2 L1068.1 1104.4 L1069.1 1105.5 L1070.0 1106.7 L1071.0 1107.8 L1072.0 1108.9 L1073.1 1110.0 L1074.1 1111.1 L1075.2 1112.1 L1076.3 1113.1 L1077.4 1114.1 L1078.5 1115.1 L1079.7 1116.1 L1080.8 1117.0 L1081.9 1118.0 L1083.0 1119.1 L1084.1 1120.2 L1085.1 1121.3 L1086.0 1122.4 L1087.0 1123.6 L1088.0 1124.7 L1089.0 1125.8 L1090.0 1126.9 L1091.0 1128.1 L1092.0 1129.2 L1093.0 1130.3 L1094.1 1131.3 L1095.2 1132.4 L1096.3 1133.4 L1097.4 1134.3 L1098.7 1135.2 L1099.9 1136.0 L1101.2 1136.8 L1102.5 1137.4 L1103.9 1137.9 L1105.4 1138.2 L1106.9 1138.4 L1108.4 1138.5 L1109.9 1138.5 L1111.4 1138.5 L1112.8 1138.3 L1114.3 1138.1 L1115.8 1137.8 L1117.2 1137.4 L1118.7 1137.0 L1120.0 1136.4 L1121.4 1135.7 L1122.7 1135.0 L1124.0 1134.2 L1125.2 1133.4 L1126.5 1132.6 L1127.6 1131.6 L1128.8 1130.7 L1130.0 1129.7 L1131.1 1128.7 L1132.2 1127.7 L1133.3 1126.7 L1134.4 1125.7 L1135.5 1124.7 L1136.5 1123.6 L1137.6 1122.5 L1138.6 1121.5 L1139.7 1120.4 L1140.7 1119.3 L1141.7 1118.2 L1142.7 1117.1 L1143.7 1115.9 L1144.7 1114.8 L1145.7 1113.7 L1146.7 1112.6 L1147.7 1111.4 L1148.7 1110.3 L1149.7 1109.2 L1150.8 1108.2 L1151.8 1107.1 L1152.9 1106.0 L1153.9 1105.0 L1155.0 1103.9 L1156.1 1102.9 L1157.2 1101.8 L1158.3 1100.8 L1159.3 1099.8 L1160.4 1098.7 L1161.5 1097.7 L1162.7 1096.7 L1163.9 1095.8 L1165.1 1095.0 L1166.4 1094.3 L1167.8 1093.6 L1169.1 1093.1 L1170.6 1092.6 L1172.0 1092.3 L1173.5 1092.1 L1175.0 1092.1 L1176.4 1092.3 L1177.9 1092.7 L1179.2 1093.3 L1180.5 1094.1 L1181.7 1094.9 L1182.9 1095.8 L1184.0 1096.8 L1185.1 1097.8 L1186.1 1098.9 L1187.1 1100.0 L1188.1 1101.2 L1189.1 1102.3 L1190.0 1103.5 L1190.9 1104.7 L1191.8 1105.9 L1192.7 1107.2 L1193.5 1108.4 L1194.4 1109.6 L1195.3 1110.8 L1196.2 1112.0 L1197.1 1113.2 L1198.0 1114.4 L1198.9 1115.6 L1199.8 1116.8 L1200.8 1117.9 L1201.8 1119.0 L1202.8 1120.1 L1203.9 1121.2 L1205.0 1122.2 L1206.1 1123.2 L1207.3 1124.1 L1208.5 1125.0 L1209.7 1125.9 L1211.0 1126.7 L1212.2 1127.5 L1213.5 1128.2 L1214.9 1128.9 L1216.2 1129.6 L1217.6 1130.2 L1219.0 1130.8 L1220.3 1131.3 L1221.8 1131.9 L1223.2 1132.4 L1224.6 1132.8 L1226.0 1133.3 L1227.5 1133.7 L1228.9 1134.1 L1230.3 1134.5 L1231.8 1134.9 L1233.3 1135.3 L1234.7 1135.6 L1236.2 1135.8 L1237.7 1136.1 L1239.2 1136.3 L1240.7 1136.5 L1242.1 1136.6 L1243.6 1136.8 L1245.1 1137.0 L1246.6 1137.1 L1248.1 1137.2 L1249.6 1137.3 L1251.1 1137.4 L1252.6 1137.5 L1254.1 1137.5 L1255.6 1137.6 L1257.1 1137.7 L1258.6 1137.7 L1260.1 1137.8 L1261.6 1137.9 L1263.1 1137.9 L1264.6 1137.9 L1266.1 1138.0 L1267.6 1138.0 L1269.1 1138.0 L1270.6 1138.0 L1272.1 1138.1 L1273.6 1138.1 L1275.1 1138.1 L1276.6 1138.1 L1278.1 1138.1 L1279.6 1138.2 L1281.1 1138.2 L1282.6 1138.2 L1284.1 1138.2 L1285.6 1138.2 L1287.1 1138.2 L1288.6 1138.2 L1290.1 1138.2 L1291.6 1138.2 L1293.1 1138.2 L1294.6 1138.2 L1296.1 1138.2 L1297.6 1138.2 L1299.1 1138.2 L1300.6 1138.2 L1302.1 1138.2 L1303.6 1138.2 L1305.1 1138.2 L1306.6 1138.2 L1308.1 1138.2 L1309.6 1138.2 L1311.1 1138.2 L1312.6 1138.2 L1314.1 1138.2 L1315.6 1138.2 L1317.1 1138.2 L1318.6 1138.2 L1320.1 1138.2 L1321.6 1138.2 L1323.1 1138.2 L1324.6 1138.2 L1326.1 1138.2 L1327.6 1138.2 L1329.1 1138.2 L1330.6 1138.2 L1332.1 1138.2 L1333.6 1138.2 L1335.1 1138.2 L1336.6 1138.2 L1338.1 1138.2 L1339.6 1138.2 L1341.1 1138.2 L1342.6 1138.2 L1344.1 1138.2 L1345.6 1138.2 L1347.1 1138.2 L1348.6 1138.2 L1350.1 1138.2 L1351.6 1138.2 L1353.1 1138.2 L1354.6 1138.2 L1356.1 1138.2 L1357.6 1138.2 L1359.1 1138.2 L1360.6 1138.2 L1362.1 1138.2 L1363.6 1138.2 L1365.1 1138.2 L1366.6 1138.2 L1368.1 1138.2 L1369.6 1138.2 L1371.1 1138.2 L1372.6 1138.2 L1374.1 1138.2 L1375.6 1138.2 L1377.1 1138.2 L1378.6 1138.2 L1380.1 1138.2 L1381.6 1138.2 L1383.1 1138.2 L1384.6 1138.2 L1386.1 1138.2 L1387.6 1138.2 L1389.1 1138.2 L1390.6 1138.2 L1392.1 1138.2 L1393.6 1138.2 L1395.1 1138.2 L1396.6 1138.2 L1398.1 1138.2 L1399.6 1138.2 L1401.1 1138.2 L1402.6 1138.2 L1404.1 1138.2 L1405.6 1138.2 L1407.1 1138.2 L1408.6 1138.2 L1410.1 1138.1 L1411.6 1137.9 L1413.1 1137.7 L1414.6 1137.4 L1416.0 1137.2 L1417.5 1137.0 L1419.0 1136.8 L1420.5 1136.7 L1422.0 1136.6 L1423.5 1136.5 L1425.0 1136.5 L1426.5 1136.5 L1428.0 1136.5 L1429.5 1136.7 L1431.0 1136.8 L1432.5 1136.8 L1433.9 1136.5 L1435.2 1136.0 L1436.4 1135.2 L1437.5 1134.2 L1438.5 1133.1 L1439.3 1131.9 L1440.0 1130.6 L1440.7 1129.2 L1441.3 1127.8 L1441.8 1126.4 L1442.3 1125.0 L1442.8 1123.6 L1443.3 1122.2 L1443.7 1120.7 L1444.1 1119.3 L1444.5 1117.9 L1444.9 1116.4 L1445.3 1114.9 L1445.6 1113.5 L1446.0 1112.0 L1446.3 1110.6 L1446.7 1109.1 L1447.0 1107.6 L1447.3 1106.2 L1447.6 1104.7 L1447.9 1103.2 L1448.2 1101.8 L1448.5 1100.3 L1448.7 1098.8 L1449.0 1097.3 L1449.3 1095.9 L1449.6 1094.4 L1449.8 1092.9 L1450.1 1091.4 L1450.4 1090.0 L1450.6 1088.5 L1450.9 1087.0 L1451.1 1085.5 L1451.3 1084.0 L1451.6 1082.6 L1451.8 1081.1 L1452.0 1079.6 L1452.3 1078.1 L1452.5 1076.6 L1452.8 1075.2 L1453.0 1073.7 L1453.3 1072.2 L1453.5 1070.7 L1453.8 1069.2 L1454.1 1067.8 L1454.3 1066.3 L1454.6 1064.8 L1454.9 1063.3 L1455.2 1061.9 L1455.5 1060.4 L1455.8 1058.9 L1456.1 1057.5 L1456.4 1056.0 L1456.8 1054.5 L1457.1 1053.1 L1457.5 1051.6 L1458.0 1050.2 L1458.4 1048.8 L1458.9 1047.4 L1459.4 1046.0 L1460.0 1044.6 L1460.7 1043.3 L1461.6 1042.1 L1462.7 1041.2 L1463.9 1040.6 L1465.2 1040.6 L1466.5 1041.1 L1467.6 1041.9 L1468.6 1043.0 L1469.4 1044.3 L1470.0 1045.6 L1470.7 1047.0 L1471.3 1048.3 L1471.9 1049.7 L1472.5 1051.1 L1473.1 1052.5 L1473.6 1053.9 L1474.2 1055.3 L1474.8 1056.6 L1475.3 1058.0 L1475.9 1059.4 L1476.5 1060.8 L1477.1 1062.2 L1477.7 1063.5 L1478.3 1064.9 L1479.0 1066.3 L1479.6 1067.6 L1480.3 1069.0 L1481.0 1070.3 L1481.7 1071.6 L1482.4 1072.9 L1483.2 1074.2 L1483.9 1075.5 L1484.7 1076.8 L1485.5 1078.1 L1486.3 1079.3 L1487.2 1080.5 L1488.1 1081.7 L1489.1 1082.9 L1490.1 1084.0 L1491.1 1085.1 L1492.2 1086.1 L1493.3 1087.1 L1494.5 1088.0 L1495.7 1088.9 L1497.0 1089.7 L1498.3 1090.5 L1499.6 1091.1 L1501.0 1091.8 L1502.3 1092.4 L1503.7 1092.9 L1505.1 1093.4 L1506.6 1093.8 L1508.0 1094.2 L1509.5 1094.6 L1510.9 1094.9 L1512.4 1095.3 L1513.9 1095.5 L1515.4 1095.8 L1516.8 1096.0 L1518.3 1096.1 L1519.8 1096.2 L1521.3 1096.4 L1522.8 1096.5 L1524.3 1096.5 L1525.8 1096.6 L1527.3 1096.6 L1528.8 1096.5 L1530.3 1096.5 L1531.8 1096.4 L1533.3 1096.3 L1534.8 1096.2 L1536.3 1096.1 L1537.8 1095.9 L1539.3 1095.7 L1540.8 1095.5 L1542.3 1095.3 L1543.7 1095.0 L1545.2 1094.8 L1546.7 1094.5 L1548.1 1094.2 L1549.6 1093.9 L1551.1 1093.6 L1552.6 1093.3 L1554.0 1092.9 L1555.5 1092.6 L1556.9 1092.2 L1558.4 1091.8 L1559.8 1091.4 L1561.3 1091.0 L1562.7 1090.6 L1564.2 1090.2 L1565.6 1089.8 L1567.0 1089.4 L1568.5 1089.0 L1569.9 1088.5 L1571.3 1088.0 L1572.8 1087.6 L1574.2 1087.1 L1575.6 1086.6 L1577.0 1086.1 L1578.4 1085.6 L1579.8 1085.1 L1581.2 1084.6 L1582.6 1084.0 L1584.0 1083.5 L1585.4 1082.9 L1586.8 1082.3 L1588.2 1081.7 L1589.6 1081.1 L1590.9 1080.5 L1592.3 1079.9 L1593.7 1079.3 L1595.0 1078.6 L1596.4 1078.0 L1597.7 1077.3 L1599.1 1076.6 L1600.4 1075.9 L1601.7 1075.3 L1603.0 1074.5 L1604.4 1073.8 L1605.7 1073.1 L1607.0 1072.4 L1608.3 1071.7 L1609.6 1070.9 L1610.9 1070.2 L1612.2 1069.4 L1613.5 1068.7 L1614.8 1067.9 L1616.1 1067.1 L1617.4 1066.4 L1618.6 1065.6 L1619.9 1064.8 L1621.2 1064.0" fill="none" stroke="#000" stroke-width="3.5" stroke-linejoin="round" stroke-linecap="butt"/>
<path d="M974.6 1123.4 L976.1 1123.3 L977.6 1123.3 L979.1 1123.2 L980.6 1123.1 L982.1 1123.1 L983.6 1123.0 L985.1 1123.0 L986.6 1123.0 L988.1 1123.0 L989.6 1123.0 L991.1 1123.1 L992.6 1123.1 L994.1 1123.2 L995.6 1123.3 L997.1 1123.4 L998.6 1123.7 L1000.0 1124.0 L1001.5 1124.3 L1002.9 1124.7 L1004.3 1125.2 L1005.7 1125.8 L1007.1 1126.4 L1008.4 1127.1 L1009.8 1127.8 L1011.1 1128.4 L1012.5 1129.0 L1013.9 1129.5 L1015.3 1130.0 L1016.7 1130.4 L1018.2 1130.7 L1019.7 1130.9 L1021.2 1130.9 L1022.6 1130.7 L1024.1 1130.3 L1025.4 1129.8 L1026.7 1129.0 L1027.9 1128.2 L1029.0 1127.2 L1030.0 1126.1 L1030.9 1124.9 L1031.8 1123.7 L1032.7 1122.4 L1033.5 1121.2 L1034.2 1119.9 L1034.9 1118.6 L1035.6 1117.2 L1036.3 1115.9 L1036.9 1114.5 L1037.5 1113.2 L1038.2 1111.8 L1038.8 1110.4 L1039.4 1109.1 L1040.0 1107.7 L1040.6 1106.3 L1041.2 1104.9 L1041.8 1103.6 L1042.4 1102.2 L1043.0 1100.8 L1043.6 1099.4 L1044.2 1098.0 L1044.8 1096.7 L1045.4 1095.3 L1046.0 1093.9 L1046.7 1092.6 L1047.3 1091.2 L1047.9 1089.9 L1048.6 1088.5 L1049.2 1087.2 L1049.9 1085.8 L1050.6 1084.5 L1051.3 1083.1 L1052.0 1081.8 L1052.7 1080.5 L1053.5 1079.3 L1054.4 1078.0 L1055.3 1076.8 L1056.2 1075.6 L1057.1 1074.5 L1058.0 1073.3 L1058.9 1072.1 L1059.7 1070.8 L1060.5 1069.5 L1061.3 1068.2 L1062.0 1066.9 L1062.7 1065.6 L1063.3 1064.2 L1063.8 1062.8 L1064.4 1061.4 L1064.8 1060.0 L1065.3 1058.6 L1065.7 1057.1 L1066.1 1055.7 L1066.4 1054.2 L1066.8 1052.8 L1067.1 1051.3 L1067.5 1049.8 L1067.8 1048.4 L1068.1 1046.9 L1068.3 1045.4 L1068.6 1043.9 L1068.8 1042.5 L1069.1 1041.0 L1069.3 1039.5 L1069.5 1038.0 L1069.8 1036.5 L1070.0 1035.0 L1070.2 1033.6 L1070.4 1032.1 L1070.6 1030.6 L1070.8 1029.1 L1071.0 1027.6 L1071.3 1026.1 L1071.5 1024.6 L1071.7 1023.2 L1071.8 1021.7 L1072.0 1020.2 L1072.2 1018.7 L1072.4 1017.2 L1072.6 1015.7 L1072.8 1014.2 L1072.9 1012.7 L1073.1 1011.2 L1073.3 1009.8 L1073.5 1008.3 L1073.6 1006.8 L1073.8 1005.3 L1074.0 1003.8 L1074.1 1002.3 L1074.3 1000.8 L1074.4 999.3 L1074.6 997.8 L1074.8 996.3 L1074.9 994.8 L1075.1 993.3 L1075.2 991.9 L1075.4 990.4 L1075.5 988.9 L1075.7 987.4 L1075.8 985.9 L1075.9 984.4 L1076.1 982.9 L1076.2 981.4 L1076.4 979.9 L1076.5 978.4 L1076.6 976.9 L1076.8 975.4 L1076.9 973.9 L1077.0 972.4 L1077.2 970.9 L1077.3 969.4 L1077.5 967.9 L1077.6 966.5 L1077.7 965.0 L1077.9 963.5 L1078.0 962.0 L1078.1 960.5 L1078.3 959.0 L1078.4 957.5 L1078.6 956.0 L1078.7 954.5 L1078.8 953.0 L1079.0 951.5 L1079.1 950.0 L1079.3 948.5 L1079.4 947.0 L1079.5 945.5 L1079.7 944.0 L1079.8 942.6 L1080.0 941.1 L1080.1 939.6 L1080.2 938.1 L1080.4 936.6 L1080.5 935.1 L1080.7 933.6 L1080.8 932.1 L1080.9 930.6 L1081.1 929.1 L1081.2 927.6 L1081.4 926.1 L1081.6 924.6 L1081.7 923.1 L1081.9 921.7 L1082.0 920.2 L1082.2 918.7 L1082.3 917.2 L1082.5 915.7 L1082.6 914.2 L1082.7 912.7 L1082.9 911.2 L1083.0 909.7 L1083.1 908.2 L1083.2 906.7 L1083.3 905.2 L1083.4 903.7 L1083.5 902.2 L1083.6 900.7 L1083.7 899.2 L1083.7 897.7 L1083.8 896.2 L1083.9 894.7 L1084.0 893.2 L1084.1 891.7 L1084.2 890.2 L1084.3 888.7 L1084.3 887.2 L1084.4 885.7 L1084.5 884.2 L1084.6 882.7 L1084.7 881.2 L1084.8 879.8 L1084.9 878.3 L1085.0 876.8 L1085.2 875.3 L1085.3 873.8 L1085.5 872.3 L1085.6 870.8 L1085.8 869.3 L1086.0 867.8 L1086.1 866.3 L1086.3 864.8 L1086.5 863.3 L1086.8 861.9 L1087.0 860.4 L1087.3 858.9 L1087.5 857.4 L1087.8 856.0 L1088.2 854.5 L1088.5 853.0 L1088.8 851.6 L1089.3 850.1 L1089.8 848.8 L1090.6 847.5 L1091.5 846.6 L1092.7 846.1 L1093.9 846.2 L1095.0 847.0 L1095.8 848.1 L1096.5 849.4 L1097.0 850.8 L1097.5 852.2 L1097.9 853.7 L1098.3 855.1 L1098.7 856.6 L1099.1 858.0 L1099.5 859.5 L1099.8 860.9 L1100.2 862.4 L1100.5 863.8 L1100.8 865.3 L1101.1 866.8 L1101.4 868.2 L1101.7 869.7 L1102.0 871.2 L1102.3 872.7 L1102.6 874.1 L1102.9 875.6 L1103.2 877.1 L1103.5 878.5 L1103.7 880.0 L1104.0 881.5 L1104.3 883.0 L1104.5 884.4 L1104.8 885.9 L1105.1 887.4 L1105.3 888.9 L1105.6 890.4 L1105.8 891.8 L1106.0 893.3 L1106.3 894.8 L1106.5 896.3 L1106.7 897.8 L1107.0 899.3 L1107.2 900.7 L1107.4 902.2 L1107.7 903.7 L1107.9 905.2 L1108.1 906.7 L1108.4 908.1 L1108.6 909.6 L1108.9 911.1 L1109.1 912.6 L1109.4 914.1 L1109.6 915.5 L1109.9 917.0 L1110.2 918.5 L1110.4 920.0 L1110.7 921.4 L1111.0 922.9 L1111.2 924.4 L1111.5 925.9 L1111.8 927.4 L1112.1 928.8 L1112.3 930.3 L1112.6 931.8 L1112.9 933.3 L1113.1 934.7 L1113.4 936.2 L1113.7 937.7 L1113.9 939.2 L1114.2 940.6 L1114.4 942.1 L1114.7 943.6 L1114.9 945.1 L1115.2 946.6 L1115.5 948.0 L1115.7 949.5 L1116.0 951.0 L1116.2 952.5 L1116.5 953.9 L1116.8 955.4 L1117.0 956.9 L1117.3 958.4 L1117.6 959.8 L1117.9 961.3 L1118.2 962.8 L1118.4 964.3 L1118.7 965.7 L1119.0 967.2 L1119.3 968.7 L1119.6 970.1 L1119.9 971.6 L1120.2 973.1 L1120.5 974.6 L1120.8 976.0 L1121.1 977.5 L1121.4 979.0 L1121.8 980.4 L1122.1 981.9 L1122.4 983.4 L1122.7 984.8 L1123.1 986.3 L1123.4 987.7 L1123.8 989.2 L1124.1 990.7 L1124.4 992.1 L1124.8 993.6 L1125.1 995.0 L1125.5 996.5 L1125.9 998.0 L1126.2 999.4 L1126.6 1000.9 L1127.0 1002.3 L1127.3 1003.8 L1127.7 1005.2 L1128.1 1006.7 L1128.5 1008.1 L1128.9 1009.6 L1129.3 1011.0 L1129.7 1012.5 L1130.1 1013.9 L1130.5 1015.4 L1130.9 1016.8 L1131.3 1018.2 L1131.7 1019.7 L1132.1 1021.1 L1132.5 1022.6 L1132.9 1024.0 L1133.4 1025.5 L1133.8 1026.9 L1134.2 1028.3 L1134.7 1029.8 L1135.1 1031.2 L1135.6 1032.6 L1136.0 1034.1 L1136.5 1035.5 L1137.0 1036.9 L1137.4 1038.3 L1137.9 1039.8 L1138.4 1041.2 L1138.9 1042.6 L1139.4 1044.0 L1139.9 1045.4 L1140.4 1046.8 L1140.9 1048.3 L1141.4 1049.7 L1141.9 1051.1 L1142.4 1052.5 L1143.0 1053.9 L1143.5 1055.3 L1144.0 1056.7 L1144.6 1058.1 L1145.1 1059.5 L1145.7 1060.9 L1146.3 1062.3 L1146.8 1063.6 L1147.4 1065.0 L1148.0 1066.4 L1148.6 1067.8 L1149.2 1069.2 L1149.8 1070.5 L1150.4 1071.9 L1151.1 1073.3 L1151.7 1074.6 L1152.3 1076.0 L1153.0 1077.3 L1153.7 1078.7 L1154.3 1080.0 L1155.0 1081.3 L1155.7 1082.7 L1156.4 1084.0 L1157.2 1085.3 L1157.9 1086.6 L1158.7 1087.9 L1159.5 1089.2 L1160.2 1090.4 L1161.0 1091.7 L1161.9 1093.0 L1162.7 1094.2 L1163.6 1095.4 L1164.5 1096.6 L1165.4 1097.8 L1166.3 1099.0 L1167.3 1100.2 L1168.3 1101.3 L1169.3 1102.4 L1170.4 1103.4 L1171.5 1104.3 L1172.8 1105.2 L1174.0 1106.0 L1175.3 1106.8 L1176.6 1107.6 L1177.9 1108.3 L1179.2 1109.0 L1180.5 1109.7 L1181.9 1110.4 L1183.2 1111.1 L1184.5 1111.8 L1185.8 1112.5 L1187.1 1113.3 L1188.4 1114.1 L1189.7 1114.9 L1190.9 1115.7 L1192.2 1116.5 L1193.5 1117.3 L1194.8 1118.1 L1196.0 1118.8 L1197.3 1119.6 L1198.6 1120.3 L1200.0 1121.0 L1201.3 1121.7 L1202.7 1122.3 L1204.0 1123.0 L1205.4 1123.5 L1206.8 1124.1 L1208.2 1124.6 L1209.6 1125.1 L1211.1 1125.6 L1212.5 1126.1 L1213.9 1126.5 L1215.4 1126.9 L1216.8 1127.4 L1218.2 1127.8 L1219.7 1128.2 L1221.1 1128.5 L1222.6 1128.9 L1224.1 1129.2 L1225.5 1129.6 L1227.0 1129.9 L1228.4 1130.3 L1229.9 1130.6 L1231.4 1130.9 L1232.8 1131.2 L1234.3 1131.5 L1235.8 1131.8 L1237.3 1132.0 L1238.7 1132.3 L1240.2 1132.5 L1241.7 1132.7 L1243.2 1132.9 L1244.7 1133.2 L1246.2 1133.4 L1247.7 1133.5 L1249.1 1133.7 L1250.6 1133.9 L1252.1 1134.1 L1253.6 1134.3 L1255.1 1134.4 L1256.6 1134.6 L1258.1 1134.8 L1259.6 1134.9 L1261.1 1135.1 L1262.6 1135.3 L1264.0 1135.4 L1265.5 1135.6 L1267.0 1135.7 L1268.5 1135.8 L1270.0 1135.9 L1271.5 1136.0 L1273.0 1136.1 L1274.5 1136.2 L1276.0 1136.3 L1277.5 1136.4 L1279.0 1136.5 L1280.5 1136.5 L1282.0 1136.6 L1283.5 1136.7 L1285.0 1136.7 L1286.5 1136.8 L1288.0 1136.8 L1289.5 1136.9 L1291.0 1136.9 L1292.5 1137.0 L1294.0 1137.1 L1295.5 1137.1 L1297.0 1137.2 L1298.5 1137.2 L1300.0 1137.3 L1301.5 1137.3 L1303.0 1137.4 L1304.5 1137.4 L1306.0 1137.5 L1307.5 1137.5 L1309.0 1137.6 L1310.5 1137.6 L1312.0 1137.7 L1313.5 1137.7 L1315.0 1137.8 L1316.5 1137.8 L1318.0 1137.8 L1319.5 1137.9 L1321.0 1137.9 L1322.5 1137.9 L1324.0 1138.0 L1325.5 1138.0 L1327.0 1138.0 L1328.5 1138.0 L1330.0 1138.0 L1331.5 1138.0 L1333.0 1138.1 L1334.5 1138.1 L1336.0 1138.1 L1337.5 1138.1 L1339.0 1138.1 L1340.5 1138.1 L1342.0 1138.1 L1343.5 1138.1 L1345.0 1138.2 L1346.5 1138.2 L1348.0 1138.2 L1349.5 1138.2 L1351.0 1138.2 L1352.5 1138.2 L1354.0 1138.2 L1355.5 1138.2 L1357.0 1138.2 L1358.5 1138.2 L1360.0 1138.2 L1361.5 1138.2 L1363.0 1138.2 L1364.5 1138.2 L1366.0 1138.2 L1367.5 1138.2 L1369.0 1138.2 L1370.5 1138.2 L1372.0 1138.2 L1373.5 1138.2 L1375.0 1138.2 L1376.5 1138.2 L1378.0 1138.2 L1379.5 1138.2 L1381.0 1138.2 L1382.5 1138.2 L1384.0 1138.2 L1385.5 1138.2 L1387.0 1138.2 L1388.5 1138.2 L1390.0 1138.2 L1391.5 1138.2 L1393.0 1138.2 L1394.5 1138.2 L1396.0 1138.2 L1397.5 1138.2 L1399.0 1138.2 L1400.5 1138.2 L1402.0 1138.2 L1403.5 1138.2 L1405.0 1138.2 L1406.5 1138.2 L1408.0 1138.2 L1409.5 1138.2 L1411.0 1138.2 L1412.5 1138.1 L1414.0 1138.1 L1415.5 1138.0 L1417.0 1138.0 L1418.5 1137.9 L1420.0 1137.8 L1421.5 1137.7 L1423.0 1137.6 L1424.5 1137.3 L1425.9 1137.0 L1427.3 1136.5 L1428.7 1135.9 L1430.0 1135.1 L1431.2 1134.3 L1432.3 1133.3 L1433.5 1132.4 L1434.7 1131.5 L1435.9 1130.6 L1437.1 1129.7 L1438.4 1128.9 L1439.7 1128.2 L1441.1 1127.6 L1442.5 1127.2 L1444.0 1126.9 L1445.4 1126.8 L1446.9 1126.9 L1448.3 1127.2 L1449.8 1127.6 L1451.2 1128.1 L1452.6 1128.7 L1454.0 1129.3 L1455.3 1129.9 L1456.7 1130.5 L1458.1 1131.0 L1459.5 1131.5 L1461.0 1131.8 L1462.4 1132.1 L1463.9 1132.3 L1465.4 1132.3 L1466.9 1132.3 L1468.4 1132.2 L1469.9 1132.0 L1471.4 1131.9 L1472.9 1131.7 L1474.4 1131.5 L1475.9 1131.3 L1477.4 1131.2 L1478.8 1131.0 L1480.3 1130.8 L1481.8 1130.7 L1483.3 1130.5 L1484.8 1130.4 L1486.3 1130.2 L1487.8 1130.0 L1489.3 1129.9 L1490.8 1129.7 L1492.3 1129.6 L1493.8 1129.4 L1495.3 1129.2 L1496.7 1129.0 L1498.2 1128.8 L1499.7 1128.6 L1501.2 1128.4 L1502.7 1128.2 L1504.2 1128.0 L1505.7 1127.8 L1507.1 1127.6 L1508.6 1127.4 L1510.1 1127.1 L1511.6 1126.9 L1513.1 1126.7 L1514.6 1126.4 L1516.0 1126.2 L1517.5 1125.9 L1519.0 1125.6 L1520.5 1125.4 L1521.9 1125.1 L1523.4 1124.8 L1524.9 1124.5 L1526.4 1124.2 L1527.8 1124.0 L1529.3 1123.6 L1530.8 1123.3 L1532.2 1123.0 L1533.7 1122.7 L1535.2 1122.4 L1536.6 1122.1 L1538.1 1121.8 L1539.6 1121.4 L1541.0 1121.1 L1542.5 1120.7 L1543.9 1120.4 L1545.4 1120.0 L1546.9 1119.7 L1548.3 1119.3 L1549.8 1118.9 L1551.2 1118.6 L1552.7 1118.2 L1554.1 1117.8 L1555.6 1117.4 L1557.0 1117.0 L1558.5 1116.6 L1559.9 1116.2 L1561.3 1115.7 L1562.8 1115.3 L1564.2 1114.8 L1565.6 1114.4 L1567.0 1113.9 L1568.5 1113.4 L1569.9 1112.9 L1571.3 1112.4 L1572.7 1111.9 L1574.1 1111.4 L1575.5 1110.9 L1577.0 1110.4 L1578.4 1109.9 L1579.8 1109.4 L1581.2 1108.8 L1582.6 1108.3 L1584.0 1107.7 L1585.4 1107.2 L1586.7 1106.6 L1588.1 1106.0 L1589.5 1105.5 L1590.9 1104.9 L1592.3 1104.3 L1593.7 1103.7 L1595.0 1103.1 L1596.4 1102.5 L1597.8 1101.9 L1599.1 1101.3 L1600.5 1100.6 L1601.9 1100.0 L1603.2 1099.4 L1604.6 1098.7 L1605.9 1098.1 L1607.3 1097.5 L1608.6 1096.8 L1610.0 1096.2 L1611.4 1095.5 L1612.7 1094.8 L1614.0 1094.2 L1615.4 1093.5 L1616.7 1092.9 L1618.1 1092.2 L1619.4 1091.5 L1620.8 1090.8 L1621.2 1090.6" fill="none" stroke="#ff0000" stroke-width="3.5" stroke-linejoin="round" stroke-linecap="butt"/>
<rect x="974.6" y="658.0" width="646.6" height="481.0" fill="none" stroke="#000" stroke-width="1.90"/>
<path d="M974.6 1139.0h-10.0M974.6 1090.9h-6.0M974.6 1042.8h-10.0M974.6 994.7h-6.0M974.6 946.6h-10.0M974.6 898.5h-6.0M974.6 850.4h-10.0M974.6 802.3h-6.0M974.6 754.2h-10.0M974.6 706.1h-6.0M974.6 658.0h-10.0M974.6 1139.0v10.0M1055.4 1139.0v5.5M1136.2 1139.0v10.0M1217.1 1139.0v5.5M1297.9 1139.0v10.0M1378.7 1139.0v5.5M1459.6 1139.0v10.0M1540.4 1139.0v5.5M1621.2 1139.0v10.0" stroke="#000" stroke-width="1.90" fill="none"/>
<g font-family="'Liberation Serif', 'Times New Roman', serif" font-size="37" fill="#000">
<text transform="translate(958.1 1150.3) scale(1 1.035)" text-anchor="end">0</text>
<text transform="translate(958.1 1054.1) scale(1 1.035)" text-anchor="end">20</text>
<text transform="translate(958.1 957.9) scale(1 1.035)" text-anchor="end">40</text>
<text transform="translate(958.1 861.7) scale(1 1.035)" text-anchor="end">60</text>
<text transform="translate(958.1 765.5) scale(1 1.035)" text-anchor="end">80</text>
<text transform="translate(958.1 669.3) scale(1 1.035)" text-anchor="end">100</text>
<text transform="translate(974.6 1184.6) scale(1 1.035)" text-anchor="middle">380</text>
<text transform="translate(1136.2 1184.6) scale(1 1.035)" text-anchor="middle">480</text>
<text transform="translate(1297.9 1184.6) scale(1 1.035)" text-anchor="middle">580</text>
<text transform="translate(1459.6 1184.6) scale(1 1.035)" text-anchor="middle">680</text>
<text transform="translate(1621.2 1184.6) scale(1 1.035)" text-anchor="middle">780</text>
</g>
<g font-family="'Liberation Serif', 'Times New Roman', serif" font-size="40.5" fill="#000">
<text x="1297.9" y="1235.7" text-anchor="middle">Wavelength (nm)</text>
<text transform="translate(879.3 952.2) rotate(-90)" text-anchor="middle">Cross-polarized Reflectivity (%)</text>
</g>
<text x="852.5" y="665.8" font-family="'Liberation Serif', 'Times New Roman', serif" font-weight="bold" font-size="43.5" fill="#000">d</text>
<path d="M1415.4 700.0H1498.6" stroke="#000" stroke-width="3.6" stroke-linecap="round" fill="none"/>
<text x="1508.9" y="712.8" font-family="'Liberation Serif', 'Times New Roman', serif" font-size="38" fill="#000">0nm</text>
<path d="M1415.4 746.6H1498.6" stroke="#ff0000" stroke-width="3.6" stroke-linecap="round" fill="none"/>
<text x="1508.9" y="759.4" font-family="'Liberation Serif', 'Times New Roman', serif" font-size="38" fill="#000">5nm</text>
</g>
</svg>
</body>
</html>
